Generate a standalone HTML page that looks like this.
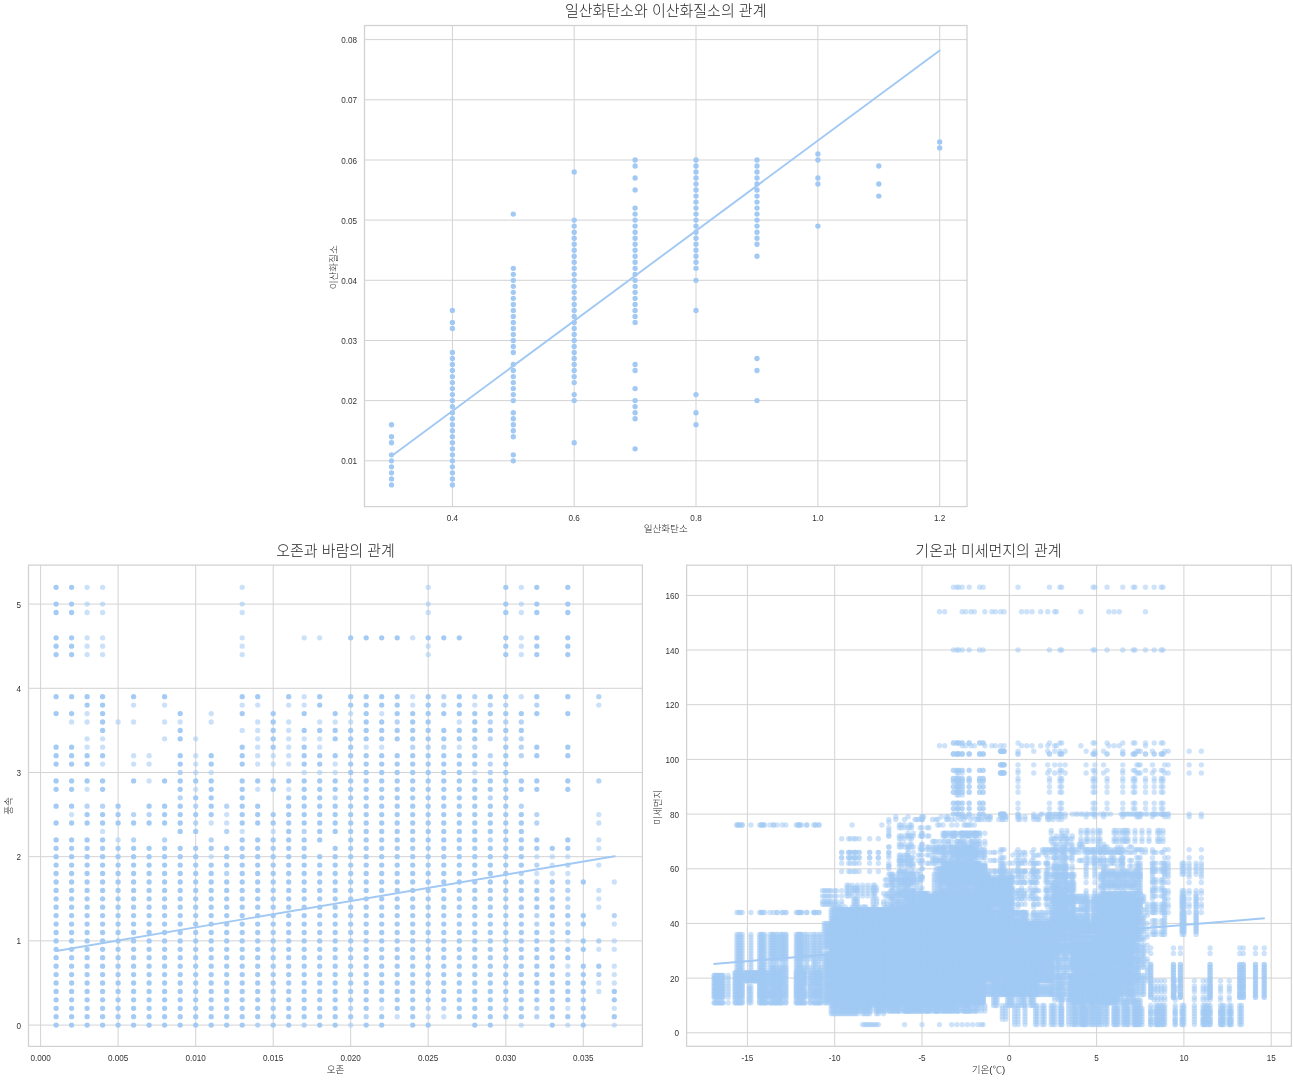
<!DOCTYPE html>
<html lang="ko"><head><meta charset="utf-8"><title>대기오염 산점도</title>
<style>
html,body{margin:0;padding:0;background:#fff}
svg{display:block;will-change:transform}
text{font-family:"Liberation Sans","Noto Sans CJK KR",sans-serif;fill:#262626}
.tk{font-size:9.6px;fill:#333}
.lb{font-size:9.6px;font-weight:300}
.tt{font-size:15px;font-weight:300}
</style></head><body>
<svg width="1293" height="1080" viewBox="0 0 1293 1080">
<path d="M452.4 25.5V506.6M574.2 25.5V506.6M696 25.5V506.6M817.9 25.5V506.6M939.7 25.5V506.6M364.5 460.8H967M364.5 400.6H967M364.5 340.5H967M364.5 280.3H967M364.5 220.1H967M364.5 160H967M364.5 99.8H967M364.5 39.6H967" fill="none" stroke="#d3d3d3" stroke-width="1"/>
<path d="M391.5 484.9zM391.5 478.9zM391.5 472.8zM391.5 466.8zM391.5 460.8zM391.5 454.8zM391.5 442.7zM391.5 436.7zM391.5 424.7zM452.4 484.9zM452.4 478.9zM452.4 472.8zM452.4 466.8zM452.4 460.8zM452.4 454.8zM452.4 448.8zM452.4 442.7zM452.4 436.7zM452.4 430.7zM452.4 424.7zM452.4 418.7zM452.4 412.7zM452.4 406.6zM452.4 400.6zM452.4 394.6zM452.4 388.6zM452.4 382.6zM452.4 376.6zM452.4 370.5zM452.4 364.5zM452.4 358.5zM452.4 352.5zM452.4 328.4zM452.4 322.4zM452.4 310.4zM513.3 460.8zM513.3 454.8zM513.3 436.7zM513.3 430.7zM513.3 424.7zM513.3 418.7zM513.3 412.7zM513.3 400.6zM513.3 394.6zM513.3 388.6zM513.3 382.6zM513.3 376.6zM513.3 370.5zM513.3 364.5zM513.3 352.5zM513.3 346.5zM513.3 340.5zM513.3 334.4zM513.3 328.4zM513.3 322.4zM513.3 316.4zM513.3 310.4zM513.3 304.4zM513.3 298.3zM513.3 292.3zM513.3 286.3zM513.3 280.3zM513.3 274.3zM513.3 268.3zM513.3 214.1zM574.2 442.7zM574.2 400.6zM574.2 394.6zM574.2 382.6zM574.2 376.6zM574.2 370.5zM574.2 364.5zM574.2 358.5zM574.2 352.5zM574.2 346.5zM574.2 340.5zM574.2 334.4zM574.2 328.4zM574.2 322.4zM574.2 316.4zM574.2 310.4zM574.2 304.4zM574.2 298.3zM574.2 292.3zM574.2 286.3zM574.2 280.3zM574.2 274.3zM574.2 268.3zM574.2 262.2zM574.2 256.2zM574.2 250.2zM574.2 244.2zM574.2 238.2zM574.2 232.2zM574.2 226.1zM574.2 220.1zM574.2 172zM635.1 448.8zM635.1 418.7zM635.1 412.7zM635.1 406.6zM635.1 400.6zM635.1 388.6zM635.1 370.5zM635.1 364.5zM635.1 322.4zM635.1 316.4zM635.1 310.4zM635.1 304.4zM635.1 298.3zM635.1 292.3zM635.1 286.3zM635.1 280.3zM635.1 274.3zM635.1 268.3zM635.1 262.2zM635.1 256.2zM635.1 250.2zM635.1 244.2zM635.1 238.2zM635.1 232.2zM635.1 226.1zM635.1 220.1zM635.1 214.1zM635.1 208.1zM635.1 190zM635.1 178zM635.1 166zM635.1 160zM696 424.7zM696 412.7zM696 394.6zM696 310.4zM696 280.3zM696 268.3zM696 262.2zM696 256.2zM696 250.2zM696 244.2zM696 238.2zM696 232.2zM696 226.1zM696 220.1zM696 214.1zM696 208.1zM696 202.1zM696 196.1zM696 190zM696 184zM696 178zM696 172zM696 166zM696 160zM757 400.6zM757 370.5zM757 358.5zM757 256.2zM757 244.2zM757 238.2zM757 232.2zM757 226.1zM757 220.1zM757 214.1zM757 208.1zM757 202.1zM757 196.1zM757 190zM757 184zM757 178zM757 172zM757 166zM757 160zM817.9 226.1zM817.9 184zM817.9 178zM817.9 160zM817.9 153.9zM878.8 196.1zM878.8 184zM878.8 166zM939.7 147.9zM939.7 141.9z" fill="none" stroke="#a1c9f4" stroke-width="5.35" stroke-linecap="round"/>
<path d="M391.6 455.9L939.7 50.5" fill="none" stroke="#a1c9f4" stroke-width="1.9" stroke-linecap="round"/>
<rect x="364.5" y="25.5" width="602.5" height="481.1" fill="none" stroke="#d1d1d1" stroke-width="1.25"/>
<text class="tk" transform="translate(452.4 520.9) scale(.85 1)" text-anchor="middle">0.4</text>
<text class="tk" transform="translate(574.2 520.9) scale(.85 1)" text-anchor="middle">0.6</text>
<text class="tk" transform="translate(696 520.9) scale(.85 1)" text-anchor="middle">0.8</text>
<text class="tk" transform="translate(817.9 520.9) scale(.85 1)" text-anchor="middle">1.0</text>
<text class="tk" transform="translate(939.7 520.9) scale(.85 1)" text-anchor="middle">1.2</text>
<text class="tk" transform="translate(357 464.3) scale(.85 1)" text-anchor="end">0.01</text>
<text class="tk" transform="translate(357 404.1) scale(.85 1)" text-anchor="end">0.02</text>
<text class="tk" transform="translate(357 344) scale(.85 1)" text-anchor="end">0.03</text>
<text class="tk" transform="translate(357 283.8) scale(.85 1)" text-anchor="end">0.04</text>
<text class="tk" transform="translate(357 223.6) scale(.85 1)" text-anchor="end">0.05</text>
<text class="tk" transform="translate(357 163.5) scale(.85 1)" text-anchor="end">0.06</text>
<text class="tk" transform="translate(357 103.3) scale(.85 1)" text-anchor="end">0.07</text>
<text class="tk" transform="translate(357 43.1) scale(.85 1)" text-anchor="end">0.08</text>
<text class="lb" x="665.7" y="532.3" text-anchor="middle">일산화탄소</text>
<text class="lb" transform="translate(337.2 267.3) rotate(-90)" text-anchor="middle">이산화질소</text>
<text class="tt" x="665.7" y="15.6" text-anchor="middle">일산화탄소와 이산화질소의 관계</text>
<path d="M40.6 565.1V1046.4M118.1 565.1V1046.4M195.7 565.1V1046.4M273.2 565.1V1046.4M350.7 565.1V1046.4M428.2 565.1V1046.4M505.8 565.1V1046.4M583.3 565.1V1046.4M28.5 1025.1H642.4M28.5 940.9H642.4M28.5 856.7H642.4M28.5 772.5H642.4M28.5 688.3H642.4M28.5 604.1H642.4" fill="none" stroke="#d3d3d3" stroke-width="1"/>
<path d="M87.1 587.3zM102.6 587.3zM242.2 587.3zM428.2 587.3zM521.3 587.3zM87.1 604.1zM102.6 604.1zM242.2 604.1zM428.2 604.1zM521.3 604.1zM87.1 612.5zM102.6 612.5zM242.2 612.5zM428.2 612.5zM521.3 612.5zM87.1 637.8zM102.6 637.8zM242.2 637.8zM304.2 637.8zM319.7 637.8zM412.7 637.8zM521.3 637.8zM87.1 646.2zM102.6 646.2zM242.2 646.2zM428.2 646.2zM521.3 646.2zM87.1 654.6zM102.6 654.6zM242.2 654.6zM428.2 654.6zM521.3 654.6zM304.2 696.7zM412.7 696.7zM521.3 696.7zM133.6 705.1zM164.6 705.1zM242.2 705.1zM257.7 705.1zM288.7 705.1zM304.2 705.1zM412.7 705.1zM474.8 705.1zM598.8 705.1zM87.1 713.6zM211.2 713.6zM350.7 713.6zM381.7 713.6zM71.6 722zM87.1 722zM118.1 722zM133.6 722zM164.6 722zM180.2 722zM211.2 722zM257.7 722zM288.7 722zM319.7 722zM335.2 722zM350.7 722zM459.3 722zM242.2 730.4zM257.7 730.4zM288.7 730.4zM87.1 738.8zM102.6 738.8zM164.6 738.8zM195.7 738.8zM257.7 738.8zM288.7 738.8zM304.2 738.8zM319.7 738.8zM87.1 747.2zM102.6 747.2zM257.7 747.2zM288.7 747.2zM319.7 747.2zM366.2 747.2zM381.7 747.2zM459.3 747.2zM133.6 755.7zM149.1 755.7zM195.7 755.7zM257.7 755.7zM273.2 755.7zM288.7 755.7zM102.6 764.1zM133.6 764.1zM149.1 764.1zM195.7 764.1zM257.7 764.1zM273.2 764.1zM288.7 764.1zM335.2 764.1zM195.7 772.5zM211.2 772.5zM304.2 772.5zM319.7 772.5zM335.2 772.5zM474.8 772.5zM149.1 780.9zM87.1 789.3zM195.7 789.3zM257.7 789.3zM288.7 789.3zM71.6 814.6zM226.7 814.6zM598.8 814.6zM211.2 823zM226.7 823zM598.8 823zM102.6 831.4zM242.2 831.4zM273.2 831.4zM118.1 839.9zM598.8 839.9zM598.8 848.3zM211.2 856.7zM536.8 856.7zM552.3 856.7zM567.8 856.7zM552.3 865.1zM598.8 865.1zM536.8 873.5zM552.3 873.5zM567.8 873.5zM614.3 882zM598.8 890.4zM598.8 898.8zM598.8 907.2zM614.3 924.1zM567.8 940.9zM614.3 940.9zM598.8 949.3zM614.3 949.3zM567.8 966.2zM614.3 966.2zM614.3 974.6zM598.8 983zM614.3 983zM598.8 991.4zM381.7 1008.3zM567.8 1008.3zM614.3 1008.3zM397.2 1016.7zM428.2 1016.7zM443.8 1016.7zM350.7 1025.1zM521.3 1025.1zM567.8 1025.1zM614.3 1025.1z" fill="none" stroke="#a1c9f4" stroke-opacity="0.56" stroke-width="5.3" stroke-linecap="round"/>
<path d="M443.8 696.7zM474.8 696.7zM598.8 696.7zM443.8 705.1zM490.3 705.1zM505.8 705.1zM536.8 705.1zM397.2 722zM490.3 722zM505.8 722zM521.3 722zM490.3 738.8zM505.8 738.8zM521.3 738.8zM412.7 747.2zM428.2 747.2zM443.8 747.2zM474.8 747.2zM521.3 747.2zM490.3 755.7zM521.3 755.7zM490.3 764.1zM180.2 772.5zM490.3 772.5zM598.8 780.9zM180.2 797.8zM335.2 797.8zM490.3 797.8zM87.1 806.2zM102.6 806.2zM195.7 806.2zM226.7 806.2zM521.3 806.2zM133.6 814.6zM149.1 814.6zM536.8 814.6zM195.7 823zM536.8 823zM226.7 831.4zM304.2 831.4zM133.6 839.9zM164.6 839.9zM211.2 839.9zM490.3 839.9zM536.8 865.1zM567.8 865.1zM226.7 873.5zM521.3 873.5zM536.8 882zM567.8 882zM552.3 890.4zM567.8 890.4zM567.8 898.8zM567.8 907.2zM536.8 915.6zM614.3 915.6zM536.8 924.1zM567.8 924.1zM552.3 932.5zM598.8 940.9zM567.8 974.6zM598.8 974.6zM350.7 1008.3zM428.2 1008.3zM443.8 1008.3zM505.8 1008.3zM536.8 1008.3zM366.2 1016.7zM536.8 1016.7zM257.7 1025.1zM304.2 1025.1z" fill="none" stroke="#a1c9f4" stroke-opacity="0.78" stroke-width="5.3" stroke-linecap="round"/>
<path d="M56.1 587.3zM71.6 587.3zM505.8 587.3zM536.8 587.3zM567.8 587.3zM56.1 604.1zM71.6 604.1zM505.8 604.1zM536.8 604.1zM567.8 604.1zM56.1 612.5zM71.6 612.5zM505.8 612.5zM536.8 612.5zM567.8 612.5zM56.1 637.8zM71.6 637.8zM350.7 637.8zM366.2 637.8zM381.7 637.8zM397.2 637.8zM428.2 637.8zM443.8 637.8zM459.3 637.8zM505.8 637.8zM536.8 637.8zM567.8 637.8zM56.1 646.2zM71.6 646.2zM505.8 646.2zM536.8 646.2zM567.8 646.2zM56.1 654.6zM71.6 654.6zM505.8 654.6zM536.8 654.6zM567.8 654.6zM56.1 696.7zM71.6 696.7zM87.1 696.7zM102.6 696.7zM133.6 696.7zM164.6 696.7zM242.2 696.7zM257.7 696.7zM288.7 696.7zM319.7 696.7zM350.7 696.7zM366.2 696.7zM381.7 696.7zM397.2 696.7zM428.2 696.7zM459.3 696.7zM490.3 696.7zM505.8 696.7zM536.8 696.7zM567.8 696.7zM87.1 705.1zM102.6 705.1zM319.7 705.1zM350.7 705.1zM366.2 705.1zM381.7 705.1zM397.2 705.1zM428.2 705.1zM459.3 705.1zM56.1 713.6zM71.6 713.6zM102.6 713.6zM180.2 713.6zM242.2 713.6zM273.2 713.6zM304.2 713.6zM335.2 713.6zM366.2 713.6zM397.2 713.6zM412.7 713.6zM428.2 713.6zM443.8 713.6zM459.3 713.6zM474.8 713.6zM490.3 713.6zM505.8 713.6zM521.3 713.6zM536.8 713.6zM567.8 713.6zM102.6 722zM273.2 722zM366.2 722zM381.7 722zM412.7 722zM428.2 722zM474.8 722zM102.6 730.4zM180.2 730.4zM273.2 730.4zM304.2 730.4zM319.7 730.4zM335.2 730.4zM350.7 730.4zM366.2 730.4zM381.7 730.4zM397.2 730.4zM412.7 730.4zM428.2 730.4zM443.8 730.4zM459.3 730.4zM474.8 730.4zM490.3 730.4zM505.8 730.4zM521.3 730.4zM180.2 738.8zM273.2 738.8zM335.2 738.8zM350.7 738.8zM366.2 738.8zM381.7 738.8zM397.2 738.8zM412.7 738.8zM428.2 738.8zM443.8 738.8zM459.3 738.8zM474.8 738.8zM56.1 747.2zM71.6 747.2zM242.2 747.2zM273.2 747.2zM304.2 747.2zM350.7 747.2zM505.8 747.2zM536.8 747.2zM567.8 747.2zM56.1 755.7zM71.6 755.7zM87.1 755.7zM102.6 755.7zM180.2 755.7zM211.2 755.7zM242.2 755.7zM304.2 755.7zM319.7 755.7zM335.2 755.7zM350.7 755.7zM366.2 755.7zM381.7 755.7zM397.2 755.7zM412.7 755.7zM428.2 755.7zM443.8 755.7zM459.3 755.7zM474.8 755.7zM505.8 755.7zM536.8 755.7zM567.8 755.7zM56.1 764.1zM71.6 764.1zM87.1 764.1zM180.2 764.1zM211.2 764.1zM242.2 764.1zM304.2 764.1zM319.7 764.1zM350.7 764.1zM366.2 764.1zM381.7 764.1zM397.2 764.1zM412.7 764.1zM428.2 764.1zM443.8 764.1zM459.3 764.1zM474.8 764.1zM505.8 764.1zM350.7 772.5zM366.2 772.5zM381.7 772.5zM397.2 772.5zM412.7 772.5zM428.2 772.5zM443.8 772.5zM459.3 772.5zM505.8 772.5zM56.1 780.9zM71.6 780.9zM87.1 780.9zM102.6 780.9zM133.6 780.9zM164.6 780.9zM180.2 780.9zM195.7 780.9zM211.2 780.9zM242.2 780.9zM257.7 780.9zM273.2 780.9zM288.7 780.9zM304.2 780.9zM319.7 780.9zM335.2 780.9zM350.7 780.9zM366.2 780.9zM381.7 780.9zM397.2 780.9zM412.7 780.9zM428.2 780.9zM443.8 780.9zM459.3 780.9zM474.8 780.9zM490.3 780.9zM505.8 780.9zM521.3 780.9zM536.8 780.9zM567.8 780.9zM56.1 789.3zM71.6 789.3zM102.6 789.3zM180.2 789.3zM211.2 789.3zM242.2 789.3zM273.2 789.3zM304.2 789.3zM319.7 789.3zM335.2 789.3zM350.7 789.3zM366.2 789.3zM381.7 789.3zM397.2 789.3zM412.7 789.3zM428.2 789.3zM443.8 789.3zM459.3 789.3zM474.8 789.3zM490.3 789.3zM505.8 789.3zM521.3 789.3zM536.8 789.3zM567.8 789.3zM195.7 797.8zM211.2 797.8zM242.2 797.8zM288.7 797.8zM304.2 797.8zM319.7 797.8zM350.7 797.8zM366.2 797.8zM381.7 797.8zM397.2 797.8zM412.7 797.8zM428.2 797.8zM443.8 797.8zM459.3 797.8zM474.8 797.8zM505.8 797.8zM56.1 806.2zM71.6 806.2zM118.1 806.2zM149.1 806.2zM164.6 806.2zM180.2 806.2zM211.2 806.2zM242.2 806.2zM257.7 806.2zM288.7 806.2zM304.2 806.2zM319.7 806.2zM335.2 806.2zM350.7 806.2zM366.2 806.2zM381.7 806.2zM397.2 806.2zM412.7 806.2zM428.2 806.2zM443.8 806.2zM459.3 806.2zM474.8 806.2zM490.3 806.2zM505.8 806.2zM87.1 814.6zM102.6 814.6zM118.1 814.6zM164.6 814.6zM180.2 814.6zM195.7 814.6zM211.2 814.6zM242.2 814.6zM257.7 814.6zM273.2 814.6zM288.7 814.6zM304.2 814.6zM319.7 814.6zM335.2 814.6zM350.7 814.6zM366.2 814.6zM381.7 814.6zM397.2 814.6zM412.7 814.6zM428.2 814.6zM443.8 814.6zM459.3 814.6zM474.8 814.6zM490.3 814.6zM505.8 814.6zM521.3 814.6zM56.1 823zM71.6 823zM87.1 823zM102.6 823zM118.1 823zM133.6 823zM149.1 823zM164.6 823zM180.2 823zM242.2 823zM257.7 823zM273.2 823zM288.7 823zM304.2 823zM319.7 823zM335.2 823zM350.7 823zM366.2 823zM381.7 823zM397.2 823zM412.7 823zM428.2 823zM443.8 823zM459.3 823zM474.8 823zM490.3 823zM505.8 823zM521.3 823zM180.2 831.4zM195.7 831.4zM288.7 831.4zM319.7 831.4zM335.2 831.4zM350.7 831.4zM366.2 831.4zM381.7 831.4zM397.2 831.4zM412.7 831.4zM428.2 831.4zM443.8 831.4zM459.3 831.4zM474.8 831.4zM490.3 831.4zM505.8 831.4zM521.3 831.4zM56.1 839.9zM71.6 839.9zM87.1 839.9zM102.6 839.9zM242.2 839.9zM257.7 839.9zM273.2 839.9zM288.7 839.9zM304.2 839.9zM319.7 839.9zM350.7 839.9zM366.2 839.9zM381.7 839.9zM397.2 839.9zM412.7 839.9zM428.2 839.9zM443.8 839.9zM459.3 839.9zM474.8 839.9zM505.8 839.9zM521.3 839.9zM536.8 839.9zM567.8 839.9zM56.1 848.3zM71.6 848.3zM87.1 848.3zM102.6 848.3zM118.1 848.3zM133.6 848.3zM149.1 848.3zM164.6 848.3zM180.2 848.3zM195.7 848.3zM211.2 848.3zM226.7 848.3zM242.2 848.3zM257.7 848.3zM273.2 848.3zM288.7 848.3zM304.2 848.3zM335.2 848.3zM350.7 848.3zM366.2 848.3zM381.7 848.3zM397.2 848.3zM412.7 848.3zM428.2 848.3zM443.8 848.3zM459.3 848.3zM474.8 848.3zM490.3 848.3zM505.8 848.3zM521.3 848.3zM536.8 848.3zM552.3 848.3zM567.8 848.3zM56.1 856.7zM71.6 856.7zM87.1 856.7zM102.6 856.7zM118.1 856.7zM133.6 856.7zM149.1 856.7zM164.6 856.7zM180.2 856.7zM195.7 856.7zM226.7 856.7zM242.2 856.7zM257.7 856.7zM273.2 856.7zM288.7 856.7zM304.2 856.7zM319.7 856.7zM335.2 856.7zM350.7 856.7zM366.2 856.7zM381.7 856.7zM397.2 856.7zM412.7 856.7zM428.2 856.7zM443.8 856.7zM459.3 856.7zM474.8 856.7zM490.3 856.7zM505.8 856.7zM521.3 856.7zM56.1 865.1zM71.6 865.1zM87.1 865.1zM102.6 865.1zM118.1 865.1zM133.6 865.1zM149.1 865.1zM164.6 865.1zM180.2 865.1zM195.7 865.1zM211.2 865.1zM226.7 865.1zM242.2 865.1zM257.7 865.1zM273.2 865.1zM288.7 865.1zM304.2 865.1zM319.7 865.1zM335.2 865.1zM350.7 865.1zM366.2 865.1zM381.7 865.1zM397.2 865.1zM412.7 865.1zM428.2 865.1zM443.8 865.1zM459.3 865.1zM474.8 865.1zM490.3 865.1zM505.8 865.1zM521.3 865.1zM56.1 873.5zM71.6 873.5zM87.1 873.5zM102.6 873.5zM118.1 873.5zM133.6 873.5zM149.1 873.5zM164.6 873.5zM180.2 873.5zM195.7 873.5zM211.2 873.5zM242.2 873.5zM257.7 873.5zM273.2 873.5zM288.7 873.5zM304.2 873.5zM319.7 873.5zM335.2 873.5zM350.7 873.5zM366.2 873.5zM381.7 873.5zM397.2 873.5zM412.7 873.5zM428.2 873.5zM443.8 873.5zM459.3 873.5zM474.8 873.5zM490.3 873.5zM505.8 873.5zM56.1 882zM71.6 882zM87.1 882zM102.6 882zM118.1 882zM133.6 882zM149.1 882zM164.6 882zM180.2 882zM195.7 882zM211.2 882zM226.7 882zM242.2 882zM257.7 882zM273.2 882zM288.7 882zM304.2 882zM319.7 882zM335.2 882zM350.7 882zM366.2 882zM381.7 882zM397.2 882zM412.7 882zM428.2 882zM443.8 882zM459.3 882zM474.8 882zM490.3 882zM505.8 882zM521.3 882zM552.3 882zM583.3 882zM56.1 890.4zM71.6 890.4zM87.1 890.4zM102.6 890.4zM118.1 890.4zM133.6 890.4zM149.1 890.4zM164.6 890.4zM180.2 890.4zM195.7 890.4zM211.2 890.4zM226.7 890.4zM242.2 890.4zM257.7 890.4zM273.2 890.4zM288.7 890.4zM304.2 890.4zM319.7 890.4zM335.2 890.4zM350.7 890.4zM366.2 890.4zM381.7 890.4zM397.2 890.4zM412.7 890.4zM428.2 890.4zM443.8 890.4zM459.3 890.4zM474.8 890.4zM490.3 890.4zM505.8 890.4zM521.3 890.4zM536.8 890.4zM56.1 898.8zM71.6 898.8zM87.1 898.8zM102.6 898.8zM118.1 898.8zM133.6 898.8zM149.1 898.8zM164.6 898.8zM180.2 898.8zM195.7 898.8zM211.2 898.8zM226.7 898.8zM242.2 898.8zM257.7 898.8zM273.2 898.8zM288.7 898.8zM304.2 898.8zM319.7 898.8zM335.2 898.8zM350.7 898.8zM366.2 898.8zM381.7 898.8zM397.2 898.8zM412.7 898.8zM428.2 898.8zM443.8 898.8zM459.3 898.8zM474.8 898.8zM490.3 898.8zM505.8 898.8zM521.3 898.8zM536.8 898.8zM552.3 898.8zM56.1 907.2zM71.6 907.2zM87.1 907.2zM102.6 907.2zM118.1 907.2zM133.6 907.2zM149.1 907.2zM164.6 907.2zM180.2 907.2zM195.7 907.2zM211.2 907.2zM226.7 907.2zM242.2 907.2zM257.7 907.2zM273.2 907.2zM288.7 907.2zM304.2 907.2zM319.7 907.2zM335.2 907.2zM350.7 907.2zM366.2 907.2zM381.7 907.2zM397.2 907.2zM412.7 907.2zM428.2 907.2zM443.8 907.2zM459.3 907.2zM474.8 907.2zM490.3 907.2zM505.8 907.2zM521.3 907.2zM536.8 907.2zM552.3 907.2zM56.1 915.6zM71.6 915.6zM87.1 915.6zM102.6 915.6zM118.1 915.6zM133.6 915.6zM149.1 915.6zM164.6 915.6zM180.2 915.6zM195.7 915.6zM211.2 915.6zM226.7 915.6zM242.2 915.6zM257.7 915.6zM273.2 915.6zM288.7 915.6zM304.2 915.6zM319.7 915.6zM335.2 915.6zM350.7 915.6zM366.2 915.6zM381.7 915.6zM397.2 915.6zM412.7 915.6zM428.2 915.6zM443.8 915.6zM459.3 915.6zM474.8 915.6zM490.3 915.6zM505.8 915.6zM521.3 915.6zM552.3 915.6zM567.8 915.6zM583.3 915.6zM56.1 924.1zM71.6 924.1zM87.1 924.1zM102.6 924.1zM118.1 924.1zM133.6 924.1zM149.1 924.1zM164.6 924.1zM180.2 924.1zM195.7 924.1zM211.2 924.1zM226.7 924.1zM242.2 924.1zM257.7 924.1zM273.2 924.1zM288.7 924.1zM304.2 924.1zM319.7 924.1zM335.2 924.1zM350.7 924.1zM366.2 924.1zM381.7 924.1zM397.2 924.1zM412.7 924.1zM428.2 924.1zM443.8 924.1zM459.3 924.1zM474.8 924.1zM490.3 924.1zM505.8 924.1zM521.3 924.1zM552.3 924.1zM583.3 924.1zM56.1 932.5zM71.6 932.5zM87.1 932.5zM102.6 932.5zM118.1 932.5zM133.6 932.5zM149.1 932.5zM164.6 932.5zM180.2 932.5zM195.7 932.5zM211.2 932.5zM226.7 932.5zM242.2 932.5zM257.7 932.5zM273.2 932.5zM288.7 932.5zM304.2 932.5zM319.7 932.5zM335.2 932.5zM350.7 932.5zM366.2 932.5zM381.7 932.5zM397.2 932.5zM412.7 932.5zM428.2 932.5zM443.8 932.5zM459.3 932.5zM474.8 932.5zM490.3 932.5zM505.8 932.5zM521.3 932.5zM536.8 932.5zM567.8 932.5zM56.1 940.9zM71.6 940.9zM87.1 940.9zM102.6 940.9zM118.1 940.9zM133.6 940.9zM149.1 940.9zM164.6 940.9zM180.2 940.9zM195.7 940.9zM211.2 940.9zM226.7 940.9zM242.2 940.9zM257.7 940.9zM273.2 940.9zM288.7 940.9zM304.2 940.9zM319.7 940.9zM335.2 940.9zM350.7 940.9zM366.2 940.9zM381.7 940.9zM397.2 940.9zM412.7 940.9zM428.2 940.9zM443.8 940.9zM459.3 940.9zM474.8 940.9zM490.3 940.9zM505.8 940.9zM521.3 940.9zM536.8 940.9zM552.3 940.9zM583.3 940.9zM56.1 949.3zM71.6 949.3zM87.1 949.3zM102.6 949.3zM118.1 949.3zM133.6 949.3zM149.1 949.3zM164.6 949.3zM180.2 949.3zM195.7 949.3zM211.2 949.3zM226.7 949.3zM242.2 949.3zM257.7 949.3zM273.2 949.3zM288.7 949.3zM304.2 949.3zM319.7 949.3zM335.2 949.3zM350.7 949.3zM366.2 949.3zM381.7 949.3zM397.2 949.3zM412.7 949.3zM428.2 949.3zM443.8 949.3zM459.3 949.3zM474.8 949.3zM490.3 949.3zM505.8 949.3zM521.3 949.3zM536.8 949.3zM552.3 949.3zM567.8 949.3zM583.3 949.3zM56.1 957.7zM71.6 957.7zM87.1 957.7zM102.6 957.7zM118.1 957.7zM133.6 957.7zM149.1 957.7zM164.6 957.7zM180.2 957.7zM195.7 957.7zM211.2 957.7zM226.7 957.7zM242.2 957.7zM257.7 957.7zM273.2 957.7zM288.7 957.7zM304.2 957.7zM319.7 957.7zM335.2 957.7zM350.7 957.7zM366.2 957.7zM381.7 957.7zM397.2 957.7zM412.7 957.7zM428.2 957.7zM443.8 957.7zM459.3 957.7zM474.8 957.7zM490.3 957.7zM505.8 957.7zM521.3 957.7zM536.8 957.7zM552.3 957.7zM567.8 957.7zM56.1 966.2zM71.6 966.2zM87.1 966.2zM102.6 966.2zM118.1 966.2zM133.6 966.2zM149.1 966.2zM164.6 966.2zM180.2 966.2zM195.7 966.2zM211.2 966.2zM226.7 966.2zM242.2 966.2zM257.7 966.2zM273.2 966.2zM288.7 966.2zM304.2 966.2zM319.7 966.2zM335.2 966.2zM350.7 966.2zM366.2 966.2zM381.7 966.2zM397.2 966.2zM412.7 966.2zM428.2 966.2zM443.8 966.2zM459.3 966.2zM474.8 966.2zM490.3 966.2zM505.8 966.2zM521.3 966.2zM536.8 966.2zM552.3 966.2zM583.3 966.2zM598.8 966.2zM56.1 974.6zM71.6 974.6zM87.1 974.6zM102.6 974.6zM118.1 974.6zM133.6 974.6zM149.1 974.6zM164.6 974.6zM180.2 974.6zM195.7 974.6zM211.2 974.6zM226.7 974.6zM242.2 974.6zM257.7 974.6zM273.2 974.6zM288.7 974.6zM304.2 974.6zM319.7 974.6zM335.2 974.6zM350.7 974.6zM366.2 974.6zM381.7 974.6zM397.2 974.6zM412.7 974.6zM428.2 974.6zM443.8 974.6zM459.3 974.6zM474.8 974.6zM490.3 974.6zM505.8 974.6zM521.3 974.6zM536.8 974.6zM552.3 974.6zM583.3 974.6zM56.1 983zM71.6 983zM87.1 983zM102.6 983zM118.1 983zM133.6 983zM149.1 983zM164.6 983zM180.2 983zM195.7 983zM211.2 983zM226.7 983zM242.2 983zM257.7 983zM273.2 983zM288.7 983zM304.2 983zM319.7 983zM335.2 983zM350.7 983zM366.2 983zM381.7 983zM397.2 983zM412.7 983zM428.2 983zM443.8 983zM459.3 983zM474.8 983zM490.3 983zM505.8 983zM521.3 983zM536.8 983zM552.3 983zM567.8 983zM583.3 983zM56.1 991.4zM71.6 991.4zM87.1 991.4zM102.6 991.4zM118.1 991.4zM133.6 991.4zM149.1 991.4zM164.6 991.4zM180.2 991.4zM195.7 991.4zM211.2 991.4zM226.7 991.4zM242.2 991.4zM257.7 991.4zM273.2 991.4zM288.7 991.4zM304.2 991.4zM319.7 991.4zM335.2 991.4zM350.7 991.4zM366.2 991.4zM381.7 991.4zM397.2 991.4zM412.7 991.4zM428.2 991.4zM443.8 991.4zM459.3 991.4zM474.8 991.4zM490.3 991.4zM505.8 991.4zM521.3 991.4zM536.8 991.4zM552.3 991.4zM567.8 991.4zM583.3 991.4zM614.3 991.4zM56.1 999.8zM71.6 999.8zM87.1 999.8zM102.6 999.8zM118.1 999.8zM133.6 999.8zM149.1 999.8zM164.6 999.8zM180.2 999.8zM195.7 999.8zM211.2 999.8zM226.7 999.8zM242.2 999.8zM257.7 999.8zM273.2 999.8zM288.7 999.8zM304.2 999.8zM319.7 999.8zM335.2 999.8zM350.7 999.8zM366.2 999.8zM381.7 999.8zM397.2 999.8zM412.7 999.8zM428.2 999.8zM443.8 999.8zM459.3 999.8zM474.8 999.8zM490.3 999.8zM505.8 999.8zM521.3 999.8zM536.8 999.8zM552.3 999.8zM567.8 999.8zM583.3 999.8zM614.3 999.8zM56.1 1008.3zM71.6 1008.3zM87.1 1008.3zM102.6 1008.3zM118.1 1008.3zM133.6 1008.3zM149.1 1008.3zM164.6 1008.3zM180.2 1008.3zM195.7 1008.3zM211.2 1008.3zM226.7 1008.3zM242.2 1008.3zM257.7 1008.3zM273.2 1008.3zM288.7 1008.3zM304.2 1008.3zM319.7 1008.3zM335.2 1008.3zM366.2 1008.3zM397.2 1008.3zM412.7 1008.3zM459.3 1008.3zM474.8 1008.3zM490.3 1008.3zM521.3 1008.3zM552.3 1008.3zM583.3 1008.3zM56.1 1016.7zM71.6 1016.7zM87.1 1016.7zM102.6 1016.7zM118.1 1016.7zM133.6 1016.7zM149.1 1016.7zM164.6 1016.7zM180.2 1016.7zM195.7 1016.7zM211.2 1016.7zM226.7 1016.7zM242.2 1016.7zM257.7 1016.7zM273.2 1016.7zM288.7 1016.7zM304.2 1016.7zM319.7 1016.7zM335.2 1016.7zM350.7 1016.7zM381.7 1016.7zM412.7 1016.7zM459.3 1016.7zM474.8 1016.7zM490.3 1016.7zM505.8 1016.7zM521.3 1016.7zM552.3 1016.7zM567.8 1016.7zM583.3 1016.7zM614.3 1016.7zM56.1 1025.1zM71.6 1025.1zM87.1 1025.1zM102.6 1025.1zM118.1 1025.1zM133.6 1025.1zM149.1 1025.1zM164.6 1025.1zM180.2 1025.1zM195.7 1025.1zM211.2 1025.1zM226.7 1025.1zM242.2 1025.1zM273.2 1025.1zM288.7 1025.1zM319.7 1025.1zM335.2 1025.1zM366.2 1025.1zM381.7 1025.1zM412.7 1025.1zM428.2 1025.1zM474.8 1025.1zM490.3 1025.1zM552.3 1025.1zM583.3 1025.1z" fill="none" stroke="#a1c9f4" stroke-opacity="0.97" stroke-width="5.3" stroke-linecap="round"/>
<path d="M56.3 951L614.8 856.2" fill="none" stroke="#a1c9f4" stroke-width="1.9" stroke-linecap="round"/>
<rect x="28.5" y="565.1" width="613.9" height="481.3" fill="none" stroke="#d1d1d1" stroke-width="1.25"/>
<text class="tk" transform="translate(40.6 1060.7) scale(.85 1)" text-anchor="middle">0.000</text>
<text class="tk" transform="translate(118.1 1060.7) scale(.85 1)" text-anchor="middle">0.005</text>
<text class="tk" transform="translate(195.7 1060.7) scale(.85 1)" text-anchor="middle">0.010</text>
<text class="tk" transform="translate(273.2 1060.7) scale(.85 1)" text-anchor="middle">0.015</text>
<text class="tk" transform="translate(350.7 1060.7) scale(.85 1)" text-anchor="middle">0.020</text>
<text class="tk" transform="translate(428.2 1060.7) scale(.85 1)" text-anchor="middle">0.025</text>
<text class="tk" transform="translate(505.8 1060.7) scale(.85 1)" text-anchor="middle">0.030</text>
<text class="tk" transform="translate(583.3 1060.7) scale(.85 1)" text-anchor="middle">0.035</text>
<text class="tk" transform="translate(21 1028.6) scale(.85 1)" text-anchor="end">0</text>
<text class="tk" transform="translate(21 944.4) scale(.85 1)" text-anchor="end">1</text>
<text class="tk" transform="translate(21 860.2) scale(.85 1)" text-anchor="end">2</text>
<text class="tk" transform="translate(21 776) scale(.85 1)" text-anchor="end">3</text>
<text class="tk" transform="translate(21 691.8) scale(.85 1)" text-anchor="end">4</text>
<text class="tk" transform="translate(21 607.6) scale(.85 1)" text-anchor="end">5</text>
<text class="lb" x="335.5" y="1072.5" text-anchor="middle">오존</text>
<text class="lb" transform="translate(11.5 806) rotate(-90)" text-anchor="middle">풍속</text>
<text class="tt" x="335.5" y="555.5" text-anchor="middle">오존과 바람의 관계</text>
<path d="M747.4 565.2V1046.3M834.7 565.2V1046.3M922 565.2V1046.3M1009.3 565.2V1046.3M1096.6 565.2V1046.3M1183.9 565.2V1046.3M1271.2 565.2V1046.3M686.6 1032.8H1291.4M686.6 978.1H1291.4M686.6 923.4H1291.4M686.6 868.8H1291.4M686.6 814.1H1291.4M686.6 759.4H1291.4M686.6 704.7H1291.4M686.6 650H1291.4M686.6 595.4H1291.4" fill="none" stroke="#d3d3d3" stroke-width="1"/>
<g transform="matrix(1.746 0 0 -2.734 1009.3 1032.8)" fill="none" stroke="#a1c9f4" stroke-opacity=".52" stroke-width="5.4" stroke-linecap="round">
<path vector-effect="non-scaling-stroke" d="M-168 14zm0 2zm0 2zm0 2zm3-9zm0 2zm0 2zm0 2zm0 2zm0 2zm9-7zm0 2zm0 2zm0 2zm0 2zm0 2zm0 2zm0 2zm0 2zm0 2zm0 2zm0 2zm0 8zm0 32zm3-65zm0 2zm0 2zm0 2zm0 2zm0 2zm0 2zm0 2zm0 2zm0 2zm0 2zm0 2zm0 2zm3-15zm0 2zm3-3zm0 2zm3-1zm0 2zm3-11zm0 2zm0 2zm0 2zm0 2zm0 2zm0 2zm0 2zm0 2zm0 2zm0 2zm0 2zm0 2zm6-24zm0 2zm0 2zm0 2zm0 2zm0 2zm0 2zm0 2zm0 2zm0 2zm0 2zm0 2zm0 2zm3-23zm0 2zm0 2zm0 2zm0 2zm0 2zm12-10zm0 2zm0 2zm0 2zm0 2zm0 2zm0 2zm0 2zm0 2zm0 2zm0 2zm0 2zm0 2zm0 8zm0 32zm3-65zm0 2zm0 2zm0 2zm0 2zm0 2zm0 2zm0 4zm0 2zm0 2zm0 2zm0 2zm3-23zm0 2zm0 2zm0 2zm0 2zm0 2zm0 2zm0 4zm0 2zm0 2zm0 2zm0 2zm3-25zm0 2zm0 2zm0 2zm0 2zm0 2zm0 2zm0 2zm0 2zm0 2zm0 2zm0 2zm0 2zm3-23zm0 2zm0 2zm0 2zm0 2zm0 2zm0 2zm0 4zm0 2zm0 2zm0 2zm0 2zm3-25zm0 2zm0 2zm0 2zm0 2zm0 2zm0 2zm0 2zm0 2zm0 2zm0 2zm0 2zm0 2zm0 2zm0 2zm0 8zm3-39zm0 2zm0 2zm0 2zm0 2zm0 2zm0 2zm0 2zm0 2zm0 2zm0 2zm0 2zm0 2zm0 2zm0 2zm0 2zm0 2zm0 2zm0 2zm0 4zm0 2zm0 2zm3-45zm0 2zm0 2zm0 2zm0 2zm0 2zm0 2zm0 2zm0 2zm0 2zm0 2zm0 2zm0 2zm0 2zm0 2zm0 2zm0 2zm0 2zm0 2zm0 2zm0 2zm3-39zm0 2zm0 2zm0 2zm0 2zm0 2zm0 2zm0 2zm0 2zm0 2zm0 2zm0 2zm0 2zm0 2zm0 2zm0 2zm0 2zm0 2zm0 2zm0 4zm0 2zm0 2zm0 10zm0 2zm0 2zm3-59zm0 2zm0 2zm0 2zm0 2zm0 2zm0 2zm0 2zm0 2zm0 2zm0 2zm0 2zm0 2zm0 2zm0 2zm0 2zm0 2zm0 2zm0 2zm0 2zm0 6zm0 2zm3-45zm0 2zm0 2zm0 2zm0 2zm0 2zm0 2zm0 2zm0 2zm0 2zm0 2zm0 2zm0 2zm0 2zm0 2zm0 2zm0 2zm0 2zm0 2zm0 2zm0 4zm0 2zm0 2zm0 22zm3-69zm0 2zm0 2zm0 2zm0 2zm0 2zm0 2zm0 2zm0 2zm0 2zm0 2zm0 2zm0 2zm0 2zm0 2zm0 2zm0 2zm0 2zm0 2zm0 2zm0 2zm0 2zm0 2zm0 2zm3-45zm0 2zm0 2zm0 2zm0 2zm0 2zm0 2zm0 2zm0 2zm0 2zm0 2zm0 2zm0 2zm0 2zm0 2zm0 2zm0 2zm0 2zm0 2zm0 2zm0 4zm0 2zm0 2zm3-51zm0 4zm0 2zm0 2zm0 2zm0 2zm0 2zm0 2zm0 2zm0 2zm0 2zm0 2zm0 2zm0 2zm0 2zm0 2zm0 2zm0 2zm0 2zm0 2zm0 2zm0 6zm0 2zm3-41zm0 2zm0 2zm0 2zm0 2zm0 2zm0 2zm0 2zm0 2zm0 2zm0 2zm0 2zm0 2zm0 2zm0 2zm0 2zm0 2zm0 2zm0 2zm0 2zm0 2zm0 2zm3-51zm0 4zm0 2zm0 2zm0 2zm0 2zm0 2zm0 2zm0 2zm0 2zm0 2zm0 2zm0 2zm0 2zm0 2zm0 2zm0 2zm0 2zm0 2zm0 2zm0 2zm0 14zm0 12zm3-63zm0 2zm0 2zm0 2zm0 2zm0 2zm0 2zm0 2zm0 2zm0 2zm0 2zm0 2zm0 2zm0 2zm0 2zm0 2zm0 2zm0 2zm0 2zm0 4zm3-39zm0 2zm0 2zm0 2zm0 2zm0 2zm0 2zm0 2zm0 2zm0 2zm0 2zm0 2zm0 2zm0 2zm0 2zm0 2zm0 2zm0 2zm0 2zm0 6zm0 10zm0 4zm0 8zm0 2zm0 2zm3-69zm0 2zm0 2zm0 2zm0 2zm0 2zm0 2zm0 2zm0 2zm0 2zm0 2zm0 2zm0 2zm0 2zm0 2zm0 2zm0 2zm0 2zm0 2zm0 2zm0 4zm0 4zm0 2zm3-47zm0 2zm0 2zm0 2zm0 2zm0 2zm0 2zm0 2zm0 2zm0 2zm0 2zm0 2zm0 2zm0 2zm0 2zm0 2zm0 2zm0 2zm0 2zm0 2zm0 2zm0 2zm0 2zm0 2zm0 2zm0 2zm0 2zm0 2zm0 2zm0 4zm0 2zm0 4zm3-67zm0 2zm0 2zm0 2zm0 2zm0 2zm0 2zm0 2zm0 2zm0 2zm0 2zm0 2zm0 2zm0 2zm0 2zm0 2zm0 2zm0 2zm0 2zm0 2zm0 2zm0 2zm0 2zm0 2zm0 2zm0 2zm0 4zm0 2zm0 4zm0 4zm0 4zm0 2zm3-69zm0 2zm0 2zm0 2zm0 2zm0 2zm0 2zm0 2zm0 2zm0 2zm0 2zm0 2zm0 2zm0 2zm0 2zm0 2zm0 2zm0 2zm0 2zm0 2zm0 2zm0 6zm0 2zm0 4zm0 2zm0 6zm0 2zm0 4zm3-67zm0 2zm0 2zm0 2zm0 2zm0 2zm0 2zm0 2zm0 2zm0 2zm0 2zm0 2zm0 2zm0 2zm0 2zm0 2zm0 2zm0 2zm0 2zm0 2zm0 2zm0 2zm0 6zm0 22zm3-69zm0 2zm0 2zm0 2zm0 2zm0 2zm0 2zm0 2zm0 2zm0 2zm0 2zm0 2zm0 2zm0 2zm0 2zm0 2zm0 2zm0 2zm0 2zm0 2zm0 2zm0 2zm0 2zm0 2zm0 2zm0 8zm0 2zm0 8zm3-67zm0 2zm0 2zm0 2zm0 2zm0 2zm0 2zm0 2zm0 2zm0 2zm0 2zm0 2zm0 2zm0 2zm0 2zm0 2zm0 2zm0 2zm0 2zm0 2zm0 2zm0 2zm3-41zm0 2zm0 2zm0 2zm0 2zm0 2zm0 2zm0 2zm0 2zm0 2zm0 2zm0 2zm0 2zm0 2zm0 2zm0 2zm0 2zm0 2zm0 2zm0 2zm0 2zm3-41zm0 2zm0 2zm0 2zm0 2zm0 2zm0 2zm0 2zm0 2zm0 2zm0 2zm0 2zm0 2zm0 2zm0 2zm0 2zm0 2zm0 2zm0 2zm0 2zm0 2zm0 2zm0 6zm0 2zm0 2zm0 2zm0 2zm0 2zm0 2zm0 2zm0 8zm3-69zm0 2zm0 2zm0 2zm0 2zm0 2zm0 2zm0 2zm0 2zm0 2zm0 2zm0 2zm0 2zm0 2zm0 2zm0 2zm0 2zm0 2zm0 2zm0 2zm0 2zm0 2zm0 2zm0 2zm0 2zm0 2zm0 20zm3-71zm0 2zm0 2zm0 2zm0 2zm0 2zm0 2zm0 2zm0 2zm0 2zm0 2zm0 2zm0 2zm0 2zm0 2zm0 2zm0 2zm0 2zm0 2zm0 2zm0 2zm0 2zm0 2zm0 2zm0 2zm0 2zm0 2zm0 2zm0 10zm0 6zm3-75zm0 6zm0 2zm0 2zm0 2zm0 2zm0 2zm0 2zm0 2zm0 2zm0 2zm0 2zm0 2zm0 2zm0 2zm0 2zm0 2zm0 2zm0 2zm0 2zm0 2zm0 2zm0 2zm0 2zm0 2zm0 2zm0 2zm0 2zm0 2zm0 2zm0 2zm0 6zm3-65zm0 2zm0 2zm0 2zm0 2zm0 2zm0 2zm0 2zm0 2zm0 2zm0 2zm0 2zm0 2zm0 2zm0 2zm0 2zm0 2zm0 2zm0 2zm0 2zm0 2zm0 2zm0 2zm0 2zm0 2zm0 2zm0 2zm0 2zm0 2zm0 2zm0 2zm0 2zm0 6zm0 4zm0 2zm0 2zm0 4zm0 2zm0 2zm0 4zm0 6zm0 4zm0 34zm3-137zm0 6zm0 2zm0 2zm0 2zm0 2zm0 2zm0 2zm0 2zm0 2zm0 2zm0 2zm0 2zm0 2zm0 2zm0 2zm0 2zm0 2zm0 2zm0 2zm0 2zm0 2zm0 2zm0 2zm0 2zm0 2zm0 2zm0 2zm0 4zm0 2zm0 2zm0 4zm0 6zm0 8zm0 2zm0 2zm0 2zm0 2zm0 10zm0 58zm3-155zm0 2zm0 2zm0 2zm0 2zm0 2zm0 2zm0 2zm0 2zm0 2zm0 2zm0 2zm0 2zm0 2zm0 2zm0 2zm0 2zm0 2zm0 2zm0 2zm0 2zm0 2zm0 2zm0 2zm0 2zm0 2zm0 2zm0 2zm0 2zm0 2zm0 2zm0 4zm0 4zm3-73zm0 8zm0 2zm0 2zm0 2zm0 2zm0 2zm0 2zm0 2zm0 2zm0 2zm0 2zm0 2zm0 2zm0 2zm0 2zm0 2zm0 2zm0 2zm0 2zm0 2zm0 2zm0 2zm0 2zm0 2zm0 2zm0 2zm0 4zm0 2zm0 2zm0 4zm0 6zm3-71zm0 2zm0 2zm0 2zm0 2zm0 2zm0 2zm0 2zm0 2zm0 2zm0 2zm0 2zm0 2zm0 2zm0 2zm0 2zm0 2zm0 2zm0 2zm0 2zm0 2zm0 2zm0 2zm0 2zm0 2zm0 2zm0 2zm0 2zm0 2zm0 2zm0 4zm0 8zm3-75zm0 8zm0 2zm0 2zm0 2zm0 2zm0 2zm0 2zm0 2zm0 2zm0 2zm0 2zm0 2zm0 2zm0 2zm0 2zm0 2zm0 2zm0 2zm0 2zm0 2zm0 2zm0 2zm0 2zm0 2zm0 2zm0 2zm0 4zm0 2zm0 26zm0 70zm3-149zm0 2zm0 4zm0 4zm0 2zm0 2zm0 2zm0 2zm0 2zm0 2zm0 2zm0 2zm0 2zm0 2zm0 2zm0 2zm0 2zm0 2zm0 2zm0 2zm0 2zm0 20zm3-67zm0 2zm0 2zm0 2zm0 2zm0 2zm0 2zm0 2zm0 2zm0 2zm0 2zm0 2zm0 2zm0 2zm0 2zm0 2zm0 6zm0 4zm0 4zm0 4zm0 4zm3-49zm0 2zm0 2zm0 2zm0 2zm0 2zm0 2zm0 2zm0 2zm0 2zm0 2zm0 2zm0 2zm0 2zm0 2zm0 2zm0 2zm0 2zm0 2zm0 2zm0 2zm0 2zm0 22zm3-63zm0 2zm0 2zm0 2zm0 2zm0 2zm0 2zm0 2zm0 2zm0 2zm0 2zm0 2zm0 2zm0 2zm0 2zm0 2zm0 2zm0 2zm0 2zm0 2zm0 2zm0 2zm0 2zm0 2zm0 6zm0 12zm0 16zm0 8zm0 2zm3-95zm0 2zm0 2zm0 2zm0 2zm0 2zm0 2zm0 2zm0 2zm0 2zm0 2zm0 2zm0 2zm0 2zm0 2zm0 2zm0 2zm0 2zm0 2zm0 2zm0 2zm0 2zm0 2zm0 2zm0 2zm0 4zm3-59zm0 2zm0 2zm0 2zm0 6zm0 2zm0 2zm0 2zm0 2zm0 2zm0 2zm0 2zm0 2zm0 2zm0 2zm0 2zm0 2zm0 2zm0 2zm3-29zm0 2zm0 2zm0 2zm0 2zm0 2zm0 2zm0 2zm0 2zm0 2zm0 2zm0 2zm0 2zm0 2zm0 10zm0 16zm0 12zm3-75zm0 2zm0 2zm0 2zm0 2zm0 2zm0 2zm0 2zm0 2zm0 2zm0 2zm0 2zm0 2zm0 2zm0 2zm0 2zm0 2zm0 2zm0 2zm0 2zm0 2zm0 4zm0 2zm0 2zm0 4zm0 2zm0 2zm0 4zm0 2zm0 14zm3-69zm0 2zm0 2zm0 2zm0 2zm0 2zm0 2zm0 2zm0 2zm0 2zm0 2zm0 2zm0 2zm0 2zm0 2zm0 2zm0 10zm0 2zm0 4zm0 2zm0 4zm3-59zm0 2zm0 2zm0 2zm0 6zm0 2zm0 2zm0 2zm0 2zm0 2zm0 2zm0 2zm0 2zm0 2zm0 2zm0 2zm0 2zm0 2zm0 2zm0 6zm0 4zm0 2zm0 4zm3-45zm0 2zm0 4zm0 2zm0 2zm0 2zm0 2zm0 2zm0 2zm0 2zm0 2zm0 2zm0 2zm0 2zm0 2zm0 36zm0 74zm3-139zm0 2zm0 2zm0 2zm0 2zm0 2zm0 2zm0 2zm0 2zm0 2zm0 2zm0 2zm0 2zm0 2zm0 2zm0 4zm0 2zm0 4zm0 2zm0 2zm0 2zm0 6zm0 2zm3-63zm0 2zm0 2zm0 2zm0 4zm0 2zm0 2zm0 2zm0 2zm0 2zm0 2zm0 2zm0 2zm0 2zm0 2zm0 2zm0 2zm0 2zm0 2zm0 2zm0 2zm0 2zm0 2zm0 2zm0 2zm0 4zm0 8zm0 4zm0 4zm0 6zm3-65zm0 4zm0 2zm0 2zm0 2zm0 2zm0 2zm0 2zm0 2zm0 2zm0 2zm0 2zm0 2zm0 2zm0 2zm0 2zm0 2zm0 2zm0 2zm0 2zm0 2zm0 4zm0 2zm0 2zm0 2zm0 2zm0 2zm0 34zm3-101zm0 2zm0 2zm0 2zm0 2zm0 2zm0 2zm0 2zm0 2zm0 10zm0 2zm0 2zm0 2zm0 2zm0 2zm0 2zm0 2zm0 2zm0 2zm0 2zm0 2zm0 4zm0 2zm0 2zm0 6zm0 2zm0 2zm0 2zm0 2zm0 4zm0 2zm0 2zm0 2zm0 4zm0 2zm0 2zm0 4zm0 6zm0 4zm0 34zm3-125zm0 4zm0 2zm0 2zm0 2zm0 2zm0 2zm0 2zm0 2zm0 2zm0 4zm0 2zm0 2zm0 2zm0 2zm0 2zm0 2zm0 2zm0 2zm0 2zm0 4zm0 6zm0 2zm0 2zm0 2zm3-69zm0 2zm0 2zm0 2zm0 2zm0 2zm0 2zm0 2zm0 2zm0 4zm0 2zm0 2zm0 2zm0 2zm0 2zm0 2zm0 2zm0 2zm0 2zm0 2zm0 2zm0 2zm0 2zm0 2zm0 2zm0 2zm0 2zm0 2zm0 4zm0 2zm0 2zm0 4zm0 8zm3-69zm0 2zm0 2zm0 2zm0 2zm0 2zm0 2zm0 2zm0 2zm0 2zm0 2zm0 2zm0 2zm0 2zm0 2zm0 2zm0 2zm0 2zm0 4zm3-45zm0 2zm0 2zm0 2zm0 2zm0 2zm0 2zm0 2zm0 2zm0 2zm0 2zm0 2zm0 2zm0 2zm0 2zm0 2zm0 2zm0 2zm0 2zm0 2zm0 6zm0 2zm0 18zm0 12zm3-67zm0 2zm0 2zm0 2zm0 2zm0 2zm0 2zm0 2zm0 2zm0 2zm0 2zm0 2zm0 2zm0 2zm0 2zm0 2zm0 2zm0 2zm0 2zm0 14zm0 4zm0 4zm0 2zm3-69zm0 2zm0 2zm0 2zm0 2zm0 2zm0 2zm0 2zm0 2zm0 2zm0 2zm0 2zm0 2zm0 2zm0 2zm0 2zm0 4zm0 2zm0 2zm0 2zm0 2zm0 2zm0 2zm0 12zm0 2zm0 2zm0 4zm0 4zm0 6zm0 2zm0 2zm0 4zm0 2zm0 2zm0 4zm0 6zm0 4zm0 34zm3-137zm0 2zm0 2zm0 2zm0 2zm0 2zm0 2zm0 2zm0 2zm0 2zm0 2zm0 2zm0 2zm0 2zm0 2zm0 2zm0 2zm0 2zm0 2zm0 2zm0 2zm0 2zm0 2zm0 2zm0 14zm0 4zm0 2zm0 2zm0 2zm3-61zm0 2zm0 2zm0 2zm0 2zm0 2zm0 2zm0 2zm0 2zm0 2zm0 2zm0 2zm0 2zm0 2zm0 2zm0 2zm0 2zm0 2zm0 2zm0 2zm0 2zm0 2zm0 2zm0 2zm0 2zm0 2zm0 2zm0 2zm0 2zm0 12zm0 18zm3-87zm0 2zm0 2zm0 2zm0 2zm0 2zm0 2zm0 2zm0 2zm0 2zm0 2zm0 2zm0 2zm0 2zm0 2zm0 2zm0 2zm0 2zm0 2zm0 2zm0 2zm0 2zm0 2zm0 2zm0 2zm0 8zm0 38zm3-101zm0 2zm0 2zm0 2zm0 2zm0 2zm0 2zm0 2zm0 2zm0 2zm0 4zm0 6zm0 2zm0 2zm0 2zm0 2zm0 2zm0 2zm0 2zm0 2zm0 2zm0 4zm0 2zm0 2zm0 4zm0 2zm0 2zm0 4zm0 4zm0 80zm3-139zm0 2zm0 2zm0 2zm0 2zm0 2zm0 2zm0 2zm0 2zm0 2zm0 2zm0 2zm0 2zm0 2zm0 2zm0 2zm0 2zm0 2zm0 2zm0 2zm0 2zm0 2zm0 2zm0 8zm0 4zm0 2zm0 32zm3-101zm0 2zm0 2zm0 2zm0 2zm0 2zm0 2zm0 2zm0 2zm0 2zm0 2zm0 2zm0 2zm0 2zm0 2zm0 2zm0 2zm0 2zm0 2zm0 2zm0 2zm0 2zm0 2zm0 2zm0 4zm0 2zm0 2zm0 12zm0 4zm0 6zm3-65zm0 2zm0 2zm0 2zm0 2zm0 2zm0 2zm0 2zm0 2zm0 2zm0 2zm0 2zm0 2zm0 2zm0 2zm0 2zm0 2zm0 2zm0 2zm0 2zm0 2zm0 2zm0 2zm0 2zm0 2zm3-59zm0 2zm0 2zm0 2zm0 2zm0 8zm0 2zm0 2zm0 2zm0 4zm0 2zm0 2zm0 2zm0 2zm0 2zm0 2zm0 2zm0 2zm0 2zm0 2zm0 4zm0 2zm0 2zm0 8zm0 4zm0 4zm0 6zm0 2zm0 2zm0 4zm0 2zm0 2zm0 4zm0 6zm0 4zm0 34zm3-137zm0 2zm0 2zm0 2zm0 2zm0 26zm0 4zm0 6zm0 2zm0 2zm0 2zm0 2zm0 2zm0 2zm0 2zm0 6zm0 12zm0 16zm0 8zm3-37zm0 14zm0 2zm0 2zm0 4zm0 2zm0 2zm0 4zm0 6zm0 4zm0 34zm0 14zm3-151zm0 2zm0 2zm0 2zm0 4zm0 2zm0 2zm0 2zm0 2zm0 2zm0 2zm0 4zm0 2zm3-27zm0 2zm0 2zm0 2zm0 26zm0 8zm0 2zm0 4zm0 2zm0 4zm0 4zm0 2zm0 4zm0 14zm3-77zm0 2zm0 2zm0 2zm0 4zm0 2zm0 2zm0 2zm0 18zm0 2zm0 2zm0 4zm0 2zm0 6zm0 2zm0 4zm0 34zm0 70zm12-160zm0 2zm0 2zm0 2zm0 28zm0 2zm0 2zm0 2zm0 2zm0 2zm0 2zm0 2zm0 8zm0 2zm12-58zm0 2zm0 2zm0 2zm0 4zm0 2zm0 2zm0 2zm3-15zm0 2zm0 2zm0 2zm9-7zm0 2zm0 2zm0 2zm3-5zm0 2zm0 2zm0 2zm0 2zm0 4zm6-12zm0 2zm0 2zm0 2zm0 4zm0 2zm0 2zm0 2zm0 2zm0 2zm9-11zm0 2zm0 2zm0 2zm0 2zm0 2zm0 2zm0 4zm0 2z"/>
<path vector-effect="non-scaling-stroke" d="M-167 14zm0 2zm0 2zm0 2zm3-9zm0 2zm0 2zm0 2zm0 2zm0 2zm3-7zm0 2zm0 2zm0 2zm6-8zm0 2zm0 2zm0 2zm0 2zm0 2zm0 2zm0 2zm0 2zm0 2zm0 2zm0 2zm0 2zm0 8zm0 32zm6-64zm0 2zm0 2zm0 4zm0 2zm3-3zm0 2zm3-9zm0 2zm0 2zm0 2zm0 2zm0 2zm0 2zm0 2zm0 2zm0 2zm0 2zm0 2zm0 2zm0 8zm0 32zm3-65zm0 2zm0 2zm0 2zm0 2zm0 2zm0 2zm0 2zm0 2zm0 2zm0 2zm0 2zm0 2zm3-21zm0 2zm0 2zm0 2zm0 2zm0 2zm0 2zm0 2zm0 2zm0 2zm0 2zm0 2zm0 8zm0 32zm3-65zm0 2zm0 2zm0 2zm0 2zm0 2zm3-9zm0 2zm0 2zm0 2zm0 2zm0 2zm0 2zm0 4zm0 2zm0 2zm0 2zm0 2zm3-25zm0 2zm0 2zm0 2zm0 2zm0 2zm0 2zm0 2zm0 2zm0 2zm0 2zm0 2zm0 2zm6-24zm0 2zm0 2zm0 2zm0 2zm0 2zm0 2zm0 2zm0 2zm0 2zm0 2zm0 2zm0 2zm3-23zm0 2zm0 2zm0 2zm0 2zm0 2zm0 2zm0 2zm0 2zm0 2zm0 2zm0 2zm0 2zm0 8zm0 32zm3-53zm0 2zm0 2zm0 2zm0 2zm0 2zm0 2zm6-24zm0 2zm0 2zm0 2zm0 2zm0 2zm3 27zm0 2zm0 2zm3-41zm0 2zm0 2zm0 2zm0 2zm0 2zm0 2zm0 2zm0 2zm0 2zm0 2zm0 2zm0 2zm0 2zm0 2zm0 8zm3-39zm0 2zm0 2zm0 2zm0 2zm0 2zm0 2zm0 2zm0 2zm0 2zm0 2zm0 2zm0 2zm0 2zm0 2zm0 2zm0 2zm0 2zm0 2zm0 2zm3-39zm0 2zm0 2zm0 2zm0 2zm0 2zm0 2zm0 2zm0 2zm0 2zm0 2zm0 2zm0 2zm0 2zm0 2zm0 2zm0 2zm0 2zm0 2zm0 2zm3-37zm0 2zm0 2zm0 2zm0 2zm0 2zm0 2zm0 2zm0 2zm0 2zm0 2zm0 2zm0 2zm0 2zm0 2zm0 2zm0 2zm0 2zm0 2zm3-37zm0 2zm0 2zm0 2zm0 2zm0 2zm0 2zm0 2zm0 2zm0 2zm0 2zm0 2zm0 2zm0 2zm0 2zm0 2zm0 2zm0 2zm0 2zm0 2zm0 6zm0 2zm0 6zm0 12zm3-63zm0 2zm0 2zm0 2zm0 2zm0 2zm0 2zm0 2zm0 2zm0 2zm0 2zm0 2zm0 2zm0 2zm0 2zm0 2zm0 2zm0 2zm0 2zm0 2zm0 2zm0 4zm0 10zm0 2zm0 2zm3-57zm0 2zm0 2zm0 2zm0 2zm0 2zm0 2zm0 2zm0 2zm0 2zm0 2zm0 2zm0 2zm0 2zm0 2zm0 2zm0 2zm0 2zm0 2zm0 14zm0 12zm3-63zm0 2zm0 2zm0 2zm0 2zm0 2zm0 2zm0 2zm0 2zm0 2zm0 2zm0 2zm0 2zm0 2zm0 2zm0 2zm0 2zm0 2zm0 2zm0 2zm3-43zm0 4zm0 2zm0 2zm0 2zm0 2zm0 2zm0 2zm0 2zm0 2zm0 2zm0 2zm0 2zm0 2zm0 2zm0 2zm0 2zm0 2zm0 2zm0 2zm0 2zm0 14zm0 12zm3-61zm0 2zm0 2zm0 2zm0 2zm0 2zm0 2zm0 2zm0 2zm0 2zm0 2zm0 2zm0 2zm0 2zm0 2zm0 2zm0 2zm0 2zm0 2zm0 4zm0 2zm0 2zm3-45zm0 2zm0 2zm0 2zm0 2zm0 2zm0 2zm0 2zm0 2zm0 2zm0 2zm0 2zm0 2zm0 2zm0 2zm0 2zm0 2zm0 2zm0 2zm3-37zm0 2zm0 2zm0 2zm0 2zm0 2zm0 2zm0 2zm0 2zm0 2zm0 2zm0 2zm0 2zm0 2zm0 2zm0 2zm0 2zm0 2zm0 2zm0 2zm0 4zm0 4zm0 2zm3-47zm0 2zm0 2zm0 2zm0 2zm0 2zm0 2zm0 2zm0 2zm0 2zm0 2zm0 2zm0 2zm0 2zm0 2zm0 2zm0 2zm0 2zm0 2zm0 2zm0 2zm0 6zm0 2zm3-49zm0 2zm0 2zm0 2zm0 2zm0 2zm0 2zm0 2zm0 2zm0 2zm0 2zm0 2zm0 2zm0 2zm0 2zm0 2zm0 2zm0 2zm0 2zm0 4zm0 2zm0 6zm0 22zm3-67zm0 2zm0 2zm0 2zm0 2zm0 2zm0 2zm0 2zm0 2zm0 2zm0 2zm0 2zm0 2zm0 2zm0 2zm0 2zm0 2zm0 2zm0 2zm0 4zm0 4zm0 4zm0 2zm0 2zm0 2zm0 4zm0 2zm0 4zm3-67zm0 2zm0 2zm0 2zm0 2zm0 2zm0 2zm0 2zm0 2zm0 2zm0 2zm0 2zm0 2zm0 2zm0 2zm0 2zm0 2zm0 2zm0 2zm0 2zm0 4zm0 2zm0 2zm0 2zm0 2zm3-49zm0 2zm0 2zm0 2zm0 2zm0 2zm0 2zm0 2zm0 2zm0 2zm0 2zm0 2zm0 2zm0 2zm0 2zm0 2zm0 2zm0 2zm0 2zm0 2zm0 2zm0 2zm0 4zm0 4zm0 2zm0 2zm0 6zm0 2zm0 4zm3-67zm0 2zm0 2zm0 2zm0 2zm0 2zm0 2zm0 2zm0 2zm0 2zm0 2zm0 2zm0 2zm0 2zm0 2zm0 2zm0 2zm0 2zm0 2zm0 2zm0 2zm0 2zm0 2zm0 2zm0 2zm0 2zm0 20zm3-75zm0 6zm0 2zm0 2zm0 2zm0 2zm0 2zm0 2zm0 2zm0 2zm0 2zm0 2zm0 2zm0 2zm0 2zm0 2zm0 2zm0 2zm0 2zm0 2zm0 2zm0 2zm0 2zm0 2zm0 4zm0 6zm0 2zm0 2zm0 2zm0 4zm0 2zm0 4zm3-71zm0 2zm0 2zm0 2zm0 2zm0 2zm0 2zm0 2zm0 2zm0 2zm0 2zm0 2zm0 2zm0 2zm0 2zm0 2zm0 2zm0 2zm0 2zm0 2zm0 2zm0 2zm0 12zm0 6zm0 4zm3-63zm0 2zm0 2zm0 2zm0 2zm0 2zm0 2zm0 2zm0 2zm0 2zm0 2zm0 2zm0 2zm0 2zm0 2zm0 2zm0 2zm0 2zm0 2zm0 2zm0 2zm0 14zm0 4zm3-59zm0 2zm0 2zm0 2zm0 2zm0 2zm0 2zm0 2zm0 2zm0 2zm0 2zm0 2zm0 2zm0 2zm0 2zm0 2zm0 2zm0 2zm0 2zm0 2zm0 2zm0 2zm0 2zm0 2zm0 2zm0 2zm0 2zm0 6zm0 2zm0 8zm0 2zm3-69zm0 2zm0 2zm0 2zm0 2zm0 2zm0 2zm0 2zm0 2zm0 2zm0 2zm0 2zm0 2zm0 2zm0 2zm0 2zm0 2zm0 2zm0 2zm0 2zm0 2zm0 2zm0 2zm0 2zm0 2zm0 2zm0 2zm0 2zm0 2zm0 2zm0 6zm3-65zm0 4zm0 2zm0 2zm0 2zm0 2zm0 2zm0 2zm0 2zm0 2zm0 2zm0 2zm0 2zm0 2zm0 2zm0 2zm0 2zm0 2zm0 2zm0 2zm0 2zm0 2zm0 2zm0 2zm0 2zm0 2zm0 2zm0 2zm0 2zm0 2zm0 2zm0 8zm3-69zm0 2zm0 2zm0 2zm0 2zm0 2zm0 2zm0 2zm0 2zm0 2zm0 2zm0 2zm0 2zm0 2zm0 2zm0 2zm0 2zm0 2zm0 2zm0 2zm0 2zm0 2zm0 2zm0 2zm0 2zm0 2zm0 2zm0 4zm0 2zm0 6zm0 20zm0 70zm3-155zm0 2zm0 2zm0 2zm0 2zm0 2zm0 2zm0 2zm0 2zm0 2zm0 2zm0 2zm0 2zm0 2zm0 2zm0 2zm0 2zm0 2zm0 2zm0 2zm0 2zm0 2zm0 2zm0 2zm0 2zm0 2zm0 2zm0 2zm0 2zm0 2zm0 2zm0 2zm0 10zm0 2zm0 2zm0 4zm0 2zm0 2zm0 4zm0 6zm0 4zm0 34zm3-131zm0 2zm0 2zm0 2zm0 2zm0 2zm0 2zm0 2zm0 2zm0 2zm0 2zm0 2zm0 2zm0 2zm0 2zm0 2zm0 2zm0 2zm0 2zm0 2zm0 2zm0 2zm0 2zm0 2zm0 2zm0 2zm0 2zm0 2zm0 2zm0 2zm0 2zm0 4zm0 6zm3-71zm0 2zm0 2zm0 2zm0 2zm0 2zm0 2zm0 2zm0 2zm0 2zm0 2zm0 2zm0 2zm0 2zm0 2zm0 2zm0 2zm0 2zm0 2zm0 2zm0 2zm0 2zm0 2zm0 2zm0 2zm0 2zm0 2zm0 2zm0 2zm0 2zm0 2zm0 4zm0 4zm0 4zm0 2zm0 2zm0 4zm0 2zm0 2zm0 4zm0 6zm0 4zm0 34zm3-131zm0 2zm0 2zm0 2zm0 2zm0 2zm0 2zm0 2zm0 2zm0 2zm0 2zm0 2zm0 2zm0 2zm0 2zm0 2zm0 2zm0 2zm0 2zm0 2zm0 2zm0 2zm0 2zm0 2zm0 2zm0 2zm0 2zm0 2zm0 2zm0 2zm0 2zm0 4zm0 32zm3-93zm0 2zm0 2zm0 2zm0 2zm0 2zm0 2zm0 2zm0 2zm0 2zm0 2zm0 2zm0 2zm0 2zm0 2zm0 2zm0 2zm0 2zm0 2zm0 2zm0 2zm0 2zm0 2zm0 2zm0 2zm0 2zm0 4zm0 2zm0 2zm0 2zm0 6zm0 2zm0 2zm0 2zm0 4zm0 2zm0 2zm0 4zm0 6zm0 4zm0 34zm3-131zm0 6zm0 2zm0 2zm0 2zm0 2zm0 2zm0 2zm0 2zm0 2zm0 2zm0 2zm0 2zm0 2zm0 2zm0 2zm0 2zm0 2zm0 2zm0 2zm0 2zm0 2zm0 2zm0 2zm0 2zm0 4zm0 2zm0 2zm0 4zm0 6zm0 26zm3-91zm0 2zm0 4zm0 2zm0 2zm0 2zm0 2zm0 2zm0 2zm0 2zm0 2zm0 2zm0 2zm0 2zm0 2zm0 2zm0 2zm0 2zm0 2zm0 2zm0 2zm0 10zm0 12zm3-67zm0 2zm0 2zm0 2zm0 2zm0 2zm0 2zm0 2zm0 2zm0 2zm0 2zm0 2zm0 2zm0 2zm0 2zm0 2zm0 2zm0 2zm0 2zm0 2zm0 2zm0 2zm0 2zm0 2zm0 2zm0 4zm0 42zm3-91zm0 2zm0 2zm0 2zm0 2zm0 2zm0 2zm0 2zm0 2zm0 2zm0 2zm0 2zm0 2zm0 2zm0 2zm0 2zm0 2zm0 2zm0 2zm0 2zm0 2zm0 2zm0 2zm0 2zm0 2zm0 2zm0 2zm0 14zm0 18zm0 56zm3-149zm0 2zm0 2zm0 6zm0 2zm0 2zm0 2zm0 2zm0 2zm0 2zm0 2zm0 2zm0 2zm0 2zm0 2zm0 2zm0 2zm0 2zm0 2zm0 2zm0 2zm0 2zm0 2zm0 2zm0 2zm0 2zm0 20zm3-69zm0 2zm0 2zm0 2zm0 2zm0 2zm0 2zm0 2zm0 2zm0 2zm0 2zm0 2zm0 2zm0 2zm0 2zm0 2zm0 2zm0 2zm0 2zm0 2zm0 2zm0 2zm0 2zm0 2zm3-41zm0 2zm0 2zm0 2zm0 2zm0 2zm0 2zm0 2zm0 2zm0 2zm0 2zm0 2zm0 2zm0 2zm0 2zm0 8zm0 4zm0 4zm0 4zm3-53zm0 2zm0 2zm0 2zm0 2zm0 2zm0 2zm0 2zm0 2zm0 2zm0 2zm0 2zm0 2zm0 2zm0 2zm0 2zm0 2zm0 2zm0 6zm0 2zm0 4zm0 2zm0 4zm0 92zm3-139zm0 2zm0 2zm0 2zm0 2zm0 2zm0 2zm0 2zm0 2zm0 2zm0 2zm0 2zm0 2zm0 2zm0 2zm0 62zm3-95zm0 2zm0 2zm0 2zm0 2zm0 2zm0 2zm0 2zm0 2zm0 2zm0 2zm0 2zm0 2zm0 2zm0 2zm0 2zm0 10zm0 16zm0 88zm3-151zm0 2zm0 2zm0 2zm0 6zm0 2zm0 2zm0 2zm0 2zm0 2zm0 2zm0 2zm0 2zm0 2zm0 2zm0 2zm0 2zm0 2zm0 2zm0 4zm0 2zm0 6zm0 2zm0 2zm0 6zm0 14zm3-75zm0 2zm0 2zm0 2zm0 4zm0 2zm0 4zm0 2zm0 2zm0 2zm0 2zm0 2zm0 2zm0 2zm0 2zm0 2zm0 2zm0 2zm0 2zm0 22zm0 14zm3-65zm0 2zm0 2zm0 2zm0 2zm0 2zm0 2zm0 2zm0 2zm0 2zm0 2zm0 2zm0 2zm0 2zm0 6zm0 2zm0 2zm0 2zm0 2zm0 2zm0 2zm0 2zm0 6zm0 12zm0 16zm0 8zm0 2zm3-101zm0 2zm0 2zm0 2zm0 4zm0 2zm0 4zm0 2zm0 2zm0 2zm0 2zm0 2zm0 2zm0 2zm0 2zm0 2zm0 2zm0 2zm0 2zm0 2zm0 2zm0 2zm0 2zm0 2zm0 4zm0 2zm0 4zm0 2zm0 12zm3-65zm0 2zm0 2zm0 2zm0 2zm0 2zm0 2zm0 2zm0 2zm0 2zm0 2zm0 2zm0 2zm0 2zm0 2zm0 2zm0 2zm0 2zm0 2zm0 2zm0 2zm0 2zm0 2zm0 4zm0 18zm3-67zm0 2zm0 2zm0 2zm0 2zm0 2zm0 2zm0 2zm0 2zm0 2zm0 2zm0 2zm0 2zm0 2zm0 2zm0 2zm0 2zm0 2zm0 2zm0 2zm0 2zm0 2zm0 2zm0 2zm0 2zm0 6zm0 2zm0 4zm3-69zm0 2zm0 2zm0 2zm0 2zm0 2zm0 4zm0 4zm0 10zm0 6zm0 4zm0 2zm0 4zm0 2zm3-45zm0 2zm0 2zm0 2zm0 2zm0 2zm0 2zm0 2zm0 2zm0 2zm0 2zm0 2zm0 2zm0 2zm0 2zm0 2zm0 4zm0 2zm0 2zm0 2zm0 2zm0 2zm0 2zm0 2zm0 2zm0 4zm0 8zm3-63zm0 2zm0 2zm0 2zm0 2zm0 2zm0 2zm0 2zm0 2zm0 2zm0 2zm0 2zm0 2zm0 2zm0 2zm0 2zm0 2zm0 2zm0 2zm0 2zm0 2zm0 2zm0 4zm0 14zm0 4zm0 2zm3-65zm0 2zm0 2zm0 2zm0 2zm0 2zm0 2zm0 2zm0 2zm0 2zm0 2zm0 2zm0 2zm0 2zm0 2zm0 2zm0 4zm0 2zm0 2zm0 4zm0 2zm0 2zm0 16zm3-63zm0 2zm0 2zm0 2zm0 2zm0 2zm0 4zm0 2zm0 2zm0 2zm0 2zm0 2zm0 2zm0 2zm0 2zm0 2zm0 2zm0 2zm0 28zm3-63zm0 2zm0 2zm0 2zm0 2zm0 2zm0 2zm0 2zm0 2zm0 2zm0 2zm0 2zm0 2zm0 2zm0 2zm0 2zm0 4zm0 2zm0 2zm0 2zm0 2zm0 2zm0 2zm0 2zm0 6zm0 2zm0 2zm0 2zm0 2zm0 14zm0 2zm0 2zm0 4zm0 2zm0 2zm0 4zm0 2zm0 4zm0 4zm0 34zm3-137zm0 2zm0 2zm0 2zm0 2zm0 2zm0 2zm0 2zm0 2zm0 2zm0 2zm0 2zm0 2zm0 2zm0 2zm0 2zm0 2zm0 2zm0 2zm0 2zm0 2zm0 2zm0 2zm0 2zm0 2zm0 2zm0 4zm0 4zm0 2zm0 4zm0 4zm0 2zm3-69zm0 2zm0 2zm0 2zm0 2zm0 2zm0 2zm0 2zm0 2zm0 2zm0 2zm0 2zm0 2zm0 2zm0 2zm0 2zm0 2zm0 2zm0 2zm0 2zm0 2zm0 2zm0 2zm0 2zm0 4zm0 2zm0 2zm0 8zm0 2zm3-57zm0 2zm0 2zm0 2zm0 2zm0 2zm0 2zm0 2zm0 2zm0 2zm0 2zm0 2zm0 2zm0 2zm0 2zm0 2zm0 2zm0 2zm0 2zm0 2zm0 2zm0 2zm0 2zm0 2zm0 2zm0 4zm0 4zm3-63zm0 2zm0 2zm0 4zm0 2zm0 2zm0 2zm0 2zm0 2zm0 4zm0 2zm0 2zm0 2zm0 2zm0 2zm0 2zm0 2zm0 2zm0 2zm0 2zm0 2zm0 2zm0 4zm0 2zm0 2zm0 8zm0 4zm0 4zm3-63zm0 2zm0 2zm0 2zm0 2zm0 2zm0 2zm0 2zm0 2zm0 2zm0 2zm0 2zm0 2zm0 2zm0 2zm0 2zm0 2zm0 2zm0 2zm0 2zm0 2zm0 2zm0 2zm0 2zm0 2zm0 2zm0 2zm0 4zm3-63zm0 2zm0 2zm0 2zm0 2zm0 2zm0 2zm0 2zm0 2zm0 2zm0 2zm0 2zm0 2zm0 2zm0 2zm0 2zm0 2zm0 2zm0 2zm0 2zm0 2zm0 2zm0 2zm0 2zm0 4zm0 2zm0 2zm0 8zm0 4zm0 4zm0 6zm3-69zm0 2zm0 2zm0 2zm0 2zm0 2zm0 2zm0 2zm0 2zm0 2zm0 2zm0 2zm0 2zm0 2zm0 2zm0 2zm0 2zm0 2zm0 2zm0 2zm0 2zm0 2zm0 4zm0 4zm0 2zm3-59zm0 2zm0 2zm0 2zm0 2zm0 2zm0 2zm0 2zm0 2zm0 2zm0 2zm0 2zm0 2zm0 2zm0 2zm0 2zm0 2zm0 2zm0 2zm0 2zm0 2zm0 2zm0 2zm0 2zm0 2zm0 6zm0 2zm0 2zm0 2zm0 16zm0 18zm3-95zm0 2zm0 2zm0 2zm0 6zm0 2zm0 2zm0 2zm0 4zm0 2zm0 2zm0 2zm0 4zm0 2zm0 2zm0 2zm0 2zm0 2zm0 4zm0 18zm0 4zm0 2zm3-53zm0 2zm0 2zm0 2zm0 4zm0 2zm0 4zm0 2zm0 2zm0 4zm0 2zm0 34zm3-43zm0 2zm0 2zm0 4zm0 2zm0 2zm0 2zm0 2zm0 2zm0 2zm0 2zm0 2zm0 6zm0 12zm0 16zm0 8zm3-99zm0 2zm0 2zm0 2zm0 2zm0 4zm0 54zm0 4zm0 6zm3-77zm0 2zm0 2zm0 2zm0 28zm0 2zm0 2zm0 4zm0 2zm0 6zm0 2zm0 4zm0 12zm0 2zm0 20zm0 70zm3-119zm0 2zm0 6zm0 6zm0 2zm0 2zm0 2zm0 16zm0 18zm3-85zm0 2zm0 2zm0 2zm0 2zm0 2zm0 2zm0 4zm0 2zm6-28zm0 2zm0 2zm0 2zm0 28zm0 2zm0 2zm0 2zm0 2zm0 2zm0 2zm0 2zm0 8zm0 2zm3-17zm0 2zm0 6zm0 6zm0 2zm0 2zm0 2zm0 16zm0 18zm3-95zm0 2zm0 2zm0 2zm0 4zm0 2zm0 2zm0 2zm6-16zm0 2zm0 2zm0 2zm3-5zm0 2zm0 2zm0 2zm0 2zm0 2zm0 2zm0 2zm0 2zm0 2zm0 2zm6-20zm0 2zm0 2zm0 2zm0 2zm0 4zm6-12zm0 2zm0 2zm0 2zm6-6zm0 2zm0 2zm0 2z"/>
<path vector-effect="non-scaling-stroke" d="M-169 11zm0 2zm0 2zm0 2zm0 2zm0 2zm3-7zm0 2zm0 2zm0 2zm9-9zm0 2zm0 2zm0 2zm0 2zm0 2zm3-7zm0 2zm0 2zm0 2zm0 2zm0 2zm0 2zm0 2zm0 2zm0 2zm0 2zm0 2zm0 8zm0 32zm3-57zm0 2zm3-9zm0 2zm0 2zm0 4zm0 2zm0 2zm0 2zm0 2zm0 2zm0 2zm0 2zm0 2zm0 8zm0 32zm3-57zm0 2zm3-9zm0 2zm0 2zm0 2zm0 2zm0 2zm0 2zm0 2zm0 2zm0 2zm0 2zm0 2zm0 2zm0 8zm0 32zm3-65zm0 2zm0 2zm0 2zm0 2zm0 2zm3-7zm0 2zm0 2zm0 2zm0 2zm0 2zm0 4zm0 2zm0 2zm0 2zm0 2zm3-25zm0 2zm0 2zm0 2zm0 2zm0 2zm0 2zm0 2zm0 2zm0 2zm0 2zm0 2zm0 2zm3-21zm0 2zm0 2zm0 2zm0 2zm0 2zm0 2zm0 2zm0 2zm0 2zm0 2zm0 2zm0 8zm0 32zm9-65zm0 2zm0 2zm0 2zm0 2zm0 2zm0 2zm0 2zm0 2zm0 2zm0 2zm0 2zm0 2zm3-21zm0 2zm0 2zm0 2zm0 2zm6-8zm0 2zm0 2zm0 2zm0 2zm0 2zm0 2zm0 2zm0 2zm0 2zm0 2zm0 2zm0 8zm0 32zm3-65zm0 2zm0 2zm0 2zm0 2zm0 2zm0 2zm0 2zm0 2zm0 2zm0 2zm0 2zm0 2zm3-23zm0 2zm0 2zm0 2zm0 2zm0 2zm0 2zm0 2zm0 2zm0 4zm0 2zm0 2zm0 2zm0 2zm0 8zm0 2zm0 2zm3-41zm0 2zm0 2zm0 2zm0 2zm0 2zm0 2zm0 2zm0 2zm0 2zm0 2zm0 2zm0 2zm0 2zm0 2zm0 8zm3-39zm0 2zm0 2zm0 2zm0 2zm0 2zm0 2zm0 2zm0 2zm0 2zm0 2zm0 2zm0 2zm0 2zm0 2zm0 2zm0 2zm0 2zm0 2zm0 2zm0 2zm0 2zm0 2zm3-45zm0 2zm0 2zm0 2zm0 2zm0 2zm0 2zm0 2zm0 2zm0 2zm0 2zm0 2zm0 2zm0 2zm0 2zm0 2zm0 2zm0 2zm0 2zm0 2zm3-37zm0 2zm0 2zm0 2zm0 2zm0 2zm0 2zm0 2zm0 2zm0 2zm0 2zm0 2zm0 2zm0 2zm0 2zm0 2zm0 2zm0 2zm0 2zm0 2zm3-39zm0 2zm0 2zm0 2zm0 2zm0 2zm0 2zm0 2zm0 2zm0 2zm0 2zm0 2zm0 2zm0 2zm0 2zm0 2zm0 2zm0 2zm0 2zm0 2zm0 14zm0 12zm3-63zm0 2zm0 2zm0 2zm0 2zm0 2zm0 2zm0 2zm0 2zm0 2zm0 2zm0 2zm0 2zm0 2zm0 2zm0 2zm0 2zm0 2zm0 2zm0 2zm0 2zm0 4zm0 10zm0 2zm0 2zm3-57zm0 2zm0 2zm0 2zm0 2zm0 2zm0 2zm0 2zm0 2zm0 2zm0 2zm0 2zm0 2zm0 2zm0 2zm0 2zm0 2zm0 2zm0 2zm3-37zm0 2zm0 2zm0 2zm0 2zm0 2zm0 2zm0 2zm0 2zm0 2zm0 2zm0 2zm0 2zm0 2zm0 2zm0 2zm0 2zm0 2zm0 2zm0 2zm3-43zm0 6zm0 2zm0 2zm0 2zm0 2zm0 2zm0 2zm0 2zm0 2zm0 2zm0 2zm0 2zm0 2zm0 2zm0 2zm0 2zm0 2zm0 2zm0 2zm3-37zm0 2zm0 2zm0 2zm0 2zm0 2zm0 2zm0 2zm0 2zm0 2zm0 2zm0 2zm0 2zm0 2zm0 2zm0 2zm0 2zm0 2zm0 2zm0 4zm0 4zm3-41zm0 2zm0 2zm0 2zm0 2zm0 2zm0 2zm0 2zm0 2zm0 2zm0 2zm0 2zm0 2zm0 2zm0 2zm0 2zm0 2zm0 2zm3-35zm0 2zm0 2zm0 2zm0 2zm0 2zm0 2zm0 2zm0 2zm0 2zm0 2zm0 2zm0 2zm0 2zm0 2zm0 2zm0 2zm0 2zm0 2zm0 2zm0 2zm0 4zm0 2zm3-47zm0 2zm0 2zm0 2zm0 2zm0 2zm0 2zm0 2zm0 2zm0 2zm0 2zm0 2zm0 2zm0 2zm0 2zm0 2zm0 2zm0 2zm0 2zm0 2zm0 2zm0 2zm0 2zm0 2zm0 2zm3-49zm0 2zm0 2zm0 2zm0 2zm0 2zm0 2zm0 2zm0 2zm0 2zm0 2zm0 2zm0 2zm0 2zm0 2zm0 2zm0 2zm0 2zm0 2zm0 2zm0 2zm0 2zm0 2zm0 2zm0 2zm0 2zm3-49zm0 2zm0 2zm0 2zm0 2zm0 2zm0 2zm0 2zm0 2zm0 2zm0 2zm0 2zm0 2zm0 2zm0 2zm0 2zm0 2zm0 2zm0 2zm0 2zm0 8zm3-47zm0 2zm0 2zm0 2zm0 2zm0 2zm0 2zm0 2zm0 2zm0 2zm0 2zm0 2zm0 2zm0 2zm0 2zm0 2zm0 2zm0 2zm0 2zm0 2zm0 2zm0 2zm0 2zm0 2zm0 2zm0 2zm0 4zm0 2zm0 2zm0 2zm0 4zm3-63zm0 2zm0 2zm0 2zm0 2zm0 2zm0 2zm0 2zm0 2zm0 2zm0 2zm0 2zm0 2zm0 2zm0 2zm0 2zm0 2zm0 2zm0 2zm0 2zm0 2zm0 2zm0 4zm0 2zm0 2zm0 2zm0 12zm3-65zm0 2zm0 2zm0 2zm0 2zm0 2zm0 2zm0 2zm0 2zm0 2zm0 2zm0 2zm0 2zm0 2zm0 2zm0 2zm0 2zm0 2zm0 2zm0 34zm3-67zm0 2zm0 2zm0 2zm0 2zm0 2zm0 2zm0 2zm0 2zm0 2zm0 2zm0 2zm0 2zm0 2zm0 2zm0 2zm0 2zm0 2zm0 2zm0 2zm0 2zm0 28zm3-71zm0 2zm0 2zm0 2zm0 2zm0 2zm0 2zm0 2zm0 2zm0 2zm0 2zm0 2zm0 2zm0 2zm0 2zm0 2zm0 2zm0 2zm0 2zm0 2zm0 2zm0 2zm0 12zm0 6zm0 4zm3-63zm0 2zm0 2zm0 2zm0 2zm0 2zm0 2zm0 2zm0 2zm0 2zm0 2zm0 2zm0 2zm0 2zm0 2zm0 2zm0 2zm0 2zm0 2zm0 2zm0 2zm0 2zm0 2zm0 2zm0 2zm0 6zm0 4zm3-59zm0 2zm0 2zm0 2zm0 2zm0 2zm0 2zm0 2zm0 2zm0 2zm0 2zm0 2zm0 2zm0 2zm0 2zm0 2zm0 2zm0 2zm0 2zm0 2zm0 2zm0 2zm0 2zm0 2zm0 2zm0 2zm0 2zm0 2zm0 2zm0 2zm0 2zm0 2zm0 6zm0 78zm3-145zm0 2zm0 2zm0 2zm0 2zm0 2zm0 2zm0 2zm0 2zm0 2zm0 2zm0 2zm0 2zm0 2zm0 2zm0 2zm0 2zm0 2zm0 2zm0 2zm0 2zm0 2zm0 4zm0 2zm0 2zm0 2zm0 2zm0 2zm0 2zm0 6zm0 32zm3-97zm0 2zm0 2zm0 2zm0 2zm0 2zm0 2zm0 2zm0 2zm0 2zm0 2zm0 2zm0 2zm0 2zm0 2zm0 2zm0 2zm0 2zm0 2zm0 2zm0 2zm0 2zm0 2zm0 2zm0 2zm0 2zm0 8zm0 2zm0 4zm3-63zm0 2zm0 2zm0 2zm0 2zm0 2zm0 2zm0 2zm0 2zm0 2zm0 2zm0 2zm0 2zm0 2zm0 2zm0 2zm0 2zm0 2zm0 2zm0 2zm0 2zm0 2zm0 2zm0 2zm0 2zm0 2zm0 2zm0 4zm0 8zm3-61zm0 2zm0 2zm0 2zm0 2zm0 2zm0 2zm0 2zm0 2zm0 2zm0 2zm0 2zm0 2zm0 2zm0 2zm0 2zm0 2zm0 2zm0 2zm0 2zm0 2zm0 2zm0 2zm0 2zm0 2zm0 2zm0 2zm0 2zm0 2zm0 2zm0 2zm0 6zm3-69zm0 2zm0 2zm0 2zm0 2zm0 2zm0 2zm0 2zm0 2zm0 2zm0 2zm0 2zm0 2zm0 2zm0 2zm0 2zm0 2zm0 2zm0 2zm0 2zm0 2zm0 2zm0 2zm0 2zm0 2zm0 2zm0 2zm0 2zm0 2zm0 2zm0 2zm0 4zm0 6zm0 26zm3-97zm0 2zm0 2zm0 2zm0 2zm0 2zm0 2zm0 2zm0 2zm0 2zm0 2zm0 2zm0 2zm0 2zm0 2zm0 2zm0 2zm0 2zm0 2zm0 4zm0 4zm0 4zm0 2zm0 2zm0 2zm0 2zm0 2zm0 2zm0 2zm0 2zm0 4zm0 2zm0 76zm3-145zm0 2zm0 2zm0 2zm0 2zm0 2zm0 2zm0 2zm0 2zm0 2zm0 2zm0 2zm0 2zm0 2zm0 2zm0 2zm0 2zm0 2zm0 2zm0 2zm0 2zm0 2zm0 2zm0 2zm0 2zm0 2zm0 2zm0 4zm0 2zm0 2zm0 4zm3-65zm0 2zm0 2zm0 2zm0 2zm0 2zm0 2zm0 2zm0 2zm0 2zm0 2zm0 2zm0 2zm0 2zm0 2zm0 2zm0 2zm0 2zm0 2zm0 2zm0 2zm0 2zm0 2zm0 2zm0 2zm0 2zm0 2zm0 4zm0 2zm0 12zm3-63zm0 2zm0 2zm0 2zm0 2zm0 2zm0 2zm0 2zm0 2zm0 2zm0 2zm0 2zm0 2zm0 2zm0 2zm0 2zm0 2zm0 2zm0 2zm0 2zm0 2zm0 2zm0 22zm3-65zm0 2zm0 2zm0 2zm0 2zm0 2zm0 2zm0 2zm0 2zm0 2zm0 2zm0 2zm0 2zm0 2zm0 2zm0 2zm0 2zm0 2zm0 2zm0 2zm0 2zm0 2zm0 98zm3-143zm0 2zm0 2zm0 2zm0 2zm0 2zm0 2zm0 2zm0 2zm0 2zm0 2zm0 2zm0 2zm0 2zm0 2zm0 2zm0 6zm0 2zm0 4zm0 2zm3-49zm0 2zm0 2zm0 4zm0 2zm0 2zm0 2zm0 2zm0 2zm0 2zm0 2zm0 2zm0 2zm0 2zm0 2zm0 2zm0 2zm0 4zm0 2zm0 2zm0 2zm0 2zm0 2zm0 2zm0 2zm0 2zm0 2zm0 2zm0 14zm0 2zm0 18zm3-87zm0 2zm0 2zm0 2zm0 2zm0 2zm0 2zm0 2zm0 2zm0 2zm0 2zm0 2zm0 2zm0 2zm0 2zm0 2zm0 2zm0 2zm0 2zm0 2zm0 2zm0 2zm0 2zm0 2zm0 2zm3-49zm0 2zm0 2zm0 2zm0 2zm0 2zm0 2zm0 2zm0 2zm0 2zm0 2zm0 2zm0 2zm0 2zm0 2zm0 2zm0 2zm0 2zm0 2zm0 2zm0 2zm0 2zm0 4zm0 6zm3-59zm0 2zm0 2zm0 2zm0 2zm0 2zm0 2zm0 2zm0 2zm0 2zm0 2zm0 2zm0 2zm0 2zm0 2zm0 2zm0 2zm0 2zm0 2zm0 2zm0 2zm0 4zm0 2zm0 2zm0 4zm0 2zm0 2zm0 2zm0 4zm0 2zm0 12zm0 14zm0 2zm0 8zm0 60zm3-153zm0 2zm0 2zm0 2zm0 2zm0 2zm0 2zm0 2zm0 2zm0 2zm0 2zm0 2zm0 2zm0 2zm0 2zm0 2zm0 2zm0 2zm0 6zm0 16zm3-51zm0 2zm0 2zm0 2zm0 2zm0 2zm0 2zm0 2zm0 2zm0 2zm0 2zm0 2zm0 2zm3-29zm0 2zm0 2zm0 2zm0 2zm0 2zm0 2zm0 2zm0 2zm0 2zm0 2zm0 2zm0 2zm0 2zm0 2zm0 2zm0 2zm0 2zm0 2zm0 6zm0 6zm0 2zm0 2zm0 2zm0 14zm0 2zm0 18zm3-83zm0 2zm0 2zm0 2zm0 2zm0 2zm0 2zm0 2zm0 2zm0 2zm0 2zm0 2zm0 2zm0 2zm0 6zm0 2zm0 8zm0 2zm0 6zm0 14zm3-75zm0 2zm0 2zm0 2zm0 4zm0 2zm0 4zm0 2zm0 2zm0 2zm0 2zm0 2zm0 2zm0 2zm0 2zm0 2zm0 2zm0 26zm3-51zm0 2zm0 2zm0 2zm0 2zm0 2zm0 2zm0 2zm0 2zm0 2zm0 2zm0 2zm0 2zm0 2zm0 26zm0 12zm0 14zm0 70zm3-159zm0 2zm0 2zm0 2zm0 2zm0 2zm0 2zm0 2zm0 2zm0 10zm0 2zm0 2zm0 2zm0 2zm0 2zm0 2zm0 2zm0 2zm0 2zm0 2zm0 2zm0 2zm0 4zm0 2zm0 2zm0 2zm0 2zm0 14zm0 18zm0 56zm3-151zm0 2zm0 2zm0 2zm0 4zm0 2zm0 2zm0 2zm0 2zm0 2zm0 2zm0 2zm0 2zm0 2zm0 2zm0 2zm0 2zm0 2zm0 2zm0 2zm0 2zm0 2zm0 2zm0 2zm0 2zm0 2zm0 2zm0 2zm0 2zm0 6zm0 2zm0 2zm0 8zm0 14zm0 2zm0 8zm0 60zm3-141zm0 2zm0 4zm0 4zm0 2zm0 2zm0 2zm0 2zm0 2zm0 2zm0 2zm0 2zm0 2zm0 2zm0 2zm0 2zm0 2zm0 2zm0 2zm0 2zm0 2zm0 2zm0 4zm0 8zm0 18zm3-85zm0 2zm0 2zm0 2zm0 2zm0 2zm0 2zm0 2zm0 2zm0 2zm0 2zm0 2zm0 2zm0 2zm0 2zm0 2zm0 2zm0 2zm0 2zm0 4zm0 2zm0 2zm0 10zm0 2zm0 2zm3-67zm0 2zm0 2zm0 2zm0 2zm0 2zm0 2zm0 2zm0 2zm0 2zm0 2zm0 2zm0 2zm0 2zm0 2zm0 2zm0 2zm0 2zm0 2zm0 2zm0 6zm0 2zm0 16zm0 14zm3-77zm0 2zm0 2zm0 2zm0 2zm0 2zm0 2zm0 2zm0 2zm0 2zm0 2zm0 2zm0 2zm0 2zm0 2zm0 2zm0 2zm0 2zm0 2zm0 2zm0 2zm0 2zm0 2zm0 2zm0 14zm0 6zm0 2zm0 2zm0 32zm3-101zm0 2zm0 2zm0 2zm0 2zm0 2zm0 2zm0 2zm0 2zm0 4zm0 2zm0 2zm0 2zm0 2zm0 2zm0 4zm0 2zm0 2zm0 2zm0 2zm0 2zm0 2zm0 2zm0 6zm0 2zm0 2zm0 2zm0 2zm0 4zm0 4zm0 6zm0 18zm3-95zm0 2zm0 2zm0 2zm0 2zm0 2zm0 2zm0 2zm0 2zm0 2zm0 2zm0 2zm0 2zm0 2zm0 2zm0 2zm0 2zm0 2zm0 2zm0 28zm3-63zm0 2zm0 2zm0 2zm0 2zm0 2zm0 2zm0 2zm0 2zm0 2zm0 2zm0 2zm0 2zm0 2zm0 2zm0 2zm0 2zm0 2zm0 2zm0 2zm0 2zm0 2zm0 2zm0 2zm3-47zm0 2zm0 2zm0 2zm0 2zm0 2zm0 2zm0 2zm0 2zm0 2zm0 2zm0 2zm0 2zm0 2zm0 2zm0 2zm0 2zm0 2zm0 2zm0 2zm0 2zm0 2zm0 2zm0 2zm0 2zm0 2zm0 4zm0 10zm3-63zm0 2zm0 2zm0 2zm0 2zm0 2zm0 2zm0 2zm0 2zm0 2zm0 2zm0 2zm0 2zm0 2zm0 2zm0 2zm0 2zm0 2zm0 2zm0 2zm0 2zm0 2zm0 2zm0 2zm0 4zm0 4zm0 8zm0 2zm0 12zm0 2zm0 2zm0 4zm0 2zm0 2zm0 4zm0 6zm0 4zm0 34zm3-129zm0 2zm0 2zm0 2zm0 2zm0 2zm0 2zm0 2zm0 2zm0 2zm0 2zm0 2zm0 2zm0 2zm0 2zm0 2zm0 2zm0 2zm0 2zm0 2zm0 2zm0 4zm0 4zm0 4zm3-59zm0 2zm0 2zm0 2zm0 2zm0 2zm0 2zm0 2zm0 2zm0 2zm0 2zm0 2zm0 2zm0 2zm0 2zm0 2zm0 2zm0 2zm0 2zm0 2zm0 2zm0 2zm0 2zm0 2zm0 4zm0 2zm0 2zm0 8zm0 2zm3-65zm0 2zm0 2zm0 2zm0 2zm0 4zm0 2zm0 2zm0 2zm0 2zm0 2zm0 2zm0 2zm0 2zm0 2zm0 2zm0 2zm0 2zm0 2zm0 2zm0 2zm0 2zm0 2zm0 2zm0 4zm0 2zm0 2zm0 2zm0 2zm0 4zm0 4zm0 2zm0 6zm0 14zm0 2zm0 8zm0 60zm3-159zm0 2zm0 2zm0 2zm0 2zm0 2zm0 2zm0 2zm0 2zm0 2zm0 2zm0 2zm0 2zm0 2zm0 2zm0 2zm0 2zm0 2zm0 2zm0 2zm0 2zm0 2zm0 2zm0 2zm0 4zm0 4zm0 12zm0 4zm0 6zm3-77zm0 2zm0 2zm0 2zm0 2zm0 2zm0 2zm0 2zm0 2zm0 2zm0 4zm0 2zm0 2zm0 2zm0 2zm0 2zm0 2zm0 2zm0 2zm0 2zm0 2zm0 2zm0 2zm0 2zm0 2zm0 2zm0 2zm0 2zm0 34zm0 70zm3-159zm0 2zm0 2zm0 2zm0 2zm0 2zm0 2zm0 2zm0 2zm0 2zm0 2zm0 2zm0 2zm0 2zm0 2zm0 2zm0 2zm0 2zm0 2zm0 2zm0 2zm0 2zm0 2zm0 2zm0 2zm0 2zm0 2zm0 2zm0 2zm0 2zm0 2zm0 16zm0 18zm3-83zm0 2zm0 2zm0 2zm0 4zm0 2zm0 2zm0 2zm0 4zm0 2zm0 2zm0 2zm0 2zm0 2zm0 4zm3 21zm0 4zm3-61zm0 2zm0 2zm0 2zm0 18zm0 2zm0 2zm0 4zm0 2zm0 6zm0 2zm0 4zm0 34zm0 70zm3-159zm0 2zm0 2zm0 2zm0 60zm0 4zm3-71zm0 2zm0 2zm0 2zm0 4zm0 2zm0 2zm0 2zm0 18zm0 2zm0 2zm0 2zm0 2zm0 2zm0 2zm0 2zm0 4zm0 2zm0 2zm0 2zm0 6zm0 12zm0 16zm0 8zm6-100zm0 2zm0 2zm0 2zm0 4zm0 2zm0 2zm0 2zm3-5zm0 2zm0 2zm0 2zm0 2zm0 2zm9 13zm0 2zm0 2zm0 2zm0 2zm0 2zm0 2zm0 2zm0 8zm0 2zm3-17zm0 2zm0 6zm0 6zm0 2zm0 2zm0 2zm0 16zm0 18zm3-95zm0 2zm0 2zm0 2zm0 4zm0 2zm0 2zm0 2zm9-15zm0 2zm0 2zm0 2zm12 4zm0 2zm0 2zm0 2zm0 2zm0 2zm12-10zm0 2zm0 2zm0 2zm0 2zm0 2z"/>
<path vector-effect="non-scaling-stroke" d="M-168 11zm0 2zm0 2zm0 2zm0 2zm0 2zm3-7zm0 2zm0 2zm0 2zm9-9zm0 2zm0 2zm0 2zm0 2zm0 2zm0 2zm0 2zm0 2zm0 2zm0 2zm0 2zm0 2zm3-23zm0 2zm0 2zm0 2zm0 2zm0 2zm0 2zm0 2zm0 2zm0 2zm0 2zm0 2zm0 2zm0 8zm0 32zm3-57zm0 2zm3-1zm0 2zm3-3zm0 2zm3-9zm0 2zm0 2zm0 2zm0 2zm0 2zm0 2zm0 2zm0 2zm0 2zm0 2zm0 2zm0 2zm0 8zm0 32zm6-64zm0 2zm0 2zm0 2zm0 2zm0 2zm0 2zm0 2zm0 2zm0 2zm0 2zm0 2zm0 2zm0 8zm0 32zm3-65zm0 2zm0 2zm0 2zm0 2zm0 2zm12-10zm0 2zm0 2zm0 2zm0 2zm0 2zm0 2zm0 2zm0 2zm0 2zm0 2zm0 2zm0 2zm3-21zm0 2zm0 2zm0 2zm0 2zm0 2zm0 4zm0 2zm0 2zm0 2zm0 2zm3-25zm0 2zm0 2zm0 2zm0 2zm0 2zm0 2zm0 4zm0 2zm0 2zm0 2zm0 2zm3-21zm0 2zm0 2zm0 2zm0 2zm0 2zm0 2zm0 2zm0 2zm0 2zm0 2zm0 2zm0 8zm0 32zm3-65zm0 2zm0 2zm0 2zm0 2zm0 2zm0 2zm0 4zm0 2zm0 2zm0 2zm0 2zm3-23zm0 2zm0 2zm0 2zm0 2zm0 2zm0 2zm0 2zm0 2zm0 4zm0 2zm0 2zm0 2zm0 2zm0 8zm0 2zm0 2zm3-45zm0 2zm0 2zm0 2zm0 2zm0 2zm0 2zm0 2zm0 2zm0 2zm0 2zm0 2zm0 2zm0 2zm0 2zm0 2zm0 2zm0 2zm0 2zm0 2zm0 2zm3-39zm0 2zm0 2zm0 2zm0 2zm0 2zm0 2zm0 2zm0 2zm0 2zm0 2zm0 2zm0 2zm0 2zm0 2zm0 2zm0 2zm0 2zm0 2zm0 4zm0 2zm0 2zm3-45zm0 2zm0 2zm0 2zm0 2zm0 2zm0 2zm0 2zm0 2zm0 2zm0 2zm0 2zm0 2zm0 2zm0 2zm0 2zm0 2zm0 2zm0 2zm0 2zm0 2zm0 12zm0 12zm3-63zm0 2zm0 2zm0 2zm0 2zm0 2zm0 2zm0 2zm0 2zm0 2zm0 2zm0 2zm0 2zm0 2zm0 2zm0 2zm0 2zm0 2zm0 2zm0 6zm0 2zm0 2zm3-47zm0 2zm0 2zm0 2zm0 2zm0 2zm0 2zm0 2zm0 2zm0 2zm0 2zm0 2zm0 2zm0 2zm0 2zm0 2zm0 2zm0 2zm0 2zm0 2zm0 6zm0 2zm3-45zm0 2zm0 2zm0 2zm0 2zm0 2zm0 2zm0 2zm0 2zm0 2zm0 2zm0 2zm0 2zm0 2zm0 2zm0 2zm0 2zm0 2zm0 2zm0 2zm0 2zm0 2zm0 2zm0 2zm3-51zm0 4zm0 2zm0 2zm0 2zm0 2zm0 2zm0 2zm0 2zm0 2zm0 2zm0 2zm0 2zm0 2zm0 2zm0 2zm0 2zm0 2zm0 2zm0 2zm0 2zm0 6zm0 2zm3-45zm0 2zm0 2zm0 2zm0 2zm0 2zm0 2zm0 2zm0 2zm0 2zm0 2zm0 2zm0 2zm0 2zm0 2zm0 2zm0 2zm0 2zm0 2zm0 6zm0 2zm0 2zm3-51zm0 8zm0 2zm0 2zm0 2zm0 2zm0 2zm0 2zm0 2zm0 2zm0 2zm0 2zm0 2zm0 2zm0 2zm0 2zm0 2zm0 2zm0 2zm0 2zm0 2zm0 2zm0 2zm3-45zm0 2zm0 2zm0 2zm0 2zm0 2zm0 2zm0 2zm0 2zm0 2zm0 2zm0 2zm0 2zm0 2zm0 2zm0 2zm0 2zm0 2zm0 2zm0 18zm0 2zm0 2zm3-59zm0 2zm0 2zm0 2zm0 2zm0 2zm0 2zm0 2zm0 2zm0 2zm0 2zm0 2zm0 2zm0 2zm0 2zm0 2zm0 2zm0 2zm0 2zm0 2zm0 2zm0 4zm3-43zm0 2zm0 2zm0 2zm0 2zm0 2zm0 2zm0 2zm0 2zm0 2zm0 2zm0 2zm0 2zm0 2zm0 2zm0 2zm0 2zm0 2zm0 2zm0 6zm0 4zm0 4zm0 2zm0 2zm0 2zm0 2zm0 2zm0 4zm0 2zm0 4zm3-69zm0 2zm0 2zm0 2zm0 2zm0 2zm0 2zm0 2zm0 2zm0 2zm0 2zm0 2zm0 2zm0 2zm0 2zm0 2zm0 2zm0 2zm0 2zm3-37zm0 2zm0 2zm0 2zm0 2zm0 2zm0 2zm0 2zm0 2zm0 2zm0 2zm0 2zm0 2zm0 2zm0 2zm0 2zm0 2zm0 2zm0 2zm0 2zm0 2zm0 2zm0 2zm0 2zm0 2zm0 2zm0 4zm0 2zm0 4zm0 4zm0 4zm3-73zm0 6zm0 2zm0 2zm0 2zm0 2zm0 2zm0 2zm0 2zm0 2zm0 2zm0 2zm0 2zm0 2zm0 2zm0 2zm0 2zm0 2zm0 2zm0 2zm0 2zm0 2zm0 2zm0 2zm0 2zm0 2zm0 2zm0 2zm0 2zm0 2zm0 4zm0 2zm0 4zm3-67zm0 2zm0 2zm0 2zm0 2zm0 2zm0 2zm0 2zm0 2zm0 2zm0 2zm0 2zm0 2zm0 2zm0 2zm0 2zm0 2zm0 2zm0 2zm0 2zm0 2zm0 2zm0 2zm0 2zm0 2zm0 2zm0 4zm0 2zm0 4zm0 4zm0 4zm3-67zm0 2zm0 2zm0 2zm0 2zm0 2zm0 2zm0 2zm0 2zm0 2zm0 2zm0 2zm0 2zm0 2zm0 2zm0 2zm0 2zm0 2zm0 2zm0 2zm0 2zm0 2zm0 2zm0 4zm3-49zm0 2zm0 2zm0 2zm0 2zm0 2zm0 2zm0 2zm0 2zm0 2zm0 2zm0 2zm0 2zm0 2zm0 2zm0 2zm0 2zm0 2zm0 2zm0 2zm0 2zm0 2zm0 2zm0 4zm0 2zm0 4zm0 6zm0 4zm3-63zm0 2zm0 2zm0 2zm0 2zm0 2zm0 2zm0 2zm0 2zm0 2zm0 2zm0 2zm0 2zm0 2zm0 2zm0 2zm0 2zm0 2zm0 2zm0 2zm0 2zm0 2zm3-43zm0 2zm0 2zm0 2zm0 2zm0 2zm0 2zm0 2zm0 2zm0 2zm0 2zm0 2zm0 2zm0 2zm0 2zm0 2zm0 2zm0 2zm0 2zm0 2zm0 2zm0 2zm3-41zm0 2zm0 2zm0 2zm0 2zm0 2zm0 2zm0 2zm0 2zm0 2zm0 2zm0 2zm0 2zm0 2zm0 2zm0 2zm0 2zm0 2zm0 2zm0 2zm0 2zm0 2zm0 8zm0 4zm0 4zm3-59zm0 2zm0 2zm0 2zm0 2zm0 2zm0 2zm0 2zm0 2zm0 2zm0 2zm0 2zm0 2zm0 2zm0 2zm0 2zm0 2zm0 2zm0 2zm0 2zm0 2zm0 2zm0 2zm0 2zm0 2zm0 2zm0 2zm3-51zm0 2zm0 2zm0 2zm0 2zm0 2zm0 2zm0 2zm0 2zm0 2zm0 2zm0 2zm0 2zm0 2zm0 2zm0 2zm0 2zm0 2zm0 2zm0 2zm0 2zm0 2zm0 2zm0 2zm0 2zm0 2zm0 6zm0 8zm0 6zm3-71zm0 2zm0 2zm0 2zm0 2zm0 2zm0 2zm0 2zm0 2zm0 2zm0 2zm0 2zm0 2zm0 2zm0 2zm0 2zm0 2zm0 2zm0 2zm0 2zm0 2zm0 2zm0 2zm0 2zm0 2zm0 2zm0 2zm0 2zm0 2zm0 2zm0 2zm0 2zm0 2zm0 4zm0 2zm3-75zm0 6zm0 2zm0 2zm0 2zm0 2zm0 2zm0 2zm0 2zm0 2zm0 2zm0 2zm0 2zm0 2zm0 2zm0 2zm0 2zm0 2zm0 2zm0 2zm0 2zm0 2zm0 2zm0 2zm0 2zm0 2zm0 2zm0 2zm0 2zm0 2zm0 2zm0 2zm0 4zm0 14zm0 2zm0 2zm0 2zm0 2zm0 68zm3-155zm0 2zm0 2zm0 2zm0 2zm0 2zm0 2zm0 2zm0 2zm0 2zm0 2zm0 2zm0 2zm0 2zm0 2zm0 2zm0 2zm0 2zm0 2zm0 2zm0 2zm0 2zm0 2zm0 2zm0 2zm0 2zm0 2zm0 2zm0 2zm0 2zm0 2zm0 2zm0 2zm0 8zm0 2zm0 2zm0 4zm0 2zm0 2zm0 4zm0 6zm0 4zm0 34zm0 14zm3-151zm0 6zm0 2zm0 2zm0 2zm0 2zm0 2zm0 2zm0 2zm0 2zm0 2zm0 2zm0 2zm0 2zm0 2zm0 2zm0 2zm0 2zm0 2zm0 2zm0 2zm0 2zm0 2zm0 2zm0 2zm0 2zm0 2zm0 2zm0 2zm0 2zm0 2zm0 6zm0 6zm3-67zm0 2zm0 2zm0 2zm0 2zm0 2zm0 2zm0 2zm0 2zm0 2zm0 2zm0 2zm0 2zm0 2zm0 2zm0 2zm0 2zm0 2zm0 2zm0 2zm0 2zm0 2zm0 2zm0 2zm0 2zm0 2zm0 2zm0 2zm0 4zm3-67zm0 6zm0 2zm0 2zm0 2zm0 2zm0 2zm0 2zm0 2zm0 2zm0 2zm0 2zm0 2zm0 2zm0 2zm0 2zm0 2zm0 2zm0 2zm0 2zm0 2zm0 2zm0 2zm0 2zm0 2zm0 2zm0 2zm0 2zm0 4zm0 2zm0 2zm0 4zm0 6zm3-67zm0 2zm0 2zm0 2zm0 2zm0 2zm0 2zm0 2zm0 2zm0 2zm0 2zm0 2zm0 2zm0 2zm0 2zm0 2zm0 2zm0 2zm0 2zm0 2zm0 2zm0 2zm0 2zm0 2zm0 2zm0 4zm0 2zm0 14zm0 2zm0 2zm0 4zm0 2zm0 2zm0 4zm0 6zm0 4zm0 34zm3-125zm0 2zm0 2zm0 2zm0 2zm0 2zm0 2zm0 2zm0 2zm0 2zm0 2zm0 2zm0 2zm0 2zm0 2zm0 2zm0 2zm0 2zm0 2zm0 2zm0 2zm0 2zm0 2zm0 20zm3-69zm0 2zm0 2zm0 2zm0 2zm0 2zm0 2zm0 2zm0 2zm0 2zm0 2zm0 2zm0 2zm0 2zm0 2zm0 2zm0 4zm0 4zm0 2zm0 2zm0 2zm0 2zm0 10zm3-51zm0 2zm0 2zm0 2zm0 2zm0 2zm0 2zm0 2zm0 2zm0 2zm0 2zm0 2zm0 2zm0 2zm0 2zm0 2zm0 2zm0 2zm0 2zm0 2zm0 2zm0 2zm0 2zm3-45zm0 2zm0 2zm0 2zm0 2zm0 2zm0 2zm0 2zm0 2zm0 2zm0 2zm0 2zm0 2zm0 2zm0 2zm0 2zm0 2zm0 2zm0 2zm0 2zm0 2zm0 2zm0 2zm0 2zm0 2zm0 2zm0 16zm0 18zm0 56zm3-143zm0 2zm0 2zm0 2zm0 2zm0 2zm0 2zm0 2zm0 2zm0 2zm0 2zm0 2zm0 2zm0 2zm0 2zm0 2zm0 2zm0 2zm0 2zm0 2zm0 2zm0 2zm0 2zm0 2zm3-53zm0 2zm0 2zm0 2zm0 4zm0 2zm0 2zm0 2zm0 2zm0 2zm0 2zm0 2zm0 2zm0 2zm0 2zm0 2zm0 2zm0 2zm0 4zm3-29zm0 2zm0 2zm0 2zm0 2zm0 2zm0 2zm0 2zm0 2zm0 2zm0 2zm0 2zm0 2zm0 2zm0 10zm0 4zm0 4zm0 4zm0 16zm3-75zm0 2zm0 2zm0 2zm0 2zm0 2zm0 2zm0 2zm0 2zm0 2zm0 2zm0 2zm0 2zm0 2zm0 2zm0 2zm0 2zm0 2zm0 2zm0 2zm0 2zm0 6zm0 2zm0 10zm0 4zm0 12zm3-67zm0 2zm0 2zm0 2zm0 2zm0 2zm0 2zm0 2zm0 2zm0 2zm0 2zm0 2zm0 2zm0 2zm0 2zm0 2zm0 8zm0 4zm0 2zm3-51zm0 2zm0 2zm0 2zm0 4zm0 2zm0 2zm0 2zm0 2zm0 2zm0 2zm0 2zm0 2zm0 2zm0 2zm0 2zm0 2zm0 2zm0 10zm0 2zm0 4zm0 2zm0 4zm3-47zm0 2zm0 2zm0 2zm0 2zm0 2zm0 2zm0 2zm0 2zm0 2zm0 2zm0 2zm0 2zm0 2zm0 2zm0 62zm3-91zm0 2zm0 4zm0 2zm0 2zm0 2zm0 2zm0 2zm0 2zm0 2zm0 2zm0 2zm0 2zm0 2zm0 2zm0 6zm0 2zm0 4zm0 2zm0 4zm0 4zm3-63zm0 2zm0 2zm0 2zm0 6zm0 2zm0 2zm0 2zm0 2zm0 2zm0 2zm0 2zm0 2zm0 2zm0 2zm0 2zm0 2zm0 2zm0 2zm0 2zm0 2zm0 2zm0 4zm0 2zm0 2zm0 10zm0 4zm0 2zm3-59zm0 2zm0 2zm0 2zm0 2zm0 2zm0 2zm0 2zm0 2zm0 2zm0 2zm0 2zm0 2zm0 2zm0 2zm0 2zm0 2zm0 2zm0 2zm0 2zm0 2zm0 2zm0 2zm0 2zm0 4zm0 2zm0 2zm0 4zm0 8zm0 74zm3-151zm0 2zm0 2zm0 2zm0 2zm0 2zm0 4zm0 4zm0 10zm0 6zm0 2zm0 2zm0 2zm0 4zm0 2zm0 2zm0 6zm0 4zm0 2zm0 2zm0 2zm0 4zm0 2zm0 6zm0 14zm0 70zm3-149zm0 2zm0 2zm0 2zm0 2zm0 2zm0 2zm0 2zm0 2zm0 2zm0 2zm0 2zm0 2zm0 2zm0 2zm0 2zm0 2zm0 2zm0 2zm0 2zm0 2zm0 4zm0 2zm0 4zm0 6zm0 4zm3-71zm0 2zm0 2zm0 2zm0 2zm0 2zm0 2zm0 2zm0 2zm0 2zm0 2zm0 2zm0 2zm0 2zm0 2zm0 2zm0 2zm0 2zm0 2zm0 2zm0 2zm0 2zm0 2zm0 2zm0 2zm0 2zm0 2zm0 2zm0 4zm0 2zm0 2zm0 2zm0 2zm0 2zm3-59zm0 2zm0 2zm0 2zm0 2zm0 2zm0 2zm0 2zm0 2zm0 2zm0 2zm0 2zm0 2zm0 2zm0 2zm0 2zm0 6zm0 2zm0 30zm3-77zm0 2zm0 2zm0 2zm0 2zm0 2zm0 2zm0 2zm0 2zm0 2zm0 2zm0 2zm0 2zm0 2zm0 2zm0 2zm0 2zm0 2zm0 2zm0 2zm0 2zm0 2zm0 4zm0 14zm0 6zm3-57zm0 2zm0 2zm0 2zm0 2zm0 2zm0 2zm0 2zm0 2zm0 2zm0 2zm0 2zm0 2zm0 2zm0 2zm0 2zm0 2zm0 2zm0 2zm0 2zm0 12zm0 2zm0 2zm0 4zm0 4zm0 6zm3-77zm0 2zm0 2zm0 2zm0 2zm0 2zm0 2zm0 2zm0 2zm0 2zm0 2zm0 2zm0 2zm0 2zm0 2zm0 2zm0 2zm0 2zm0 2zm0 2zm0 2zm0 2zm0 2zm0 2zm0 14zm0 4zm0 4zm0 2zm0 20zm0 70zm3-159zm0 2zm0 2zm0 4zm0 2zm0 2zm0 2zm0 2zm0 2zm0 2zm0 2zm0 2zm0 2zm0 2zm0 2zm0 2zm0 2zm0 2zm0 2zm0 2zm0 2zm0 2zm0 2zm0 16zm0 2zm0 2zm0 4zm3-63zm0 2zm0 2zm0 2zm0 2zm0 2zm0 2zm0 2zm0 2zm0 2zm0 2zm0 2zm0 2zm0 2zm0 2zm0 2zm0 2zm0 2zm0 2zm0 2zm0 2zm0 2zm0 2zm0 2zm0 2zm0 2zm0 2zm0 4zm0 2zm0 10zm0 16zm0 8zm3-91zm0 2zm0 2zm0 2zm0 2zm0 2zm0 2zm0 2zm0 2zm0 2zm0 2zm0 2zm0 2zm0 2zm0 2zm0 2zm0 2zm0 2zm0 2zm0 2zm0 4zm0 2zm0 2zm0 8zm0 88zm3-151zm0 2zm0 2zm0 2zm0 2zm0 2zm0 2zm0 4zm0 2zm0 2zm0 2zm0 2zm0 2zm0 2zm0 2zm0 4zm0 2zm0 2zm0 4zm0 2zm0 2zm0 2zm0 2zm0 2zm0 2zm0 2zm0 4zm0 4zm0 4zm0 2zm0 32zm3-91zm0 2zm0 2zm0 2zm0 2zm0 2zm0 2zm0 2zm0 2zm0 2zm0 2zm0 2zm0 2zm0 2zm0 2zm0 2zm0 2zm0 2zm0 2zm0 4zm0 2zm0 2zm0 8zm0 4zm0 4zm0 80zm3-151zm0 2zm0 2zm0 2zm0 2zm0 4zm0 2zm0 2zm0 2zm0 2zm0 2zm0 2zm0 2zm0 2zm0 2zm0 2zm0 2zm0 2zm0 2zm0 2zm0 2zm0 2zm0 2zm0 2zm0 2zm0 2zm0 2zm0 2zm0 12zm0 2zm3-59zm0 2zm0 2zm0 2zm0 2zm0 2zm0 2zm0 2zm0 2zm0 2zm0 2zm0 2zm0 2zm0 2zm0 2zm0 2zm0 2zm0 2zm0 2zm0 4zm0 2zm0 2zm0 8zm0 2zm0 12zm3-77zm0 2zm0 2zm0 2zm0 2zm0 8zm0 2zm0 2zm0 4zm0 4zm0 2zm0 2zm0 2zm0 2zm0 2zm0 2zm0 2zm0 2zm0 2zm0 2zm0 2zm0 2zm0 2zm0 2zm0 8zm0 4zm0 2zm0 20zm0 70zm3-159zm0 2zm0 2zm0 2zm0 2zm0 22zm0 2zm0 2zm0 4zm0 2zm0 2zm0 2zm0 4zm0 2zm0 2zm0 2zm0 2zm0 2zm0 2zm0 16zm0 18zm3-31zm0 26zm0 12zm0 58zm3-159zm0 2zm0 2zm0 2zm0 4zm0 2zm0 2zm0 2zm0 2zm0 2zm3-21zm0 2zm0 2zm0 2zm0 28zm0 2zm0 2zm0 4zm0 2zm0 6zm0 2zm0 4zm3-55zm0 2zm0 2zm0 2zm0 2zm0 4zm0 20zm0 8zm0 2zm0 4zm0 2zm0 4zm0 4zm0 2zm0 4zm0 14zm0 2zm0 2zm0 4zm0 2zm0 2zm0 4zm0 6zm0 4zm0 34zm12-136zm0 2zm0 2zm0 2zm0 26zm0 2zm0 2zm0 2zm0 2zm0 2zm0 2zm0 2zm0 2zm0 6zm0 2zm0 2zm12-58zm0 2zm0 2zm0 2zm0 2zm0 4zm3-13zm0 2zm0 2zm0 2zm9-5zm0 2zm0 2zm0 2zm3-7zm0 2zm0 2zm0 2zm0 4zm0 2zm0 2zm0 2zm6-16zm0 2zm0 2zm0 2zm0 4zm0 2zm0 2zm0 2zm0 2zm0 2zm0 2zm0 4zm0 2zm9-17zm0 2zm0 2zm0 2zm0 2zm0 2z"/>
<path vector-effect="non-scaling-stroke" d="M-167 11zm0 2zm0 2zm0 2zm0 2zm0 2zm3-7zm0 2zm0 2zm0 2zm3-9zm0 2zm0 2zm0 2zm0 2zm0 2zm6-10zm0 2zm0 2zm0 2zm0 2zm0 2zm0 2zm0 2zm0 2zm0 2zm0 2zm0 2zm0 2zm6-24zm0 2zm0 2zm0 2zm0 2zm0 2zm3-1zm0 2zm3-11zm0 2zm0 2zm0 2zm0 2zm0 2zm0 2zm0 2zm0 2zm0 2zm0 2zm0 2zm0 2zm3-21zm0 2zm0 2zm0 2zm0 2zm0 2zm0 2zm0 2zm0 2zm0 2zm0 2zm0 2zm0 8zm0 32zm3-65zm0 2zm0 2zm0 2zm0 2zm0 2zm0 2zm0 2zm0 2zm0 2zm0 2zm0 2zm0 2zm3-21zm0 2zm0 2zm0 2zm0 2zm3-11zm0 2zm0 2zm0 2zm0 2zm0 2zm0 2zm0 4zm0 2zm0 2zm0 2zm0 2zm3-23zm0 2zm0 2zm0 2zm0 2zm0 2zm0 2zm0 2zm0 2zm0 2zm0 2zm0 2zm0 2zm0 8zm0 32zm6-64zm0 2zm0 2zm0 2zm0 2zm0 2zm0 2zm0 2zm0 2zm0 2zm0 2zm0 2zm0 2zm0 8zm0 32zm3-65zm0 2zm0 2zm0 2zm0 2zm0 2zm0 2zm0 2zm0 2zm0 2zm0 2zm0 2zm0 2zm3-11zm0 2zm0 2zm0 2zm0 2zm0 2zm0 2zm0 8zm0 32zm6-62zm0 2zm0 2zm0 2zm0 2zm3 25zm3-35zm0 2zm0 2zm0 2zm0 2zm0 2zm0 2zm0 2zm0 2zm0 4zm0 2zm0 2zm0 2zm0 2zm0 8zm0 2zm0 2zm3-45zm0 2zm0 4zm0 2zm0 2zm0 2zm0 2zm0 2zm0 2zm0 2zm0 2zm0 2zm0 2zm0 2zm0 2zm0 2zm0 2zm0 2zm0 2zm3-37zm0 2zm0 2zm0 2zm0 2zm0 2zm0 2zm0 2zm0 2zm0 2zm0 2zm0 2zm0 2zm0 2zm0 2zm0 2zm0 2zm0 2zm0 2zm0 2zm3-39zm0 2zm0 2zm0 2zm0 2zm0 2zm0 2zm0 2zm0 2zm0 2zm0 2zm0 2zm0 2zm0 2zm0 2zm0 2zm0 2zm0 2zm0 2zm0 2zm3-37zm0 2zm0 2zm0 2zm0 2zm0 2zm0 2zm0 2zm0 2zm0 2zm0 2zm0 2zm0 2zm0 2zm0 2zm0 2zm0 2zm0 2zm0 2zm0 6zm0 2zm0 2zm0 8zm0 2zm0 2zm3-59zm0 2zm0 2zm0 2zm0 2zm0 2zm0 2zm0 2zm0 2zm0 2zm0 2zm0 2zm0 2zm0 2zm0 2zm0 2zm0 2zm0 2zm0 2zm0 2zm0 2zm0 2zm0 4zm0 6zm0 12zm3-63zm0 2zm0 2zm0 2zm0 2zm0 2zm0 2zm0 2zm0 2zm0 2zm0 2zm0 2zm0 2zm0 2zm0 2zm0 2zm0 2zm0 2zm0 2zm0 2zm0 16zm0 2zm0 2zm3-63zm0 4zm0 2zm0 2zm0 2zm0 2zm0 2zm0 2zm0 2zm0 2zm0 2zm0 2zm0 2zm0 2zm0 2zm0 2zm0 2zm0 2zm0 2zm0 2zm0 2zm3-37zm0 2zm0 2zm0 2zm0 2zm0 2zm0 2zm0 2zm0 2zm0 2zm0 2zm0 2zm0 2zm0 2zm0 2zm0 2zm0 2zm0 2zm0 2zm0 18zm0 2zm0 2zm3-63zm0 8zm0 2zm0 2zm0 2zm0 2zm0 2zm0 2zm0 2zm0 2zm0 2zm0 2zm0 2zm0 2zm0 2zm0 2zm0 2zm0 2zm0 2zm0 6zm0 2zm3-45zm0 2zm0 2zm0 2zm0 2zm0 2zm0 2zm0 2zm0 2zm0 2zm0 2zm0 2zm0 2zm0 2zm0 2zm0 2zm0 2zm0 2zm0 2zm3-35zm0 2zm0 2zm0 2zm0 2zm0 2zm0 2zm0 2zm0 2zm0 2zm0 2zm0 2zm0 2zm0 2zm0 2zm0 2zm0 2zm0 2zm0 2zm3-37zm0 2zm0 2zm0 2zm0 2zm0 2zm0 2zm0 2zm0 2zm0 2zm0 2zm0 2zm0 2zm0 2zm0 2zm0 2zm0 2zm0 2zm0 2zm0 2zm0 4zm0 2zm0 4zm0 2zm3-49zm0 2zm0 2zm0 2zm0 2zm0 2zm0 2zm0 2zm0 2zm0 2zm0 2zm0 2zm0 2zm0 2zm0 2zm0 2zm0 2zm0 2zm0 2zm0 2zm0 2zm0 2zm0 2zm0 4zm0 22zm3-67zm0 2zm0 2zm0 2zm0 2zm0 2zm0 2zm0 2zm0 2zm0 2zm0 2zm0 2zm0 2zm0 2zm0 2zm0 2zm0 2zm0 2zm0 2zm0 2zm0 2zm0 2zm0 2zm0 2zm0 4zm0 2zm0 4zm0 4zm0 4zm3-67zm0 2zm0 2zm0 2zm0 2zm0 2zm0 2zm0 2zm0 2zm0 2zm0 2zm0 2zm0 2zm0 2zm0 2zm0 2zm0 2zm0 2zm0 2zm0 2zm0 2zm0 2zm0 2zm0 2zm0 2zm0 2zm0 4zm0 2zm3-57zm0 2zm0 2zm0 2zm0 2zm0 2zm0 2zm0 2zm0 2zm0 2zm0 2zm0 2zm0 2zm0 2zm0 2zm0 2zm0 2zm0 2zm0 2zm0 2zm0 2zm0 2zm0 2zm0 2zm0 2zm0 2zm0 4zm0 2zm0 4zm0 4zm0 4zm3-67zm0 2zm0 2zm0 2zm0 2zm0 2zm0 2zm0 2zm0 2zm0 2zm0 2zm0 2zm0 2zm0 2zm0 2zm0 2zm0 2zm0 2zm0 2zm0 2zm0 2zm0 2zm0 4zm3-47zm0 2zm0 2zm0 2zm0 2zm0 2zm0 2zm0 2zm0 2zm0 2zm0 2zm0 2zm0 2zm0 2zm0 2zm0 2zm0 2zm0 2zm0 2zm0 2zm0 2zm0 2zm0 6zm0 4zm0 2zm0 6zm0 4zm0 6zm3-69zm0 2zm0 2zm0 2zm0 2zm0 2zm0 2zm0 2zm0 2zm0 2zm0 2zm0 2zm0 2zm0 2zm0 2zm0 2zm0 2zm0 2zm0 2zm0 2zm0 2zm0 2zm0 14zm0 2zm0 8zm3-67zm0 2zm0 2zm0 2zm0 2zm0 2zm0 2zm0 2zm0 2zm0 2zm0 2zm0 2zm0 2zm0 2zm0 2zm0 2zm0 2zm0 2zm0 2zm0 4zm0 2zm0 12zm0 2zm0 2zm0 2zm0 2zm0 8zm3-69zm0 2zm0 2zm0 2zm0 2zm0 2zm0 2zm0 2zm0 2zm0 2zm0 2zm0 2zm0 2zm0 2zm0 2zm0 2zm0 2zm0 2zm0 2zm0 2zm0 2zm0 2zm0 2zm0 2zm0 2zm0 6zm0 4zm3-59zm0 2zm0 2zm0 2zm0 2zm0 2zm0 2zm0 2zm0 2zm0 2zm0 2zm0 2zm0 2zm0 2zm0 2zm0 2zm0 2zm0 2zm0 2zm0 2zm0 2zm0 2zm0 2zm0 2zm0 2zm0 2zm0 2zm0 2zm0 2zm0 2zm0 2zm0 2zm0 2zm0 4zm3-65zm0 2zm0 2zm0 2zm0 2zm0 2zm0 2zm0 2zm0 2zm0 2zm0 2zm0 2zm0 2zm0 2zm0 2zm0 2zm0 2zm0 2zm0 2zm0 2zm0 2zm0 2zm0 2zm0 2zm0 2zm0 2zm0 2zm0 4zm0 2zm0 4zm0 6zm3-71zm0 2zm0 2zm0 2zm0 2zm0 2zm0 2zm0 2zm0 2zm0 2zm0 2zm0 2zm0 2zm0 2zm0 2zm0 2zm0 2zm0 2zm0 2zm0 2zm0 2zm0 2zm0 2zm0 2zm0 2zm0 2zm0 2zm0 2zm0 2zm0 2zm0 2zm0 4zm0 8zm0 2zm0 2zm0 4zm0 2zm0 2zm0 4zm0 6zm0 4zm0 34zm3-131zm0 2zm0 2zm0 2zm0 2zm0 2zm0 2zm0 2zm0 2zm0 2zm0 2zm0 2zm0 2zm0 2zm0 2zm0 2zm0 2zm0 2zm0 2zm0 2zm0 2zm0 2zm0 2zm0 2zm0 2zm0 4zm0 2zm0 2zm0 2zm0 12zm0 8zm0 2zm0 2zm0 2zm0 2zm0 68zm3-155zm0 2zm0 2zm0 2zm0 2zm0 2zm0 2zm0 2zm0 2zm0 2zm0 2zm0 2zm0 2zm0 2zm0 2zm0 2zm0 2zm0 2zm0 2zm0 2zm0 2zm0 2zm0 2zm0 2zm0 2zm0 2zm0 2zm0 2zm0 2zm0 2zm0 2zm0 2zm0 2zm0 4zm0 2zm3-69zm0 2zm0 2zm0 2zm0 2zm0 2zm0 2zm0 2zm0 2zm0 2zm0 2zm0 2zm0 2zm0 2zm0 2zm0 2zm0 2zm0 2zm0 2zm0 2zm0 2zm0 2zm0 2zm0 2zm0 2zm0 2zm0 2zm0 2zm0 2zm0 2zm0 6zm0 20zm0 70zm3-155zm0 2zm0 2zm0 2zm0 2zm0 2zm0 2zm0 2zm0 2zm0 2zm0 2zm0 2zm0 2zm0 2zm0 2zm0 2zm0 2zm0 2zm0 2zm0 2zm0 2zm0 2zm0 2zm0 2zm0 2zm0 2zm0 2zm0 2zm0 2zm0 2zm0 2zm0 2zm0 2zm0 4zm0 78zm3-143zm0 2zm0 2zm0 2zm0 2zm0 2zm0 2zm0 2zm0 2zm0 2zm0 2zm0 2zm0 2zm0 2zm0 2zm0 2zm0 2zm0 2zm0 2zm0 2zm0 2zm0 2zm0 2zm0 2zm0 2zm0 2zm0 8zm0 4zm0 6zm0 14zm0 70zm3-155zm0 2zm0 4zm0 2zm0 4zm0 2zm0 2zm0 2zm0 2zm0 2zm0 2zm0 2zm0 2zm0 2zm0 2zm0 2zm0 2zm0 2zm0 2zm0 2zm0 2zm0 2zm0 2zm0 2zm0 2zm0 2zm0 2zm0 2zm0 4zm0 8zm0 76zm3-139zm0 2zm0 2zm0 2zm0 2zm0 2zm0 2zm0 2zm0 2zm0 2zm0 2zm0 2zm0 2zm0 2zm0 2zm0 2zm0 2zm0 2zm0 2zm0 2zm0 2zm0 2zm0 2zm0 4zm0 16zm3-69zm0 2zm0 2zm0 2zm0 2zm0 2zm0 2zm0 2zm0 2zm0 4zm0 2zm0 2zm0 2zm0 2zm0 2zm0 2zm0 2zm0 2zm0 2zm0 2zm0 2zm0 2zm0 2zm0 10zm0 88zm3-139zm0 2zm0 2zm0 2zm0 2zm0 2zm0 2zm0 2zm0 2zm0 2zm0 2zm0 2zm0 2zm0 2zm0 2zm0 2zm0 2zm0 2zm0 2zm0 2zm0 2zm0 2zm0 2zm0 2zm0 2zm0 4zm0 12zm0 16zm0 8zm0 2zm3-99zm0 2zm0 2zm0 4zm0 2zm0 2zm0 2zm0 2zm0 2zm0 2zm0 2zm0 2zm0 2zm0 2zm0 2zm0 2zm0 2zm0 2zm0 2zm0 2zm0 2zm0 2zm0 2zm0 2zm0 2zm0 22zm3-67zm0 2zm0 2zm0 2zm0 2zm0 2zm0 2zm0 2zm0 2zm0 2zm0 2zm0 2zm0 2zm0 2zm0 2zm0 2zm0 2zm0 2zm0 2zm0 2zm0 2zm0 2zm0 2zm0 2zm0 2zm3-45zm0 4zm0 2zm0 2zm0 2zm0 2zm0 2zm0 2zm0 2zm0 2zm0 2zm0 2zm0 2zm0 4zm0 6zm0 16zm3-55zm0 2zm0 2zm0 2zm0 2zm0 2zm0 2zm0 2zm0 2zm0 2zm0 2zm0 2zm0 2zm0 2zm0 2zm0 2zm0 2zm0 4zm0 2zm0 4zm0 2zm0 2zm0 2zm0 6zm0 40zm3-91zm0 2zm0 2zm0 2zm0 2zm0 2zm0 2zm0 2zm0 2zm0 2zm0 2zm0 2zm0 2zm0 2zm0 2zm0 2zm0 110zm3-143zm0 2zm0 2zm0 2zm0 2zm0 2zm0 2zm0 2zm0 2zm0 2zm0 2zm0 2zm0 2zm0 2zm0 2zm0 4zm0 8zm0 4zm0 4zm0 4zm0 42zm3-101zm0 2zm0 2zm0 2zm0 4zm0 2zm0 2zm0 2zm0 2zm0 2zm0 2zm0 2zm0 2zm0 2zm0 2zm0 2zm0 2zm0 2zm0 2zm0 2zm0 8zm0 10zm0 16zm3-75zm0 2zm0 2zm0 2zm0 6zm0 2zm0 2zm0 2zm0 2zm0 2zm0 2zm0 2zm0 2zm0 2zm0 2zm0 2zm0 2zm0 4zm0 24zm3-53zm0 2zm0 4zm0 2zm0 2zm0 2zm0 2zm0 2zm0 2zm0 2zm0 2zm0 2zm0 2zm0 4zm0 2zm0 4zm0 2zm0 4zm0 2zm0 2zm0 2zm0 2zm0 14zm0 2zm0 18zm0 56zm3-151zm0 2zm0 2zm0 2zm0 6zm0 2zm0 2zm0 2zm0 2zm0 2zm0 2zm0 2zm0 2zm0 2zm0 2zm0 2zm0 2zm0 2zm0 2zm0 2zm0 4zm0 2zm0 2zm0 2zm0 2zm0 4zm0 6zm0 2zm0 2zm0 8zm3-67zm0 2zm0 2zm0 2zm0 2zm0 2zm0 2zm0 2zm0 2zm0 2zm0 2zm0 2zm0 2zm0 2zm0 2zm0 2zm0 2zm0 2zm0 2zm0 2zm0 2zm0 2zm0 4zm0 2zm0 18zm3-65zm0 2zm0 2zm0 2zm0 2zm0 2zm0 2zm0 2zm0 2zm0 2zm0 2zm0 2zm0 2zm0 2zm0 2zm0 2zm0 2zm0 2zm0 2zm0 2zm0 2zm0 2zm0 2zm0 4zm0 2zm0 2zm0 2zm3-63zm0 2zm0 2zm0 2zm0 2zm0 2zm0 2zm0 2zm0 2zm0 10zm0 2zm0 4zm0 2zm0 4zm0 2zm0 4zm0 2zm0 2zm3-49zm0 2zm0 2zm0 2zm0 2zm0 2zm0 2zm0 2zm0 2zm0 2zm0 2zm0 2zm0 2zm0 2zm0 2zm0 2zm0 2zm0 2zm0 2zm0 2zm0 2zm0 2zm0 2zm0 2zm0 4zm0 2zm0 2zm0 10zm3-63zm0 2zm0 2zm0 2zm0 2zm0 2zm0 2zm0 2zm0 2zm0 2zm0 2zm0 2zm0 2zm0 2zm0 2zm0 2zm0 4zm0 2zm0 2zm0 6zm0 2zm0 16zm0 2zm3-65zm0 2zm0 2zm0 2zm0 2zm0 2zm0 2zm0 2zm0 2zm0 2zm0 2zm0 2zm0 2zm0 2zm0 2zm0 2zm0 2zm0 2zm0 2zm0 2zm0 2zm0 2zm0 2zm0 2zm0 18zm3-63zm0 2zm0 2zm0 2zm0 2zm0 2zm0 2zm0 2zm0 2zm0 2zm0 4zm0 2zm0 2zm0 2zm0 4zm0 2zm0 28zm3-63zm0 2zm0 2zm0 2zm0 2zm0 2zm0 2zm0 2zm0 2zm0 2zm0 4zm0 2zm0 2zm0 2zm0 2zm0 2zm0 2zm0 2zm0 2zm0 2zm0 2zm0 2zm0 2zm0 2zm0 4zm0 2zm0 2zm0 2zm0 2zm0 4zm0 12zm0 14zm0 2zm0 8zm0 60zm3-159zm0 2zm0 2zm0 2zm0 2zm0 2zm0 2zm0 2zm0 2zm0 2zm0 2zm0 2zm0 2zm0 2zm0 2zm0 2zm0 2zm0 2zm0 2zm0 2zm0 2zm0 2zm0 2zm0 2zm0 4zm0 2zm0 2zm0 4zm0 2zm0 2zm0 2zm0 2zm0 4zm0 6zm3-77zm0 2zm0 2zm0 2zm0 2zm0 2zm0 2zm0 2zm0 2zm0 2zm0 2zm0 2zm0 2zm0 2zm0 2zm0 2zm0 2zm0 2zm0 2zm0 2zm0 2zm0 2zm0 2zm0 2zm0 2zm0 2zm0 2zm0 2zm0 2zm0 2zm0 2zm0 4zm3-55zm0 2zm0 2zm0 2zm0 2zm0 2zm0 2zm0 2zm0 2zm0 2zm0 2zm0 2zm0 2zm0 2zm0 2zm0 2zm0 2zm0 2zm0 2zm0 2zm0 4zm0 2zm0 2zm0 4zm0 2zm0 2zm0 14zm3-77zm0 2zm0 2zm0 2zm0 2zm0 2zm0 4zm0 2zm0 2zm0 2zm0 2zm0 2zm0 2zm0 2zm0 2zm0 2zm0 2zm0 2zm0 2zm0 4zm0 2zm0 2zm0 2zm0 2zm0 2zm0 2zm0 2zm0 8zm0 4zm0 2zm3-61zm0 2zm0 2zm0 2zm0 2zm0 2zm0 2zm0 2zm0 2zm0 2zm0 2zm0 2zm0 2zm0 2zm0 2zm0 2zm0 2zm0 2zm0 2zm0 2zm0 4zm0 2zm0 2zm0 4zm0 2zm0 2zm0 2zm0 12zm3-77zm0 2zm0 2zm0 2zm0 2zm0 4zm0 2zm0 2zm0 2zm0 2zm0 2zm0 2zm0 2zm0 2zm0 2zm0 2zm0 2zm0 2zm0 2zm0 2zm0 2zm0 2zm0 2zm0 2zm0 2zm0 2zm0 2zm0 2zm0 8zm0 4zm0 2zm3-61zm0 2zm0 2zm0 2zm0 2zm0 2zm0 2zm0 2zm0 2zm0 2zm0 2zm0 2zm0 2zm0 2zm0 2zm0 2zm0 2zm0 2zm0 2zm0 2zm0 4zm0 2zm0 2zm0 8zm0 2zm0 12zm3-77zm0 2zm0 2zm0 2zm0 2zm0 4zm0 2zm0 2zm0 2zm0 2zm0 2zm0 2zm0 2zm0 2zm0 4zm0 2zm0 2zm0 2zm0 2zm0 2zm0 2zm0 2zm0 2zm0 4zm0 2zm0 2zm0 2zm0 6zm0 12zm0 16zm0 8zm3-99zm0 2zm0 2zm0 6zm0 2zm0 2zm0 2zm0 4zm0 2zm0 2zm0 2zm0 2zm0 2zm0 4zm0 2zm0 2zm0 6zm0 2zm0 16zm0 4zm0 4zm0 6zm3-61zm0 2zm0 2zm0 4zm0 8zm0 8zm0 2zm0 2zm3-11zm0 8zm0 2zm0 4zm0 2zm0 4zm0 2zm0 2zm0 2zm0 2zm0 2zm0 14zm0 18zm3-95zm0 2zm0 2zm0 2zm0 4zm0 2zm0 2zm0 2zm0 52zm0 2zm3-69zm0 2zm0 2zm0 2zm0 26zm0 8zm0 2zm0 4zm0 2zm0 4zm0 4zm0 2zm0 4zm0 4zm0 4zm0 6zm0 2zm0 2zm0 4zm0 2zm0 2zm0 4zm0 6zm0 4zm0 34zm3-93zm0 2zm0 2zm0 4zm0 2zm0 2zm0 2zm0 6zm0 12zm0 16zm0 8zm3-89zm0 2zm0 2zm0 2zm0 2zm0 2zm6-20zm0 2zm0 2zm0 2zm0 26zm0 2zm0 2zm0 2zm0 2zm0 2zm0 2zm0 2zm0 2zm0 6zm0 2zm0 2zm3-15zm0 2zm0 2zm0 4zm0 2zm0 2zm0 2zm0 6zm0 12zm0 16zm0 8zm3-99zm0 2zm0 2zm0 2zm0 2zm0 4zm6-12zm0 2zm0 2zm0 2zm3-7zm0 2zm0 2zm0 2zm0 4zm0 2zm0 2zm0 2zm0 2zm0 2zm0 2zm0 4zm0 2zm6-28zm0 2zm0 2zm0 2zm0 4zm0 2zm0 2zm0 2zm6-16zm0 2zm0 2zm0 2zm6-6zm0 2zm0 2zm0 2z"/>
<path vector-effect="non-scaling-stroke" d="M-169 14zm0 2zm0 2zm0 2zm3-9zm0 2zm0 2zm0 2zm0 2zm0 2zm9-9zm0 2zm0 2zm0 2zm0 2zm0 2zm3-11zm0 2zm0 2zm0 2zm0 2zm0 2zm0 2zm0 2zm0 2zm0 2zm0 2zm0 2zm0 2zm3-15zm0 2zm3-11zm0 2zm0 2zm0 2zm0 2zm0 2zm0 2zm0 2zm0 2zm0 2zm0 2zm0 2zm0 2zm3-15zm0 2zm3-11zm0 2zm0 2zm0 2zm0 2zm0 2zm0 2zm0 2zm0 2zm0 2zm0 2zm0 2zm0 2zm3-23zm0 2zm0 2zm0 2zm0 2zm0 2zm3-11zm0 2zm0 2zm0 2zm0 2zm0 2zm0 2zm0 4zm0 2zm0 2zm0 2zm0 2zm3-23zm0 2zm0 2zm0 2zm0 2zm0 2zm0 2zm0 2zm0 2zm0 2zm0 2zm0 2zm0 2zm0 8zm0 32zm3-65zm0 2zm0 2zm0 2zm0 2zm0 2zm0 2zm0 2zm0 2zm0 2zm0 2zm0 2zm0 2zm9-21zm0 2zm0 2zm0 2zm0 2zm0 2zm0 2zm0 2zm0 2zm0 2zm0 2zm0 2zm0 8zm0 32zm3-65zm0 2zm0 2zm0 2zm0 2zm0 2zm6-10zm0 2zm0 2zm0 2zm0 2zm0 2zm0 2zm0 2zm0 2zm0 2zm0 2zm0 2zm0 2zm3-21zm0 2zm0 2zm0 2zm0 2zm0 2zm0 2zm0 2zm0 2zm0 2zm0 2zm0 2zm0 8zm0 32zm3-65zm0 2zm0 2zm0 2zm0 2zm0 2zm0 2zm0 2zm0 2zm0 2zm0 2zm0 2zm0 2zm0 2zm0 2zm0 8zm3-35zm0 2zm0 2zm0 2zm0 2zm0 2zm0 2zm0 2zm0 2zm0 4zm0 2zm0 2zm0 2zm0 2zm0 8zm0 2zm0 2zm3-45zm0 2zm0 2zm0 2zm0 2zm0 2zm0 2zm0 2zm0 2zm0 2zm0 2zm0 2zm0 2zm0 2zm0 2zm0 2zm0 2zm0 2zm0 2zm0 2zm0 2zm3-39zm0 2zm0 2zm0 2zm0 2zm0 2zm0 2zm0 2zm0 2zm0 2zm0 2zm0 2zm0 2zm0 2zm0 2zm0 2zm0 2zm0 2zm0 2zm0 2zm3-39zm0 2zm0 2zm0 2zm0 2zm0 2zm0 2zm0 2zm0 2zm0 2zm0 2zm0 2zm0 2zm0 2zm0 2zm0 2zm0 2zm0 2zm0 2zm0 2zm3-37zm0 2zm0 2zm0 2zm0 2zm0 2zm0 2zm0 2zm0 2zm0 2zm0 2zm0 2zm0 2zm0 2zm0 2zm0 2zm0 2zm0 2zm0 2zm0 18zm0 2zm0 2zm3-59zm0 2zm0 2zm0 2zm0 2zm0 2zm0 2zm0 2zm0 2zm0 2zm0 2zm0 2zm0 2zm0 2zm0 2zm0 2zm0 2zm0 2zm0 2zm0 2zm0 2zm0 2zm0 4zm0 6zm0 12zm3-63zm0 2zm0 2zm0 2zm0 2zm0 2zm0 2zm0 2zm0 2zm0 2zm0 2zm0 2zm0 2zm0 2zm0 2zm0 2zm0 2zm0 2zm0 2zm3-41zm0 4zm0 2zm0 2zm0 2zm0 2zm0 2zm0 2zm0 2zm0 2zm0 2zm0 2zm0 2zm0 2zm0 2zm0 2zm0 2zm0 2zm0 2zm0 2zm0 2zm3-37zm0 2zm0 2zm0 2zm0 2zm0 2zm0 2zm0 2zm0 2zm0 2zm0 2zm0 2zm0 2zm0 2zm0 2zm0 2zm0 2zm0 2zm0 2zm3-41zm0 4zm0 2zm0 2zm0 2zm0 2zm0 2zm0 2zm0 2zm0 2zm0 2zm0 2zm0 2zm0 2zm0 2zm0 2zm0 2zm0 2zm0 2zm0 2zm0 2zm0 2zm0 2zm0 4zm3-43zm0 2zm0 2zm0 2zm0 2zm0 2zm0 2zm0 2zm0 2zm0 2zm0 2zm0 2zm0 2zm0 2zm0 2zm0 2zm0 2zm0 2zm0 32zm3-65zm0 2zm0 2zm0 2zm0 2zm0 2zm0 2zm0 2zm0 2zm0 2zm0 2zm0 2zm0 2zm0 2zm0 2zm0 2zm0 2zm0 2zm0 2zm0 4zm3-43zm0 2zm0 2zm0 2zm0 2zm0 2zm0 2zm0 2zm0 2zm0 2zm0 2zm0 2zm0 2zm0 2zm0 2zm0 2zm0 2zm0 2zm0 2zm0 2zm0 2zm0 2zm0 2zm0 2zm0 2zm0 2zm3-49zm0 2zm0 2zm0 2zm0 2zm0 2zm0 2zm0 2zm0 2zm0 2zm0 2zm0 2zm0 2zm0 2zm0 2zm0 2zm0 2zm0 2zm0 2zm0 2zm0 4zm0 4zm3-47zm0 2zm0 2zm0 2zm0 2zm0 2zm0 2zm0 2zm0 2zm0 2zm0 2zm0 2zm0 2zm0 2zm0 2zm0 2zm0 2zm0 2zm0 2zm0 2zm0 2zm0 2zm0 2zm0 2zm0 2zm0 2zm3-49zm0 2zm0 2zm0 2zm0 2zm0 2zm0 2zm0 2zm0 2zm0 2zm0 2zm0 2zm0 2zm0 2zm0 2zm0 2zm0 2zm0 2zm0 2zm0 2zm0 2zm0 2zm0 2zm0 2zm0 2zm0 2zm0 2zm0 2zm0 2zm0 2zm0 6zm0 2zm0 4zm3-71zm0 2zm0 2zm0 2zm0 2zm0 2zm0 2zm0 2zm0 2zm0 2zm0 2zm0 2zm0 2zm0 2zm0 2zm0 2zm0 2zm0 2zm0 2zm0 2zm0 2zm0 2zm0 2zm0 4zm0 2zm0 4zm0 2zm0 2zm0 2zm0 4zm3-63zm0 2zm0 2zm0 2zm0 2zm0 2zm0 2zm0 2zm0 2zm0 2zm0 2zm0 2zm0 2zm0 2zm0 2zm0 2zm0 2zm0 2zm0 2zm0 14zm0 4zm0 2zm3-57zm0 2zm0 2zm0 2zm0 2zm0 2zm0 2zm0 2zm0 2zm0 2zm0 2zm0 2zm0 2zm0 2zm0 2zm0 2zm0 2zm0 2zm0 2zm0 2zm0 2zm0 2zm3-41zm0 2zm0 2zm0 2zm0 2zm0 2zm0 2zm0 2zm0 2zm0 2zm0 2zm0 2zm0 2zm0 2zm0 2zm0 2zm0 2zm0 2zm0 2zm0 2zm0 2zm0 2zm0 14zm0 2zm0 8zm3-67zm0 2zm0 2zm0 2zm0 2zm0 2zm0 2zm0 2zm0 2zm0 2zm0 2zm0 2zm0 2zm0 2zm0 2zm0 2zm0 2zm0 2zm0 2zm0 2zm0 2zm0 2zm0 2zm0 2zm0 2zm0 2zm0 4zm0 2zm0 2zm0 2zm0 2zm3-67zm0 6zm0 2zm0 2zm0 2zm0 2zm0 2zm0 2zm0 2zm0 2zm0 2zm0 2zm0 2zm0 2zm0 2zm0 2zm0 2zm0 2zm0 2zm0 2zm0 2zm0 2zm0 2zm0 2zm0 2zm0 2zm0 2zm0 4zm0 4zm0 38zm3-97zm0 2zm0 2zm0 2zm0 2zm0 2zm0 2zm0 2zm0 2zm0 2zm0 2zm0 2zm0 2zm0 2zm0 2zm0 2zm0 2zm0 2zm0 2zm0 2zm0 2zm0 2zm0 2zm0 4zm0 2zm0 2zm0 2zm0 2zm0 2zm0 2zm0 2zm0 2zm0 82zm3-145zm0 2zm0 2zm0 2zm0 2zm0 2zm0 2zm0 2zm0 2zm0 2zm0 2zm0 2zm0 2zm0 2zm0 2zm0 2zm0 2zm0 2zm0 2zm0 2zm0 2zm0 2zm0 2zm0 2zm0 2zm0 16zm3-65zm0 2zm0 2zm0 2zm0 2zm0 2zm0 2zm0 2zm0 2zm0 2zm0 2zm0 2zm0 2zm0 2zm0 2zm0 2zm0 2zm0 2zm0 2zm0 2zm0 2zm0 2zm0 2zm0 2zm0 2zm0 2zm0 2zm0 2zm0 4zm0 2zm0 4zm0 6zm3-67zm0 2zm0 2zm0 2zm0 2zm0 2zm0 2zm0 2zm0 2zm0 2zm0 2zm0 2zm0 2zm0 2zm0 2zm0 2zm0 2zm0 2zm0 2zm0 2zm0 2zm0 2zm0 2zm0 2zm0 2zm0 2zm0 2zm0 2zm0 2zm0 2zm0 4zm3-65zm0 2zm0 2zm0 2zm0 2zm0 2zm0 2zm0 2zm0 2zm0 2zm0 2zm0 2zm0 2zm0 2zm0 2zm0 2zm0 2zm0 2zm0 2zm0 2zm0 2zm0 2zm0 2zm0 2zm0 2zm0 2zm0 2zm0 2zm0 2zm0 2zm0 2zm0 2zm0 2zm0 4zm0 78zm3-145zm0 2zm0 2zm0 2zm0 2zm0 2zm0 2zm0 2zm0 2zm0 2zm0 2zm0 2zm0 2zm0 2zm0 2zm0 2zm0 2zm0 2zm0 2zm0 4zm0 6zm0 2zm0 2zm0 2zm0 2zm0 2zm0 2zm0 2zm0 4zm0 32zm3-97zm0 2zm0 2zm0 2zm0 2zm0 2zm0 2zm0 2zm0 2zm0 2zm0 2zm0 2zm0 2zm0 2zm0 2zm0 2zm0 2zm0 2zm0 2zm0 2zm0 2zm0 2zm0 2zm0 2zm0 2zm0 2zm0 2zm0 2zm0 2zm0 2zm0 2zm0 2zm0 2zm0 6zm3-75zm0 6zm0 2zm0 2zm0 2zm0 2zm0 2zm0 2zm0 2zm0 2zm0 2zm0 2zm0 2zm0 2zm0 2zm0 2zm0 2zm0 2zm0 2zm0 2zm0 2zm0 2zm0 2zm0 2zm0 2zm0 2zm0 2zm0 2zm0 4zm0 2zm3-53zm0 2zm0 2zm0 2zm0 2zm0 2zm0 2zm0 2zm0 2zm0 2zm0 2zm0 2zm0 2zm0 2zm0 2zm0 2zm0 2zm0 2zm0 2zm0 2zm0 2zm0 2zm0 2zm3-43zm0 2zm0 2zm0 2zm0 2zm0 2zm0 2zm0 2zm0 2zm0 2zm0 2zm0 2zm0 2zm0 2zm0 2zm0 2zm0 2zm0 2zm0 2zm0 2zm0 2zm0 2zm0 48zm3-95zm0 2zm0 2zm0 2zm0 2zm0 2zm0 2zm0 2zm0 2zm0 2zm0 2zm0 2zm0 2zm0 2zm0 2zm0 2zm0 2zm0 2zm0 4zm0 2zm0 2zm0 2zm0 2zm3-51zm0 2zm0 2zm0 6zm0 2zm0 2zm0 2zm0 2zm0 2zm0 2zm0 2zm0 2zm0 2zm0 2zm0 2zm0 2zm0 2zm0 2zm0 2zm0 2zm0 2zm0 2zm0 2zm0 2zm0 2zm0 2zm0 2zm0 6zm0 12zm0 16zm0 8zm3-93zm0 2zm0 2zm0 2zm0 2zm0 2zm0 2zm0 2zm0 2zm0 2zm0 2zm0 2zm0 2zm0 2zm0 2zm0 2zm0 2zm0 2zm0 2zm0 2zm0 2zm0 2zm0 2zm0 2zm3-45zm0 2zm0 2zm0 2zm0 2zm0 2zm0 2zm0 2zm0 2zm0 2zm0 2zm0 2zm0 2zm0 2zm0 2zm0 2zm0 2zm0 2zm0 2zm0 2zm0 2zm0 2zm0 2zm0 2zm0 2zm0 6zm3-61zm0 2zm0 2zm0 2zm0 2zm0 2zm0 2zm0 2zm0 2zm0 2zm0 2zm0 2zm0 2zm0 2zm0 2zm0 2zm0 2zm0 2zm0 2zm0 2zm0 2zm0 2zm0 6zm0 6zm0 2zm0 2zm0 2zm0 14zm0 2zm0 2zm0 2zm0 4zm0 2zm0 2zm0 4zm0 2zm0 4zm0 4zm0 34zm3-129zm0 2zm0 2zm0 2zm0 2zm0 2zm0 2zm0 2zm0 2zm0 2zm0 2zm0 2zm0 2zm0 2zm0 2zm0 2zm0 2zm0 8zm0 4zm0 4zm0 4zm3-49zm0 2zm0 2zm0 2zm0 2zm0 2zm0 2zm0 2zm0 2zm0 2zm0 2zm0 2zm0 2zm0 2zm3-29zm0 2zm0 2zm0 2zm0 2zm0 2zm0 2zm0 2zm0 2zm0 2zm0 2zm0 2zm0 2zm0 2zm0 2zm0 2zm0 2zm0 4zm0 2zm0 2zm0 4zm0 2zm0 2zm0 2zm0 4zm0 2zm0 12zm0 16zm0 8zm3-89zm0 2zm0 4zm0 2zm0 2zm0 2zm0 2zm0 2zm0 2zm0 2zm0 2zm0 2zm0 2zm0 12zm0 10zm0 16zm3-75zm0 2zm0 2zm0 2zm0 6zm0 2zm0 2zm0 2zm0 2zm0 2zm0 2zm0 2zm0 2zm0 2zm0 2zm0 2zm0 2zm0 2zm0 26zm3-53zm0 2zm0 4zm0 2zm0 2zm0 2zm0 2zm0 2zm0 2zm0 2zm0 2zm0 2zm0 2zm0 26zm0 12zm0 2zm0 2zm0 2zm0 4zm0 2zm0 2zm0 4zm0 6zm0 4zm0 34zm3-137zm0 2zm0 2zm0 2zm0 4zm0 4zm0 4zm0 10zm0 4zm0 2zm0 4zm0 2zm0 4zm0 2zm0 2zm0 2zm0 2zm0 2zm0 2zm0 2zm0 6zm0 2zm0 2zm0 8zm0 16zm0 8zm0 2zm3-101zm0 2zm0 2zm0 2zm0 2zm0 2zm0 2zm0 2zm0 2zm0 4zm0 2zm0 4zm0 2zm0 2zm0 2zm0 2zm0 2zm0 2zm0 2zm0 2zm0 2zm0 2zm0 2zm0 2zm0 4zm0 2zm0 2zm0 2zm0 16zm0 2zm0 2zm0 4zm0 2zm0 2zm0 4zm0 2zm0 4zm0 4zm0 34zm3-113zm0 2zm0 2zm0 4zm0 2zm0 2zm0 2zm0 2zm0 2zm0 2zm0 2zm0 2zm0 2zm0 2zm0 2zm0 2zm0 2zm0 2zm0 2zm0 2zm0 2zm0 2zm0 8zm0 16zm0 8zm3-91zm0 2zm0 2zm0 2zm0 2zm0 4zm0 2zm0 4zm0 2zm0 2zm0 2zm0 2zm0 2zm0 2zm0 2zm0 2zm0 2zm0 2zm0 2zm0 2zm0 4zm0 6zm0 2zm3-63zm0 2zm0 2zm0 2zm0 2zm0 2zm0 2zm0 2zm0 2zm0 2zm0 2zm0 2zm0 2zm0 2zm0 2zm0 2zm0 2zm0 2zm0 2zm0 2zm0 2zm0 2zm0 4zm0 18zm3-63zm0 2zm0 2zm0 2zm0 2zm0 2zm0 2zm0 2zm0 2zm0 2zm0 2zm0 2zm0 2zm0 2zm0 2zm0 2zm0 2zm0 2zm0 2zm0 2zm0 4zm0 2zm0 2zm0 18zm0 2zm0 4zm0 6zm0 74zm3-151zm0 2zm0 2zm0 2zm0 2zm0 4zm0 2zm0 2zm0 2zm0 4zm0 2zm0 2zm0 2zm0 2zm0 2zm0 2zm0 2zm0 2zm0 2zm0 2zm0 2zm0 2zm0 2zm0 4zm0 2zm0 2zm0 2zm0 6zm0 4zm0 2zm0 6zm0 16zm0 8zm3-99zm0 2zm0 2zm0 2zm0 2zm0 2zm0 2zm0 2zm0 2zm0 2zm0 4zm0 6zm0 2zm0 2zm0 2zm0 28zm0 14zm3-77zm0 2zm0 2zm0 2zm0 2zm0 2zm0 2zm0 2zm0 2zm0 2zm0 2zm0 2zm0 2zm0 2zm0 2zm0 2zm0 2zm0 2zm0 2zm0 2zm0 2zm0 2zm0 2zm0 2zm3-45zm0 2zm0 2zm0 2zm0 2zm0 2zm0 2zm0 2zm0 2zm0 2zm0 2zm0 2zm0 2zm0 2zm0 2zm0 2zm0 2zm0 2zm0 2zm0 2zm0 2zm0 2zm0 2zm0 2zm0 4zm0 2zm0 2zm0 8zm3-63zm0 2zm0 2zm0 2zm0 2zm0 4zm0 2zm0 2zm0 2zm0 2zm0 2zm0 2zm0 2zm0 2zm0 2zm0 2zm0 2zm0 2zm0 2zm0 2zm0 2zm0 2zm0 2zm0 2zm0 4zm0 4zm0 2zm0 2zm0 30zm0 70zm3-151zm0 2zm0 2zm0 2zm0 2zm0 2zm0 2zm0 2zm0 2zm0 2zm0 2zm0 2zm0 2zm0 2zm0 2zm0 2zm0 2zm0 2zm0 2zm0 2zm0 4zm0 4zm0 4zm0 2zm0 2zm3-63zm0 2zm0 2zm0 2zm0 2zm0 2zm0 2zm0 2zm0 2zm0 2zm0 2zm0 2zm0 2zm0 2zm0 2zm0 2zm0 2zm0 2zm0 2zm0 2zm0 2zm0 2zm0 2zm0 2zm0 2zm0 2zm0 4zm0 4zm0 2zm0 4zm3-63zm0 2zm0 2zm0 2zm0 2zm0 2zm0 2zm0 2zm0 2zm0 2zm0 2zm0 2zm0 2zm0 2zm0 2zm0 2zm0 4zm0 2zm0 2zm0 2zm0 2zm0 2zm0 2zm0 2zm0 6zm0 2zm0 2zm0 2zm0 2zm0 4zm0 4zm0 6zm0 2zm0 2zm0 4zm0 2zm0 2zm0 4zm0 2zm0 4zm0 4zm0 34zm3-137zm0 2zm0 2zm0 2zm0 2zm0 2zm0 2zm0 2zm0 2zm0 2zm0 2zm0 2zm0 2zm0 2zm0 2zm0 2zm0 2zm0 2zm0 2zm0 2zm0 2zm0 2zm0 2zm0 2zm0 2zm0 4zm0 4zm0 12zm0 2zm3-69zm0 2zm0 2zm0 2zm0 2zm0 2zm0 2zm0 2zm0 2zm0 2zm0 2zm0 2zm0 2zm0 2zm0 2zm0 2zm0 2zm0 2zm0 2zm0 2zm0 2zm0 2zm0 2zm0 2zm0 4zm0 2zm0 2zm0 22zm0 2zm0 2zm0 4zm0 2zm0 2zm0 4zm0 6zm0 4zm0 34zm3-137zm0 2zm0 2zm0 2zm0 2zm0 4zm0 2zm0 2zm0 2zm0 2zm0 2zm0 2zm0 2zm0 2zm0 4zm0 2zm0 2zm0 2zm0 2zm0 2zm0 2zm0 2zm0 2zm0 2zm0 2zm0 2zm0 2zm0 2zm0 6zm0 12zm0 16zm0 8zm3-89zm0 2zm0 2zm0 2zm0 4zm0 2zm0 2zm0 2zm0 2zm0 2zm0 4zm0 2zm0 2zm0 6zm0 2zm3 21zm0 2zm3-61zm0 4zm0 20zm0 8zm0 2zm0 4zm0 2zm0 4zm0 4zm0 2zm0 4zm0 14zm0 2zm0 2zm0 4zm0 2zm0 2zm0 4zm0 6zm0 4zm0 34zm3-137zm0 2zm0 2zm0 2zm0 62zm0 2zm3-69zm0 2zm0 2zm0 2zm0 2zm0 4zm0 20zm0 2zm0 2zm0 2zm0 2zm0 2zm0 2zm0 2zm0 2zm0 6zm0 2zm0 2zm0 2zm0 16zm0 18zm6-94zm0 2zm0 2zm0 2zm0 2zm0 4zm3-3zm0 2zm0 2zm0 2zm0 2zm0 2zm0 2zm0 4zm0 2zm9 5zm0 2zm0 2zm0 2zm0 2zm0 2zm0 2zm0 2zm0 2zm0 6zm0 2zm0 2zm3-15zm0 2zm0 2zm0 4zm0 2zm0 2zm0 2zm0 6zm0 12zm0 16zm0 8zm3-99zm0 2zm0 2zm0 2zm0 2zm0 4zm9-13zm0 2zm0 2zm0 2zm12 4zm0 2zm0 2zm0 2zm0 2zm0 2zm0 2zm0 4zm0 2zm12-18zm0 2zm0 2zm0 2zm0 2zm0 2zm0 2zm0 4zm0 2z"/>
<path vector-effect="non-scaling-stroke" d="M-168 14zm0 2zm0 2zm0 2zm3-9zm0 2zm0 2zm0 2zm0 2zm0 2zm9-7zm0 4zm0 2zm0 2zm0 54zm3-65zm0 2zm0 2zm0 2zm0 2zm0 2zm3-1zm0 2zm3-3zm0 2zm3-1zm0 2zm3-11zm0 2zm0 2zm0 2zm0 2zm0 2zm6-10zm0 2zm0 2zm0 2zm0 2zm0 2zm0 2zm0 4zm0 2zm0 2zm0 2zm0 2zm3-21zm0 2zm0 2zm0 2zm0 2zm12-8zm0 2zm0 2zm0 2zm0 2zm0 2zm0 4zm0 2zm0 2zm0 2zm0 2zm0 8zm0 32zm3-65zm0 2zm0 2zm0 4zm0 2zm3-7zm0 2zm0 2zm0 2zm0 2zm3-11zm0 2zm0 2zm0 4zm0 2zm3-7zm0 2zm0 2zm0 2zm0 2zm6-6zm0 2zm0 2zm0 2zm0 2zm0 2zm0 2zm0 2zm0 4zm0 2zm0 2zm0 2zm3-29zm0 2zm0 2zm0 2zm0 2zm0 2zm0 2zm0 2zm0 2zm0 2zm0 2zm0 2zm0 2zm0 2zm0 2zm0 2zm0 2zm0 2zm3-37zm0 2zm0 2zm0 2zm0 2zm0 2zm0 2zm0 2zm0 2zm0 2zm0 2zm0 2zm0 2zm0 2zm0 2zm0 2zm0 2zm0 2zm0 2zm0 20zm0 2zm3-57zm0 2zm0 2zm0 2zm0 2zm0 2zm0 2zm0 2zm0 2zm0 2zm0 2zm0 2zm0 2zm0 2zm0 2zm0 2zm0 2zm0 2zm0 2zm3-37zm0 2zm0 2zm0 2zm0 2zm0 2zm0 2zm0 2zm0 2zm0 2zm0 2zm0 2zm0 2zm0 2zm0 2zm0 2zm0 2zm0 2zm0 2zm3-35zm0 2zm0 2zm0 2zm0 2zm0 2zm0 2zm0 2zm0 2zm0 2zm0 2zm0 2zm0 2zm0 2zm0 2zm0 2zm0 2zm0 2zm0 2zm0 8zm3-43zm0 2zm0 2zm0 2zm0 2zm0 2zm0 2zm0 2zm0 2zm0 2zm0 2zm0 2zm0 2zm0 2zm0 2zm0 2zm0 2zm0 2zm3-35zm0 2zm0 2zm0 2zm0 2zm0 2zm0 2zm0 2zm0 2zm0 2zm0 2zm0 2zm0 2zm0 2zm0 2zm0 2zm0 2zm0 2zm0 2zm3-33zm0 2zm0 2zm0 2zm0 2zm0 2zm0 2zm0 2zm0 2zm0 2zm0 2zm0 2zm0 2zm0 2zm0 2zm0 2zm0 2zm0 8zm3-43zm0 2zm0 2zm0 2zm0 2zm0 2zm0 2zm0 2zm0 2zm0 2zm0 2zm0 2zm0 2zm0 2zm0 2zm0 2zm0 2zm0 2zm0 2zm3-37zm0 2zm0 2zm0 2zm0 2zm0 2zm0 2zm0 2zm0 2zm0 2zm0 2zm0 2zm0 2zm0 2zm0 2zm0 2zm0 2zm0 2zm0 2zm3-35zm0 2zm0 2zm0 2zm0 2zm0 2zm0 2zm0 2zm0 2zm0 2zm0 2zm0 2zm0 2zm0 2zm0 2zm0 2zm0 2zm0 2zm0 2zm0 16zm3-53zm0 2zm0 2zm0 2zm0 2zm0 2zm0 2zm0 2zm0 2zm0 2zm0 2zm0 2zm0 2zm0 2zm0 2zm0 2zm0 2zm0 2zm0 2zm3-35zm0 2zm0 2zm0 2zm0 2zm0 2zm0 2zm0 2zm0 2zm0 2zm0 2zm0 2zm0 2zm0 2zm0 2zm0 2zm0 2zm0 2zm0 2zm0 6zm0 8zm0 4zm3-55zm0 4zm0 2zm0 2zm0 2zm0 2zm0 2zm0 2zm0 2zm0 2zm0 2zm0 2zm0 2zm0 2zm0 2zm0 2zm0 2zm0 2zm0 2zm0 4zm0 2zm0 4zm0 2zm3-49zm0 2zm0 2zm0 2zm0 2zm0 2zm0 2zm0 2zm0 2zm0 2zm0 2zm0 2zm0 2zm0 2zm0 2zm0 2zm0 2zm0 2zm0 2zm0 2zm0 2zm3-41zm0 2zm0 2zm0 2zm0 2zm0 2zm0 2zm0 2zm0 2zm0 2zm0 2zm0 2zm0 2zm0 2zm0 2zm0 2zm0 2zm0 2zm0 2zm3-35zm0 2zm0 2zm0 2zm0 2zm0 2zm0 2zm0 2zm0 2zm0 2zm0 2zm0 2zm0 2zm0 2zm0 2zm0 2zm0 2zm0 2zm0 2zm0 2zm0 2zm0 2zm0 6zm3-49zm0 2zm0 2zm0 2zm0 2zm0 2zm0 2zm0 2zm0 2zm0 2zm0 2zm0 2zm0 2zm0 2zm0 2zm0 2zm0 2zm0 2zm0 2zm0 2zm0 2zm0 2zm3-39zm0 2zm0 2zm0 2zm0 2zm0 2zm0 2zm0 2zm0 2zm0 2zm0 2zm0 2zm0 2zm0 2zm0 2zm0 2zm0 2zm0 2zm0 4zm3-41zm0 2zm0 2zm0 2zm0 2zm0 2zm0 2zm0 2zm0 2zm0 2zm0 2zm0 2zm0 2zm0 2zm0 2zm0 2zm0 2zm0 2zm0 2zm0 2zm0 2zm0 2zm3-39zm0 2zm0 2zm0 2zm0 2zm0 2zm0 2zm0 2zm0 2zm0 2zm0 2zm0 2zm0 2zm0 2zm0 2zm0 2zm0 2zm0 2zm0 2zm0 2zm3-41zm0 2zm0 2zm0 2zm0 2zm0 2zm0 2zm0 2zm0 2zm0 2zm0 2zm0 2zm0 2zm0 2zm0 2zm0 2zm0 2zm0 2zm0 2zm0 2zm0 2zm0 2zm0 8zm3-47zm0 2zm0 2zm0 2zm0 2zm0 2zm0 2zm0 2zm0 2zm0 2zm0 2zm0 2zm0 2zm0 2zm0 2zm0 2zm0 2zm0 2zm0 2zm0 2zm0 2zm0 4zm0 2zm0 2zm0 2zm0 2zm0 4zm3-59zm0 2zm0 2zm0 2zm0 2zm0 2zm0 2zm0 2zm0 2zm0 2zm0 2zm0 2zm0 2zm0 2zm0 2zm0 2zm0 2zm0 2zm0 2zm0 2zm0 2zm0 2zm0 2zm0 2zm0 2zm0 2zm0 2zm0 2zm0 2zm0 2zm0 2zm0 2zm0 10zm0 2zm0 2zm0 4zm0 2zm0 2zm0 4zm0 6zm0 4zm3-95zm0 2zm0 2zm0 2zm0 2zm0 2zm0 2zm0 2zm0 2zm0 2zm0 2zm0 2zm0 2zm0 2zm0 2zm0 2zm0 2zm0 2zm0 2zm0 2zm0 2zm0 4zm0 2zm0 2zm0 2zm0 4zm0 8zm0 20zm3-85zm0 2zm0 2zm0 2zm0 2zm0 2zm0 2zm0 2zm0 2zm0 2zm0 2zm0 2zm0 2zm0 2zm0 2zm0 2zm0 2zm0 2zm0 2zm0 2zm0 2zm0 2zm0 2zm0 4zm0 2zm0 2zm0 6zm0 2zm0 4zm3-61zm0 2zm0 2zm0 2zm0 2zm0 2zm0 2zm0 2zm0 2zm0 2zm0 2zm0 2zm0 2zm0 2zm0 2zm0 2zm0 2zm0 2zm0 2zm0 2zm0 2zm0 4zm0 2zm0 2zm0 2zm3-49zm0 2zm0 2zm0 2zm0 2zm0 2zm0 2zm0 2zm0 2zm0 2zm0 2zm0 2zm0 2zm0 2zm0 2zm0 2zm0 2zm0 2zm0 2zm0 2zm0 2zm0 2zm0 2zm0 2zm0 2zm0 2zm0 4zm3-55zm0 2zm0 2zm0 2zm0 2zm0 2zm0 2zm0 2zm0 2zm0 2zm0 2zm0 2zm0 2zm0 2zm0 2zm0 2zm0 2zm0 2zm0 2zm0 2zm0 2zm0 2zm0 2zm0 2zm0 4zm0 32zm3-69zm0 2zm0 2zm0 4zm0 2zm0 4zm0 2zm0 2zm0 2zm0 2zm0 2zm0 2zm0 2zm0 2zm0 2zm3-41zm0 2zm0 2zm0 2zm0 2zm0 2zm0 2zm0 2zm0 2zm0 2zm0 2zm0 2zm0 2zm0 2zm0 14zm3-39zm0 2zm0 2zm0 2zm0 2zm0 2zm0 2zm0 2zm0 2zm0 2zm0 2zm0 2zm0 2zm0 2zm0 2zm0 4zm0 2zm0 2zm0 4zm3-41zm0 2zm0 4zm0 2zm0 2zm0 2zm0 2zm0 2zm0 2zm0 2zm0 2zm0 2zm0 2zm0 2zm0 2zm0 2zm0 2zm0 2zm0 2zm0 2zm0 2zm0 2zm0 36zm0 8zm3-89zm0 2zm0 2zm0 2zm0 2zm0 2zm0 2zm0 2zm0 2zm0 2zm0 2zm0 2zm0 2zm0 2zm0 2zm0 2zm0 4zm0 2zm0 2zm0 4zm3-41zm0 2zm0 4zm0 2zm0 2zm0 2zm0 2zm0 2zm0 2zm0 2zm0 2zm0 2zm0 2zm3-27zm0 8zm0 2zm0 2zm0 2zm0 2zm0 2zm0 2zm0 2zm0 2zm3-23zm0 2zm0 2zm0 2zm0 2zm0 2zm0 2zm0 2zm0 2zm0 2zm0 2zm0 2zm0 2zm0 2zm0 2zm0 12zm0 4zm3-45zm0 2zm0 4zm0 4zm0 2zm0 2zm0 2zm0 2zm0 4zm0 2zm0 2zm3-25zm0 2zm0 2zm0 2zm0 2zm0 2zm0 2zm0 4zm0 2zm0 2zm0 2zm0 2zm0 16zm3-35zm0 2zm0 2zm0 2zm0 2zm0 2zm0 2zm0 2zm0 2zm0 2zm0 2zm3-21zm0 2zm0 2zm0 2zm0 2zm0 2zm0 2zm0 2zm0 2zm0 2zm0 2zm0 10zm3-35zm0 2zm0 4zm0 2zm0 2zm0 2zm0 2zm0 2zm0 2zm0 2zm0 2zm0 2zm0 2zm0 2zm0 2zm3-17zm0 2zm0 2zm0 4zm0 4zm0 2zm0 4zm0 4zm0 2zm0 2zm0 2zm0 2zm0 4zm0 6zm3-63zm0 2zm0 2zm0 4zm0 30zm0 8zm0 2zm0 14zm0 36zm3-75zm0 2zm0 2zm0 4zm0 4zm0 2zm0 4zm0 4zm0 4zm0 2zm0 2zm0 14zm3-59zm0 2zm0 2zm0 2zm0 2zm0 4zm0 2zm0 4zm0 2zm0 2zm0 2zm0 2zm0 2zm0 2zm0 2zm0 2zm0 2zm0 2zm0 2zm0 2zm0 4zm3-45zm0 4zm0 2zm0 2zm0 2zm0 2zm0 2zm0 2zm0 2zm0 4zm0 2zm0 2zm3-35zm0 2zm0 2zm0 4zm0 2zm0 2zm0 2zm0 2zm0 6zm0 6zm0 6zm3-19zm0 2zm0 2zm0 2zm0 2zm0 2zm0 2zm0 2zm0 2zm0 2zm0 2zm0 2zm0 2zm0 2zm0 2zm3-35zm0 2zm0 2zm0 2zm0 2zm0 2zm0 2zm0 2zm0 2zm0 2zm0 2zm0 2zm0 4zm0 2zm0 2zm0 4zm0 2zm0 18zm0 36zm3-91zm0 2zm0 2zm0 2zm0 2zm0 2zm0 2zm0 2zm0 2zm0 2zm0 2zm0 2zm0 2zm0 2zm0 2zm0 2zm0 2zm0 2zm0 2zm3-35zm0 2zm0 2zm0 2zm0 2zm0 2zm0 2zm0 2zm0 2zm0 2zm0 2zm0 2zm0 2zm0 2zm0 2zm0 2zm0 2zm0 2zm0 2zm0 2zm0 4zm0 4zm0 22zm3-69zm0 2zm0 2zm0 2zm0 2zm0 2zm0 2zm0 2zm0 2zm0 2zm0 2zm0 2zm0 2zm0 2zm0 2zm0 2zm0 2zm0 2zm0 2zm0 2zm0 2zm3-47zm0 2zm0 2zm0 4zm0 2zm0 2zm0 2zm0 4zm0 12zm0 2zm0 2zm0 4zm0 2zm0 2zm0 2zm0 6zm0 4zm0 8zm3-47zm0 2zm0 6zm0 4zm0 4zm0 2zm0 2zm0 2zm0 2zm0 2zm0 2zm0 2zm0 2zm3-31zm0 2zm0 2zm0 2zm0 2zm0 2zm0 2zm0 2zm0 2zm0 2zm0 2zm0 2zm0 2zm0 2zm0 2zm0 2zm0 4zm0 4zm3-39zm0 2zm0 4zm0 2zm0 2zm0 2zm0 2zm0 2zm0 2zm0 2zm0 2zm0 2zm0 2zm0 2zm0 2zm0 2zm3-47zm0 2zm0 2zm0 26zm0 2zm0 2zm0 2zm0 2zm0 2zm0 2zm0 2zm0 6zm0 4zm0 44zm3-55zm0 2zm0 2zm0 6zm3 45zm3-99zm0 2zm0 2zm0 6zm0 2zm0 2zm0 2zm0 2zm0 2zm0 2zm3-21zm0 4zm15-5zm0 2zm0 2zm0 30zm0 2zm0 2zm0 2zm0 4zm0 2zm12-46zm0 2zm0 2zm15-3zm0 4zm6 6zm0 2zm0 2zm0 2zm0 2zm0 2zm9-11zm0 2zm0 2zm0 2zm0 2zm0 2zm0 2z"/>
<path vector-effect="non-scaling-stroke" d="M-167 14zm0 2zm0 2zm0 2zm3-9zm0 2zm0 2zm0 2zm0 2zm0 2zm9-7zm0 2zm0 2zm0 2zm0 2zm0 54zm6-56zm0 2zm3-3zm0 2zm3-7zm0 2zm0 2zm0 2zm0 2zm3-11zm0 2zm0 2zm0 4zm0 2zm3-7zm0 4zm0 2zm0 2zm3-11zm0 2zm0 2zm0 4zm0 2zm3-7zm0 2zm0 2zm0 2zm0 2zm3-11zm0 2zm0 2zm0 2zm0 2zm0 2zm0 2zm0 4zm0 2zm0 2zm0 2zm0 2zm6-24zm0 2zm0 2zm0 2zm0 2zm0 2zm3-7zm0 2zm0 2zm0 2zm0 2zm0 2zm0 4zm0 2zm0 2zm0 2zm0 2zm0 8zm9-33zm0 2zm0 2zm0 4zm0 2zm6-4zm0 4zm0 4zm0 2zm0 2zm0 4zm0 4zm3-27zm0 2zm0 2zm0 4zm0 2zm0 2zm0 2zm0 2zm0 2zm0 2zm0 2zm0 2zm0 2zm0 2zm0 4zm3-31zm0 2zm0 2zm0 2zm0 2zm0 2zm0 2zm0 2zm0 2zm0 2zm0 2zm0 2zm0 2zm0 2zm0 2zm0 2zm0 2zm0 2zm3-37zm0 2zm0 2zm0 2zm0 2zm0 2zm0 2zm0 2zm0 2zm0 2zm0 2zm0 2zm0 2zm0 2zm0 2zm0 2zm0 2zm0 2zm0 2zm3-33zm0 2zm0 2zm0 2zm0 2zm0 2zm0 2zm0 2zm0 2zm0 2zm0 2zm0 2zm0 2zm0 2zm0 2zm0 2zm0 2zm0 2zm3-37zm0 2zm0 2zm0 2zm0 2zm0 2zm0 2zm0 2zm0 2zm0 2zm0 2zm0 2zm0 2zm0 2zm0 2zm0 2zm0 2zm0 2zm0 2zm0 20zm0 2zm3-55zm0 2zm0 2zm0 2zm0 2zm0 2zm0 2zm0 2zm0 2zm0 2zm0 2zm0 2zm0 2zm0 2zm0 2zm0 2zm0 2zm0 2zm3-37zm0 2zm0 2zm0 2zm0 2zm0 2zm0 2zm0 2zm0 2zm0 2zm0 2zm0 2zm0 2zm0 2zm0 2zm0 2zm0 2zm0 2zm0 2zm3-33zm0 2zm0 2zm0 2zm0 2zm0 2zm0 2zm0 2zm0 2zm0 2zm0 2zm0 2zm0 2zm0 2zm0 2zm0 2zm0 2zm0 2zm3-33zm0 2zm0 2zm0 2zm0 2zm0 2zm0 2zm0 2zm0 2zm0 2zm0 2zm0 2zm0 2zm0 2zm0 2zm0 2zm0 2zm3-35zm0 2zm0 2zm0 2zm0 2zm0 2zm0 2zm0 2zm0 2zm0 2zm0 2zm0 2zm0 2zm0 2zm0 2zm0 2zm0 2zm0 2zm0 2zm3-35zm0 2zm0 2zm0 2zm0 2zm0 2zm0 2zm0 2zm0 2zm0 2zm0 2zm0 2zm0 2zm0 2zm0 2zm0 2zm0 2zm0 2zm3-33zm0 2zm0 2zm0 2zm0 2zm0 2zm0 2zm0 2zm0 2zm0 2zm0 2zm0 2zm0 2zm0 2zm0 2zm0 2zm0 2zm0 2zm3-33zm0 2zm0 2zm0 2zm0 2zm0 2zm0 2zm0 2zm0 2zm0 2zm0 2zm0 2zm0 2zm0 2zm0 2zm0 2zm0 2zm3-33zm0 2zm0 2zm0 2zm0 2zm0 2zm0 2zm0 2zm0 2zm0 2zm0 2zm0 2zm0 2zm0 2zm0 2zm0 2zm0 2zm0 2zm0 6zm0 8zm0 4zm3-55zm0 2zm0 2zm0 2zm0 2zm0 2zm0 2zm0 2zm0 2zm0 2zm0 2zm0 2zm0 2zm0 2zm0 2zm0 2zm0 2zm0 2zm0 2zm0 2zm0 4zm0 6zm3-45zm0 2zm0 2zm0 2zm0 2zm0 2zm0 2zm0 2zm0 2zm0 2zm0 2zm0 2zm0 2zm0 2zm0 2zm0 2zm0 2zm0 2zm0 2zm0 4zm0 4zm3-47zm0 2zm0 2zm0 2zm0 2zm0 2zm0 2zm0 2zm0 2zm0 2zm0 2zm0 2zm0 2zm0 2zm0 2zm0 2zm0 2zm0 2zm0 2zm0 2zm0 2zm0 2zm3-39zm0 2zm0 2zm0 2zm0 2zm0 2zm0 2zm0 2zm0 2zm0 2zm0 2zm0 2zm0 2zm0 2zm0 2zm0 2zm0 2zm0 2zm0 2zm0 2zm0 2zm0 6zm0 6zm0 4zm0 2zm0 4zm0 6zm3-71zm0 2zm0 2zm0 2zm0 2zm0 2zm0 2zm0 2zm0 2zm0 2zm0 2zm0 2zm0 2zm0 2zm0 2zm0 2zm0 2zm0 2zm0 2zm0 2zm0 2zm0 2zm3-39zm0 2zm0 2zm0 2zm0 2zm0 2zm0 2zm0 2zm0 2zm0 2zm0 2zm0 2zm0 2zm0 2zm0 2zm0 2zm0 2zm0 2zm3-37zm0 2zm0 2zm0 2zm0 2zm0 2zm0 2zm0 2zm0 2zm0 2zm0 2zm0 2zm0 2zm0 2zm0 2zm0 2zm0 2zm0 2zm0 2zm0 2zm0 2zm0 2zm3-39zm0 2zm0 2zm0 2zm0 2zm0 2zm0 2zm0 2zm0 2zm0 2zm0 2zm0 2zm0 2zm0 2zm0 2zm0 2zm0 2zm0 2zm0 2zm0 2zm0 2zm0 4zm0 2zm0 2zm0 4zm0 4zm3-55zm0 2zm0 2zm0 2zm0 2zm0 2zm0 2zm0 2zm0 2zm0 2zm0 2zm0 2zm0 2zm0 2zm0 2zm0 2zm0 2zm0 2zm0 2zm0 2zm0 2zm0 2zm0 2zm0 2zm0 2zm0 2zm0 4zm0 4zm3-59zm0 2zm0 2zm0 2zm0 2zm0 2zm0 2zm0 2zm0 2zm0 2zm0 2zm0 2zm0 2zm0 2zm0 2zm0 2zm0 2zm0 2zm0 2zm0 2zm0 2zm0 4zm0 2zm0 4zm0 4zm0 8zm0 20zm3-85zm0 2zm0 2zm0 2zm0 2zm0 2zm0 2zm0 2zm0 2zm0 2zm0 2zm0 2zm0 2zm0 2zm0 2zm0 2zm0 2zm0 2zm0 2zm0 2zm0 2zm0 2zm0 14zm0 2zm0 14zm0 2zm0 2zm0 4zm0 2zm0 2zm0 4zm0 6zm0 4zm3-95zm0 2zm0 2zm0 2zm0 2zm0 2zm0 2zm0 2zm0 2zm0 2zm0 2zm0 2zm0 2zm0 2zm0 2zm0 2zm0 2zm0 2zm0 2zm0 2zm0 2zm0 4zm0 2zm0 2zm0 2zm0 4zm0 2zm0 6zm3-65zm0 2zm0 2zm0 2zm0 2zm0 2zm0 2zm0 2zm0 2zm0 2zm0 2zm0 2zm0 2zm0 2zm0 2zm0 2zm0 2zm0 2zm0 2zm0 2zm0 2zm0 2zm0 2zm0 2zm0 2zm0 2zm0 2zm0 2zm0 4zm0 2zm0 4zm0 8zm0 2zm0 2zm0 4zm0 2zm0 2zm0 4zm0 6zm0 4zm3-95zm0 2zm0 2zm0 2zm0 2zm0 2zm0 2zm0 2zm0 2zm0 2zm0 2zm0 2zm0 2zm0 2zm0 2zm0 2zm0 2zm0 2zm0 2zm0 2zm0 2zm0 6zm0 2zm0 2zm0 4zm0 2zm0 6zm3-61zm0 2zm0 2zm0 2zm0 2zm0 2zm0 2zm0 2zm0 2zm0 2zm0 2zm0 2zm0 2zm0 2zm0 2zm0 2zm0 2zm0 2zm0 2zm0 2zm0 2zm0 2zm0 2zm0 2zm0 2zm0 2zm0 4zm0 14zm0 2zm0 2zm0 4zm0 2zm0 2zm0 4zm0 6zm0 4zm3-85zm0 2zm0 2zm0 2zm0 2zm0 2zm0 2zm0 2zm0 2zm0 2zm0 2zm0 2zm0 4zm0 2zm0 4zm0 2zm0 2zm0 2zm0 2zm3-39zm0 2zm0 2zm0 2zm0 2zm0 2zm0 2zm0 2zm0 2zm0 2zm0 2zm0 2zm0 2zm0 2zm0 2zm0 2zm0 4zm3-41zm0 2zm0 8zm0 2zm0 2zm0 2zm0 2zm0 8zm0 2zm0 2zm0 2zm0 2zm0 2zm0 2zm0 2zm0 2zm0 2zm3-45zm0 4zm0 2zm0 2zm0 2zm0 2zm0 2zm0 2zm0 2zm0 2zm0 2zm0 2zm0 2zm0 2zm0 2zm0 2zm0 2zm0 2zm0 2zm0 2zm0 2zm0 24zm0 18zm3-83zm0 2zm0 4zm0 2zm0 2zm0 2zm0 2zm0 2zm0 2zm0 2zm0 2zm0 2zm0 2zm0 2zm0 4zm0 8zm0 24zm3-65zm0 2zm0 2zm0 2zm0 2zm0 2zm0 2zm0 2zm0 2zm0 2zm0 2zm0 2zm0 2zm0 2zm0 4zm0 6zm0 6zm3-39zm0 4zm0 2zm0 2zm0 2zm0 4zm0 2zm0 2zm0 2zm0 2zm0 2zm3-27zm0 2zm0 2zm0 2zm0 2zm0 2zm0 2zm0 2zm0 2zm0 2zm0 2zm0 2zm0 2zm0 2zm0 4zm0 8zm0 10zm3-45zm0 2zm0 2zm0 2zm0 2zm0 2zm0 2zm0 2zm0 2zm0 2zm0 2zm0 2zm3-25zm0 2zm0 2zm0 2zm0 4zm0 2zm0 2zm0 2zm0 2zm3-17zm0 2zm0 2zm0 2zm0 2zm0 2zm0 2zm0 2zm0 2zm0 2zm0 2zm0 2zm0 2zm0 4zm0 16zm3-35zm0 6zm0 2zm0 2zm0 2zm0 2zm0 2zm3-21zm0 2zm0 2zm0 2zm0 6zm0 2zm0 4zm0 2zm0 10zm0 6zm0 24zm3-55zm0 4zm0 4zm0 2zm0 2zm0 2zm0 2zm0 8zm3-27zm0 6zm0 2zm0 2zm0 4zm0 4zm0 2zm0 2zm0 2zm0 2zm0 2zm0 4zm0 4zm3-43zm0 2zm0 2zm0 2zm0 4zm0 6zm0 2zm0 2zm0 2zm0 2zm0 2zm0 2zm0 2zm0 2zm0 2zm0 2zm0 2zm0 6zm0 2zm0 6zm6-54zm0 2zm0 2zm0 2zm0 2zm0 4zm0 2zm0 2zm0 2zm0 2zm0 2zm0 4zm0 2zm0 2zm0 6zm0 2zm3-39zm0 4zm0 2zm0 4zm0 4zm0 2zm0 2zm0 2zm0 4zm0 2zm0 2zm3-35zm0 2zm0 2zm0 4zm0 2zm0 2zm0 2zm0 2zm0 2zm0 2zm0 2zm0 2zm0 2zm0 2zm0 6zm0 2zm0 8zm3-37zm0 2zm0 8zm0 2zm0 2zm0 2zm0 2zm0 8zm3-25zm0 2zm0 2zm0 2zm0 2zm0 6zm0 6zm0 2zm0 4zm0 24zm0 2zm0 2zm0 14zm0 22zm3-91zm0 2zm0 2zm0 2zm0 2zm0 2zm0 2zm0 2zm0 2zm0 2zm0 2zm0 2zm0 2zm0 2zm0 2zm0 2zm0 2zm0 2zm0 2zm0 2zm0 14zm3-51zm0 2zm0 2zm0 2zm0 2zm0 2zm0 2zm0 2zm0 2zm0 2zm0 2zm0 2zm0 2zm0 2zm0 2zm0 2zm0 2zm0 2zm0 2zm0 2zm0 4zm0 4zm0 8zm3-55zm0 2zm0 2zm0 2zm0 2zm0 2zm0 2zm0 2zm0 2zm0 2zm0 2zm0 2zm0 2zm0 2zm0 2zm0 2zm0 2zm0 2zm0 2zm0 2zm0 2zm3-39zm0 2zm0 2zm0 2zm0 2zm0 2zm0 4zm0 6zm0 2zm0 2zm0 2zm0 4zm0 2zm0 2zm0 2zm0 6zm0 4zm3-43zm0 4zm0 2zm0 2zm0 2zm0 2zm0 2zm0 2zm0 2zm0 2zm0 2zm0 2zm0 2zm0 2zm0 2zm0 2zm0 2zm0 2zm0 12zm3-43zm0 2zm0 2zm0 2zm0 4zm0 2zm0 2zm0 2zm0 2zm0 2zm0 2zm0 2zm0 2zm0 2zm0 2zm0 4zm0 4zm3-43zm0 4zm0 2zm0 4zm0 2zm0 2zm0 2zm0 2zm0 2zm0 2zm0 2zm0 2zm0 2zm0 2zm0 2zm0 2zm3-45zm0 2zm0 2zm0 12zm0 4zm0 2zm0 4zm0 2zm0 6zm0 2zm0 4zm0 2zm0 34zm9-33zm0 8zm0 4zm3-55zm0 4zm3-5zm0 2zm0 2zm3 73zm3-67zm0 2zm0 2zm0 2zm0 2zm0 2zm0 2zm6 12zm0 2zm0 2zm0 2zm0 4zm0 2zm12-46zm0 2zm0 2zm3-3zm0 4zm0 6zm0 2zm0 2zm0 2zm0 2zm0 2zm6-20zm0 4zm6-4zm0 4z"/>
<path vector-effect="non-scaling-stroke" d="M-169 11zm0 2zm0 2zm0 2zm0 2zm0 2zm3-7zm0 2zm0 2zm0 2zm9-9zm0 2zm0 2zm0 2zm0 2zm0 2zm3-7zm0 4zm0 2zm0 2zm3-3zm0 2zm3-1zm0 2zm3-3zm0 2zm3-7zm0 2zm0 2zm0 2zm0 2zm0 2zm0 4zm0 2zm0 2zm0 2zm0 2zm0 8zm0 32zm3-65zm0 2zm0 2zm0 2zm0 2zm0 2zm3-7zm0 4zm0 2zm0 2zm3-11zm0 2zm0 2zm0 2zm0 2zm0 2zm0 2zm0 4zm0 2zm0 2zm0 2zm0 2zm3-21zm0 4zm0 2zm0 2zm0 2zm0 4zm0 2zm0 2zm0 2zm0 2zm0 8zm9-33zm0 2zm0 2zm0 4zm0 2zm0 2zm0 4zm0 2zm0 2zm0 2zm0 2zm3-21zm0 4zm0 2zm0 2zm6-8zm0 4zm0 2zm0 2zm0 22zm3-33zm0 2zm0 2zm0 4zm0 2zm6-4zm0 4zm0 4zm0 2zm0 2zm0 4zm0 4zm3-27zm0 2zm0 2zm0 2zm0 2zm0 2zm0 2zm0 2zm0 4zm0 2zm0 2zm0 2zm0 2zm0 2zm0 2zm0 2zm0 2zm3-31zm0 2zm0 2zm0 2zm0 2zm0 2zm0 2zm0 2zm0 2zm0 2zm0 2zm0 2zm0 2zm0 2zm0 2zm0 2zm0 2zm3-37zm0 2zm0 2zm0 2zm0 2zm0 2zm0 2zm0 2zm0 2zm0 2zm0 2zm0 2zm0 2zm0 2zm0 2zm0 2zm0 2zm0 2zm0 2zm3-35zm0 2zm0 2zm0 2zm0 2zm0 2zm0 2zm0 2zm0 2zm0 2zm0 2zm0 2zm0 2zm0 2zm0 2zm0 2zm0 2zm0 2zm0 2zm3-37zm0 2zm0 2zm0 2zm0 2zm0 2zm0 2zm0 2zm0 2zm0 2zm0 2zm0 2zm0 2zm0 2zm0 2zm0 2zm0 2zm0 2zm0 2zm0 20zm0 2zm3-55zm0 2zm0 2zm0 2zm0 2zm0 2zm0 2zm0 2zm0 2zm0 2zm0 2zm0 2zm0 2zm0 2zm0 2zm0 2zm0 2zm0 2zm3-37zm0 2zm0 2zm0 2zm0 2zm0 2zm0 2zm0 2zm0 2zm0 2zm0 2zm0 2zm0 2zm0 2zm0 2zm0 2zm0 2zm0 2zm0 2zm3-33zm0 2zm0 2zm0 2zm0 2zm0 2zm0 2zm0 2zm0 2zm0 2zm0 2zm0 2zm0 2zm0 2zm0 2zm0 2zm0 2zm0 2zm3-37zm0 2zm0 2zm0 2zm0 2zm0 2zm0 2zm0 2zm0 2zm0 2zm0 2zm0 2zm0 2zm0 2zm0 2zm0 2zm0 2zm0 2zm0 2zm3-33zm0 2zm0 2zm0 2zm0 2zm0 2zm0 2zm0 2zm0 2zm0 2zm0 2zm0 2zm0 2zm0 2zm0 2zm0 2zm0 2zm0 2zm3-33zm0 2zm0 2zm0 2zm0 2zm0 2zm0 2zm0 2zm0 2zm0 2zm0 2zm0 2zm0 2zm0 2zm0 2zm0 2zm0 2zm3-35zm0 2zm0 2zm0 2zm0 2zm0 2zm0 2zm0 2zm0 2zm0 2zm0 2zm0 2zm0 2zm0 2zm0 2zm0 2zm0 2zm0 2zm0 2zm0 2zm0 2zm0 6zm0 2zm3-49zm0 2zm0 2zm0 2zm0 2zm0 2zm0 2zm0 2zm0 2zm0 2zm0 2zm0 2zm0 2zm0 2zm0 2zm0 2zm0 2zm0 2zm0 2zm0 4zm3-37zm0 2zm0 2zm0 2zm0 2zm0 2zm0 2zm0 2zm0 2zm0 2zm0 2zm0 2zm0 2zm0 2zm0 2zm0 2zm0 2zm0 2zm3-37zm0 2zm0 2zm0 2zm0 2zm0 2zm0 2zm0 2zm0 2zm0 2zm0 2zm0 2zm0 2zm0 2zm0 2zm0 2zm0 2zm0 2zm0 2zm0 2zm0 2zm0 2zm0 4zm0 2zm0 6zm0 6zm0 4zm3-61zm0 2zm0 2zm0 2zm0 2zm0 2zm0 2zm0 2zm0 2zm0 2zm0 2zm0 2zm0 2zm0 2zm0 2zm0 2zm0 2zm0 2zm0 2zm0 2zm0 2zm0 4zm3-47zm0 4zm0 2zm0 2zm0 2zm0 2zm0 2zm0 2zm0 2zm0 2zm0 2zm0 2zm0 2zm0 2zm0 2zm0 2zm0 2zm0 2zm3-33zm0 2zm0 2zm0 2zm0 2zm0 2zm0 2zm0 2zm0 2zm0 2zm0 2zm0 2zm0 2zm0 2zm0 2zm0 2zm0 2zm0 2zm0 2zm0 2zm0 2zm3-43zm0 4zm0 2zm0 2zm0 2zm0 2zm0 2zm0 2zm0 2zm0 2zm0 2zm0 2zm0 2zm0 2zm0 2zm0 2zm0 2zm0 2zm0 4zm3-37zm0 2zm0 2zm0 2zm0 2zm0 2zm0 2zm0 2zm0 2zm0 2zm0 2zm0 2zm0 2zm0 2zm0 2zm0 2zm0 2zm0 2zm0 2zm0 2zm0 2zm3-41zm0 2zm0 2zm0 2zm0 2zm0 2zm0 2zm0 2zm0 2zm0 2zm0 2zm0 2zm0 2zm0 2zm0 2zm0 2zm0 2zm0 2zm0 2zm0 2zm0 2zm0 6zm0 2zm0 2zm0 6zm0 2zm3-59zm0 2zm0 2zm0 2zm0 2zm0 2zm0 2zm0 2zm0 2zm0 2zm0 2zm0 2zm0 2zm0 2zm0 2zm0 2zm0 2zm0 2zm0 2zm0 2zm0 2zm0 2zm0 6zm0 2zm0 14zm3-65zm0 2zm0 2zm0 2zm0 2zm0 2zm0 2zm0 2zm0 2zm0 2zm0 2zm0 2zm0 2zm0 2zm0 2zm0 2zm0 2zm0 2zm0 2zm0 2zm0 2zm0 2zm3-39zm0 2zm0 2zm0 2zm0 2zm0 2zm0 2zm0 2zm0 2zm0 2zm0 2zm0 2zm0 2zm0 2zm0 2zm0 2zm0 2zm0 2zm0 2zm0 2zm0 2zm0 4zm0 2zm0 2zm0 2zm0 12zm3-61zm0 2zm0 2zm0 2zm0 2zm0 2zm0 2zm0 2zm0 2zm0 2zm0 2zm0 2zm0 2zm0 2zm0 2zm0 2zm0 2zm0 2zm0 2zm0 2zm0 4zm0 2zm0 2zm0 2zm0 2zm0 4zm0 4zm3-59zm0 2zm0 2zm0 2zm0 2zm0 2zm0 2zm0 2zm0 2zm0 2zm0 2zm0 2zm0 2zm0 2zm0 2zm0 2zm0 2zm0 2zm0 2zm0 2zm0 2zm0 4zm0 2zm0 2zm0 2zm0 6zm0 6zm3-65zm0 4zm0 2zm0 2zm0 2zm0 2zm0 2zm0 2zm0 2zm0 2zm0 2zm0 2zm0 2zm0 2zm0 2zm0 2zm0 2zm0 2zm0 14zm0 2zm0 2zm0 2zm0 2zm0 2zm0 2zm3-59zm0 2zm0 2zm0 2zm0 2zm0 2zm0 2zm0 2zm0 2zm0 2zm0 2zm0 2zm0 2zm0 2zm0 2zm0 2zm0 2zm0 2zm0 2zm0 2zm0 2zm0 4zm0 2zm0 2zm0 2zm0 4zm0 8zm3-61zm0 2zm0 2zm0 2zm0 2zm0 2zm0 2zm0 2zm0 2zm0 2zm0 2zm0 2zm0 2zm0 2zm0 2zm0 2zm0 2zm0 2zm0 2zm0 2zm0 2zm0 4zm0 2zm0 2zm3-43zm0 4zm0 2zm0 2zm0 2zm0 2zm0 2zm0 2zm0 2zm0 2zm0 2zm0 2zm0 2zm0 4zm0 2zm0 2zm0 2zm0 2zm0 2zm3-37zm0 2zm0 2zm0 2zm0 2zm0 2zm0 2zm0 2zm0 2zm0 2zm0 2zm0 2zm0 2zm0 4zm0 2zm0 2zm0 2zm0 2zm3-41zm0 6zm0 2zm0 2zm0 2zm0 4zm0 4zm0 2zm3-17zm0 2zm0 2zm0 2zm0 2zm0 2zm0 2zm0 2zm0 2zm0 2zm0 2zm0 4zm0 8zm0 2zm0 2zm0 22zm0 2zm0 18zm3-83zm0 2zm0 2zm0 2zm0 2zm0 2zm0 2zm0 2zm0 2zm0 2zm0 2zm0 2zm0 2zm0 4zm0 4zm0 2zm0 4zm0 2zm3-41zm0 2zm0 2zm0 2zm0 2zm0 2zm0 2zm0 2zm0 2zm0 2zm0 2zm0 2zm0 2zm0 2zm0 2zm0 2zm0 8zm3-37zm0 2zm0 2zm0 2zm0 2zm0 2zm0 2zm0 2zm0 2zm0 2zm0 2zm0 2zm0 2zm0 2zm0 2zm0 4zm0 2zm0 8zm0 2zm0 20zm3-65zm0 2zm0 2zm0 2zm0 2zm0 2zm0 2zm0 2zm0 2zm0 2zm0 2zm0 2zm0 2zm0 2zm0 4zm3-29zm0 2zm0 4zm0 2zm0 2zm0 2zm0 4zm0 2zm0 4zm3-23zm0 2zm0 2zm0 2zm0 2zm0 2zm0 2zm0 2zm0 2zm0 2zm0 2zm0 2zm0 2zm0 2zm0 4zm0 8zm0 10zm3-43zm0 2zm0 2zm0 2zm0 6zm0 2zm0 4zm0 2zm3-19zm0 4zm0 2zm0 2zm0 4zm0 4zm0 2zm0 2zm3-21zm0 2zm0 2zm0 2zm0 6zm0 2zm0 4zm0 2zm3-7zm0 4zm0 6zm0 2zm0 4zm0 2zm0 2zm0 12zm3-43zm0 10zm0 4zm0 6zm0 6zm0 2zm0 4zm0 2zm0 2zm0 10zm3-35zm0 2zm0 2zm0 4zm0 2zm0 2zm0 2zm0 2zm0 2zm0 2zm0 6zm0 2zm0 4zm3-43zm0 10zm0 4zm0 6zm0 6zm0 2zm0 4zm0 2zm0 12zm3-63zm0 2zm0 2zm0 4zm0 2zm0 2zm0 2zm0 2zm0 6zm0 6zm0 6zm3-27zm0 2zm0 2zm0 2zm0 2zm0 2zm0 2zm0 2zm0 2zm0 2zm0 2zm0 2zm0 2zm0 2zm0 2zm0 2zm0 4zm3-41zm0 2zm0 2zm0 4zm0 4zm0 2zm0 2zm0 6zm0 6zm0 6zm3-27zm0 2zm0 2zm0 4zm0 2zm0 4zm0 2zm0 2zm0 2zm0 2zm0 4zm0 2zm3-27zm0 2zm0 2zm0 2zm0 2zm0 2zm0 2zm0 2zm0 2zm0 2zm0 2zm0 6zm0 2zm0 2zm0 6zm3-37zm0 4zm0 2zm0 4zm0 4zm0 2zm0 2zm0 2zm0 2zm0 2zm0 2zm0 2zm0 2zm0 2zm0 4zm0 2zm3-37zm0 4zm0 2zm0 2zm0 2zm0 2zm0 2zm0 2zm0 2zm0 2zm0 2zm0 2zm0 2zm0 2zm0 2zm0 2zm0 2zm0 2zm0 2zm0 52zm3-85zm0 4zm0 2zm0 2zm0 2zm0 2zm0 2zm0 2zm0 2zm0 2zm0 2zm0 2zm0 2zm0 2zm0 2zm0 2zm3-45zm0 2zm0 2zm0 4zm0 2zm0 2zm0 2zm0 2zm0 2zm0 2zm0 2zm0 4zm0 2zm0 2zm0 2zm0 2zm0 2zm0 2zm0 2zm0 2zm0 2zm0 18zm3-45zm0 4zm0 2zm0 2zm0 2zm0 4zm0 2zm0 2zm0 2zm0 2zm0 2zm0 2zm0 2zm3-45zm0 2zm0 2zm0 4zm0 2zm0 2zm0 2zm0 2zm0 2zm0 2zm0 2zm0 4zm0 2zm0 2zm0 2zm0 2zm0 2zm0 2zm0 2zm0 2zm0 2zm0 2zm3-39zm0 4zm0 4zm0 2zm0 6zm0 4zm0 2zm0 4zm0 2zm0 2zm0 4zm0 2zm0 2zm0 2zm3-47zm0 2zm0 2zm0 12zm0 4zm0 2zm0 4zm0 2zm0 2zm0 2zm0 2zm0 2zm0 2zm0 2zm0 2zm0 2zm0 10zm12-54zm0 4zm3 39zm0 2zm0 2zm0 8zm0 2zm6-58zm0 2zm0 2zm3 7zm0 2zm0 2zm0 2zm0 2zm0 2zm9 13zm0 2zm0 2zm0 2zm0 4zm0 2zm15-45zm0 4zm12 6zm0 2zm0 2zm0 2zm0 2zm0 2zm12-10zm0 2zm0 2zm0 2zm0 2zm0 2z"/>
<path vector-effect="non-scaling-stroke" d="M-168 11zm0 2zm0 2zm0 2zm0 2zm0 2zm3-7zm0 2zm0 2zm0 2zm9-9zm0 2zm0 2zm0 4zm0 2zm3-7zm0 2zm0 2zm0 2zm0 2zm0 54zm3-57zm0 2zm3-1zm0 2zm3-3zm0 2zm3-7zm0 2zm0 2zm0 2zm0 2zm0 54zm6-62zm0 2zm0 2zm0 2zm0 2zm0 2zm0 4zm0 2zm0 2zm0 2zm0 2zm0 40zm3-65zm0 2zm0 2zm0 2zm0 2zm0 2zm12-10zm0 2zm0 2zm0 2zm0 2zm0 2zm0 2zm0 4zm0 2zm0 2zm0 2zm0 2zm3-21zm0 4zm0 2zm0 2zm3-11zm0 2zm0 2zm0 2zm0 2zm0 2zm3-7zm0 4zm0 2zm0 2zm0 22zm0 32zm3-65zm0 2zm0 2zm0 2zm0 2zm0 2zm6-8zm0 2zm0 4zm0 2zm0 2zm0 2zm0 2zm0 2zm0 2zm0 2zm0 2zm0 2zm0 2zm3-29zm0 2zm0 2zm0 2zm0 2zm0 2zm0 2zm0 2zm0 2zm0 2zm0 2zm0 2zm0 2zm0 2zm0 2zm0 2zm0 2zm0 2zm3-35zm0 2zm0 2zm0 2zm0 2zm0 2zm0 2zm0 2zm0 2zm0 2zm0 2zm0 2zm0 2zm0 2zm0 2zm0 2zm0 2zm0 2zm0 2zm3-37zm0 2zm0 2zm0 2zm0 2zm0 2zm0 2zm0 2zm0 2zm0 2zm0 2zm0 2zm0 2zm0 2zm0 2zm0 2zm0 2zm0 2zm0 2zm3-35zm0 2zm0 2zm0 2zm0 2zm0 2zm0 2zm0 2zm0 2zm0 2zm0 2zm0 2zm0 2zm0 2zm0 2zm0 2zm0 2zm0 2zm0 2zm3-37zm0 2zm0 2zm0 2zm0 2zm0 2zm0 2zm0 2zm0 2zm0 2zm0 2zm0 2zm0 2zm0 2zm0 2zm0 2zm0 2zm0 2zm0 2zm0 8zm3-41zm0 2zm0 2zm0 2zm0 2zm0 2zm0 2zm0 2zm0 2zm0 2zm0 2zm0 2zm0 2zm0 2zm0 2zm0 2zm0 2zm0 2zm3-37zm0 2zm0 2zm0 2zm0 2zm0 2zm0 2zm0 2zm0 2zm0 2zm0 2zm0 2zm0 2zm0 2zm0 2zm0 2zm0 2zm0 2zm0 2zm3-33zm0 2zm0 2zm0 2zm0 2zm0 2zm0 2zm0 2zm0 2zm0 2zm0 2zm0 2zm0 2zm0 2zm0 2zm0 2zm0 2zm0 2zm0 8zm3-45zm0 2zm0 2zm0 2zm0 2zm0 2zm0 2zm0 2zm0 2zm0 2zm0 2zm0 2zm0 2zm0 2zm0 2zm0 2zm0 2zm0 2zm0 2zm0 20zm0 2zm3-57zm0 2zm0 2zm0 2zm0 2zm0 2zm0 2zm0 2zm0 2zm0 2zm0 2zm0 2zm0 2zm0 2zm0 2zm0 2zm0 2zm0 2zm0 2zm3-37zm0 2zm0 2zm0 2zm0 2zm0 2zm0 2zm0 2zm0 2zm0 2zm0 2zm0 2zm0 2zm0 2zm0 2zm0 2zm0 2zm0 2zm0 2zm0 22zm0 2zm0 4zm3-63zm0 2zm0 2zm0 2zm0 2zm0 2zm0 2zm0 2zm0 2zm0 2zm0 2zm0 2zm0 2zm0 2zm0 2zm0 2zm0 2zm0 2zm0 2zm3-37zm0 2zm0 2zm0 2zm0 2zm0 2zm0 2zm0 2zm0 2zm0 2zm0 2zm0 2zm0 2zm0 2zm0 2zm0 2zm0 2zm0 2zm0 2zm0 6zm0 6zm3-45zm0 2zm0 2zm0 2zm0 2zm0 2zm0 2zm0 2zm0 2zm0 2zm0 2zm0 2zm0 2zm0 2zm0 2zm0 2zm0 2zm0 2zm0 6zm0 4zm0 4zm0 4zm3-55zm0 2zm0 2zm0 2zm0 2zm0 2zm0 2zm0 2zm0 2zm0 2zm0 2zm0 2zm0 2zm0 2zm0 2zm0 2zm0 2zm0 2zm0 2zm0 2zm0 4zm0 6zm3-45zm0 2zm0 2zm0 2zm0 2zm0 2zm0 2zm0 2zm0 2zm0 2zm0 2zm0 2zm0 2zm0 2zm0 2zm0 2zm0 2zm0 2zm0 6zm3-43zm0 2zm0 2zm0 2zm0 2zm0 2zm0 2zm0 2zm0 2zm0 2zm0 2zm0 2zm0 2zm0 2zm0 2zm0 2zm0 2zm0 2zm0 2zm0 2zm0 2zm0 2zm0 6zm3-45zm0 2zm0 2zm0 2zm0 2zm0 2zm0 2zm0 2zm0 2zm0 2zm0 2zm0 2zm0 2zm0 2zm0 2zm0 2zm0 2zm0 2zm0 2zm0 2zm0 2zm3-41zm0 2zm0 2zm0 2zm0 2zm0 2zm0 2zm0 2zm0 2zm0 2zm0 2zm0 2zm0 2zm0 2zm0 2zm0 2zm0 2zm0 2zm0 2zm0 2zm0 2zm3-41zm0 2zm0 2zm0 2zm0 2zm0 2zm0 2zm0 2zm0 2zm0 2zm0 2zm0 2zm0 2zm0 2zm0 2zm0 2zm0 2zm0 2zm0 2zm0 2zm0 2zm3-39zm0 2zm0 2zm0 2zm0 2zm0 2zm0 2zm0 2zm0 2zm0 2zm0 2zm0 2zm0 2zm0 2zm0 2zm0 2zm0 2zm0 2zm0 2zm0 2zm0 2zm0 6zm0 2zm3-49zm0 2zm0 2zm0 2zm0 2zm0 2zm0 2zm0 2zm0 2zm0 2zm0 2zm0 2zm0 2zm0 2zm0 2zm0 2zm0 2zm0 2zm0 2zm0 2zm0 2zm0 2zm0 6zm3-47zm0 2zm0 2zm0 2zm0 2zm0 2zm0 2zm0 2zm0 2zm0 2zm0 2zm0 2zm0 2zm0 2zm0 2zm0 2zm0 2zm0 2zm0 2zm0 2zm0 2zm0 2zm0 2zm0 2zm0 2zm0 2zm0 2zm0 4zm0 2zm3-57zm0 2zm0 2zm0 2zm0 2zm0 2zm0 2zm0 2zm0 2zm0 2zm0 2zm0 2zm0 2zm0 2zm0 2zm0 2zm0 2zm0 2zm0 2zm0 2zm0 2zm0 4zm0 2zm0 2zm0 2zm0 2zm0 4zm0 26zm3-83zm0 2zm0 2zm0 2zm0 2zm0 2zm0 2zm0 2zm0 2zm0 2zm0 2zm0 2zm0 2zm0 2zm0 2zm0 2zm0 2zm0 2zm0 2zm0 2zm0 2zm0 2zm0 4zm0 2zm0 2zm0 2zm0 4zm0 6zm0 8zm0 2zm0 2zm0 4zm0 2zm0 2zm0 4zm0 6zm0 4zm3-95zm0 2zm0 2zm0 2zm0 2zm0 2zm0 2zm0 2zm0 2zm0 2zm0 2zm0 2zm0 2zm0 2zm0 2zm0 2zm0 2zm0 2zm0 2zm0 2zm0 2zm0 4zm0 2zm0 2zm0 2zm0 4zm0 2zm0 6zm3-61zm0 2zm0 2zm0 2zm0 2zm0 2zm0 2zm0 2zm0 2zm0 2zm0 2zm0 2zm0 2zm0 2zm0 2zm0 2zm0 2zm0 2zm0 2zm0 2zm0 2zm0 2zm0 2zm0 2zm0 2zm0 2zm0 4zm3-55zm0 2zm0 2zm0 2zm0 2zm0 2zm0 2zm0 2zm0 2zm0 2zm0 2zm0 2zm0 2zm0 2zm0 2zm0 2zm0 2zm0 2zm0 2zm0 2zm0 6zm0 2zm0 2zm0 2zm3-49zm0 2zm0 2zm0 2zm0 2zm0 2zm0 2zm0 2zm0 2zm0 2zm0 2zm0 2zm0 2zm0 2zm0 2zm0 2zm0 2zm0 2zm0 2zm0 2zm0 2zm0 2zm0 2zm0 2zm0 2zm0 20zm0 2zm0 2zm0 4zm0 2zm0 2zm0 4zm0 6zm0 4zm3-81zm0 2zm0 2zm0 2zm0 8zm0 2zm0 2zm0 2zm0 2zm0 2zm0 2zm0 2zm0 2zm0 2zm3-43zm0 2zm0 2zm0 2zm0 2zm0 2zm0 2zm0 2zm0 2zm0 2zm0 2zm0 2zm0 2zm0 2zm0 4zm3-29zm0 2zm0 4zm0 2zm0 2zm0 2zm0 4zm0 2zm0 2zm0 2zm0 2zm0 2zm0 2zm0 4zm0 2zm0 4zm0 2zm3-41zm0 4zm0 2zm0 2zm0 2zm0 2zm0 2zm0 2zm0 2zm0 2zm0 2zm0 2zm0 2zm0 2zm0 2zm0 2zm0 2zm0 2zm0 2zm0 2zm0 2zm0 24zm0 18zm3-83zm0 2zm0 2zm0 2zm0 2zm0 2zm0 2zm0 2zm0 2zm0 2zm0 2zm0 2zm0 2zm0 4zm0 4zm0 2zm0 4zm0 2zm3-41zm0 4zm0 2zm0 2zm0 2zm0 2zm0 2zm0 2zm0 2zm0 2zm0 2zm0 2zm0 2zm0 4zm3-29zm0 2zm0 4zm0 2zm0 2zm0 2zm0 4zm0 2zm0 4zm0 2zm3-29zm0 4zm0 2zm0 4zm0 2zm0 2zm0 2zm0 2zm0 2zm0 2zm0 2zm0 2zm0 2zm0 2zm0 4zm3-29zm0 2zm0 2zm0 2zm0 2zm0 2zm0 2zm0 2zm0 2zm0 2zm0 4zm0 2zm3-25zm0 2zm0 2zm0 2zm0 2zm0 2zm0 2zm0 2zm0 2zm0 2zm0 2zm0 2zm0 2zm0 2zm3-21zm0 2zm0 2zm0 2zm0 2zm0 2zm0 2zm0 2zm0 2zm0 2zm0 2zm3-19zm0 2zm0 2zm0 2zm0 2zm0 2zm0 2zm0 2zm0 2zm0 2zm0 2zm0 12zm0 10zm3-47zm0 4zm0 2zm0 2zm0 2zm0 2zm0 2zm0 2zm0 2zm0 2zm0 2zm0 2zm0 2zm3-17zm0 8zm0 2zm0 2zm0 2zm0 2zm0 2zm0 2zm0 2zm0 2zm0 2zm0 2zm0 2zm0 4zm0 2zm0 6zm3-63zm0 2zm0 2zm0 2zm0 28zm0 4zm0 8zm3-25zm0 8zm0 2zm0 2zm0 2zm0 2zm0 2zm0 2zm0 2zm0 2zm0 2zm0 2zm0 2zm0 4zm3-43zm0 2zm0 2zm0 2zm0 4zm0 2zm0 2zm0 2zm0 4zm0 2zm0 2zm0 2zm0 2zm0 2zm0 2zm0 2zm0 4zm0 2zm0 2zm3-45zm0 2zm0 2zm0 2zm0 2zm0 2zm0 4zm0 2zm0 2zm0 2zm0 6zm3-35zm0 2zm0 2zm0 2zm0 6zm0 2zm0 2zm0 2zm0 4zm0 2zm0 2zm0 2zm0 2zm0 2zm0 2zm0 2zm3-25zm0 2zm0 2zm0 2zm0 2zm0 2zm0 2zm0 2zm0 2zm0 2zm0 6zm0 2zm0 2zm0 4zm0 2zm0 18zm3-55zm0 2zm0 2zm0 2zm0 2zm0 2zm0 2zm0 2zm0 2zm0 2zm0 2zm0 2zm0 2zm0 2zm0 2zm0 2zm0 2zm0 2zm0 2zm3-35zm0 2zm0 2zm0 2zm0 2zm0 2zm0 2zm0 2zm0 2zm0 2zm0 2zm0 2zm0 4zm0 2zm0 2zm0 4zm0 2zm3-33zm0 2zm0 2zm0 2zm0 2zm0 2zm0 2zm0 2zm0 2zm0 2zm0 2zm0 2zm0 2zm0 2zm0 2zm0 2zm0 2zm0 2zm0 2zm0 4zm0 2zm0 2zm0 8zm3-55zm0 2zm0 2zm0 2zm0 2zm0 2zm0 2zm0 2zm0 2zm0 2zm0 2zm0 2zm0 2zm0 2zm0 2zm0 2zm0 2zm0 2zm0 2zm0 2zm0 4zm0 4zm3-55zm0 2zm0 2zm0 2zm0 2zm0 2zm0 6zm0 2zm0 6zm0 4zm0 2zm0 4zm0 2zm0 2zm0 6zm0 2zm0 2zm3-31zm0 4zm0 2zm0 4zm0 2zm0 2zm0 2zm0 2zm0 2zm0 2zm0 2zm0 2zm0 2zm0 2zm0 4zm0 4zm3-39zm0 2zm0 2zm0 2zm0 2zm0 2zm0 2zm0 2zm0 2zm0 2zm0 2zm0 2zm0 2zm0 2zm0 2zm0 2zm0 2zm3-31zm0 2zm0 2zm0 2zm0 4zm0 2zm0 2zm0 2zm0 2zm0 2zm0 2zm0 2zm0 2zm0 2zm0 2zm0 4zm0 4zm3-55zm0 2zm0 2zm0 2zm0 32zm0 4zm0 2zm0 2zm0 2zm3-7zm0 2zm0 12zm0 22zm6-76zm0 4zm0 6zm0 2zm0 2zm0 2zm0 2zm0 2zm3-21zm0 2zm0 2zm3 73zm0 22zm12-98zm0 4zm0 30zm0 2zm0 2zm0 2zm0 2zm0 2zm0 2zm12-46zm0 4zm15-5zm0 2zm0 2zm6 6zm0 2zm0 2zm0 2zm0 2zm0 2zm0 2zm9-11zm0 2zm0 2zm0 2zm0 2zm0 2z"/>
<path vector-effect="non-scaling-stroke" d="M-167 11zm0 2zm0 2zm0 2zm0 2zm0 2zm3-7zm0 2zm0 2zm0 2zm9-9zm0 2zm0 2zm0 2zm0 2zm0 2zm6-2zm0 2zm3-1zm0 2zm3-11zm0 2zm0 2zm0 2zm0 2zm0 2zm3-7zm0 4zm0 2zm0 2zm3-11zm0 2zm0 2zm0 4zm0 2zm3-7zm0 4zm0 2zm0 2zm3-11zm0 2zm0 2zm0 2zm0 2zm0 2zm3-7zm0 2zm0 2zm0 2zm0 2zm0 2zm0 4zm0 2zm0 2zm0 2zm0 2zm0 8zm6-30zm0 2zm0 2zm0 2zm0 2zm3-11zm0 2zm0 2zm0 2zm0 2zm0 2zm0 2zm0 4zm0 2zm0 2zm0 2zm0 2zm3 9zm0 32zm6-62zm0 4zm0 2zm0 2zm6-10zm0 2zm0 2zm0 2zm0 4zm0 2zm0 2zm0 2zm0 4zm0 2zm0 2zm3-19zm0 4zm0 2zm0 2zm0 2zm0 2zm0 2zm0 2zm0 2zm0 2zm0 2zm0 2zm3-29zm0 4zm0 2zm0 2zm0 2zm0 2zm0 2zm0 2zm0 2zm0 2zm0 2zm0 2zm0 2zm0 2zm0 2zm0 2zm3-35zm0 2zm0 2zm0 2zm0 2zm0 2zm0 2zm0 2zm0 2zm0 2zm0 2zm0 2zm0 2zm0 2zm0 2zm0 2zm0 2zm0 2zm0 2zm3-35zm0 2zm0 2zm0 2zm0 2zm0 2zm0 2zm0 2zm0 2zm0 2zm0 2zm0 2zm0 2zm0 2zm0 2zm0 2zm0 2zm0 2zm0 20zm0 2zm3-57zm0 2zm0 2zm0 2zm0 2zm0 2zm0 2zm0 2zm0 2zm0 2zm0 2zm0 2zm0 2zm0 2zm0 2zm0 2zm0 2zm0 2zm0 2zm3-33zm0 2zm0 2zm0 2zm0 2zm0 2zm0 2zm0 2zm0 2zm0 2zm0 2zm0 2zm0 2zm0 2zm0 2zm0 2zm0 2zm0 20zm0 2zm3-57zm0 2zm0 2zm0 2zm0 2zm0 2zm0 2zm0 2zm0 2zm0 2zm0 2zm0 2zm0 2zm0 2zm0 2zm0 2zm0 2zm0 2zm0 2zm3-33zm0 2zm0 2zm0 2zm0 2zm0 2zm0 2zm0 2zm0 2zm0 2zm0 2zm0 2zm0 2zm0 2zm0 2zm0 2zm0 2zm0 20zm0 2zm3-55zm0 2zm0 2zm0 2zm0 2zm0 2zm0 2zm0 2zm0 2zm0 2zm0 2zm0 2zm0 2zm0 2zm0 2zm0 2zm0 2zm0 2zm3-37zm0 2zm0 2zm0 2zm0 2zm0 2zm0 2zm0 2zm0 2zm0 2zm0 2zm0 2zm0 2zm0 2zm0 2zm0 2zm0 2zm0 2zm0 2zm3-33zm0 2zm0 2zm0 2zm0 2zm0 2zm0 2zm0 2zm0 2zm0 2zm0 2zm0 2zm0 2zm0 2zm0 2zm0 2zm0 2zm0 2zm3-35zm0 2zm0 2zm0 2zm0 2zm0 2zm0 2zm0 2zm0 2zm0 2zm0 2zm0 2zm0 2zm0 2zm0 2zm0 2zm0 2zm0 2zm3-33zm0 2zm0 2zm0 2zm0 2zm0 2zm0 2zm0 2zm0 2zm0 2zm0 2zm0 2zm0 2zm0 2zm0 2zm0 2zm0 2zm0 2zm0 6zm3-39zm0 2zm0 2zm0 2zm0 2zm0 2zm0 2zm0 2zm0 2zm0 2zm0 2zm0 2zm0 2zm0 2zm0 2zm0 2zm0 2zm0 12zm3-47zm0 2zm0 2zm0 2zm0 2zm0 2zm0 2zm0 2zm0 2zm0 2zm0 2zm0 2zm0 2zm0 2zm0 2zm0 2zm0 2zm0 2zm0 2zm0 4zm0 8zm3-49zm0 4zm0 2zm0 2zm0 2zm0 2zm0 2zm0 2zm0 2zm0 2zm0 2zm0 2zm0 2zm0 2zm0 2zm0 2zm0 2zm0 2zm0 2zm0 6zm0 4zm0 2zm3-49zm0 2zm0 2zm0 2zm0 2zm0 2zm0 2zm0 2zm0 2zm0 2zm0 2zm0 2zm0 2zm0 2zm0 2zm0 2zm0 2zm0 2zm0 2zm0 2zm0 2zm3-41zm0 4zm0 2zm0 2zm0 2zm0 2zm0 2zm0 2zm0 2zm0 2zm0 2zm0 2zm0 2zm0 2zm0 2zm0 2zm0 2zm0 2zm0 4zm0 2zm0 10zm0 12zm0 6zm3-69zm0 2zm0 2zm0 2zm0 2zm0 2zm0 2zm0 2zm0 2zm0 2zm0 2zm0 2zm0 2zm0 2zm0 2zm0 2zm0 2zm0 2zm0 2zm0 2zm0 2zm3-37zm0 2zm0 2zm0 2zm0 2zm0 2zm0 2zm0 2zm0 2zm0 2zm0 2zm0 2zm0 2zm0 2zm0 2zm0 2zm0 2zm3-35zm0 2zm0 2zm0 2zm0 2zm0 2zm0 2zm0 2zm0 2zm0 2zm0 2zm0 2zm0 2zm0 2zm0 2zm0 2zm0 2zm0 2zm0 2zm0 2zm0 2zm0 2zm3-43zm0 2zm0 2zm0 2zm0 2zm0 2zm0 2zm0 2zm0 2zm0 2zm0 2zm0 2zm0 2zm0 2zm0 2zm0 2zm0 2zm0 2zm0 2zm0 2zm0 2zm0 2zm0 2zm0 4zm0 2zm0 2zm0 2zm0 4zm0 2zm3-57zm0 2zm0 2zm0 2zm0 2zm0 2zm0 2zm0 2zm0 2zm0 2zm0 2zm0 2zm0 2zm0 2zm0 2zm0 2zm0 2zm0 2zm0 2zm0 2zm0 2zm0 4zm0 2zm0 2zm0 2zm3-53zm0 2zm0 2zm0 2zm0 2zm0 2zm0 2zm0 2zm0 2zm0 2zm0 2zm0 2zm0 2zm0 2zm0 2zm0 2zm0 2zm0 2zm0 2zm0 2zm0 2zm0 2zm0 4zm0 2zm0 2zm0 2zm0 2zm0 4zm0 6zm0 8zm0 2zm0 2zm0 4zm0 2zm0 2zm0 4zm0 6zm0 4zm3-95zm0 2zm0 2zm0 2zm0 2zm0 2zm0 2zm0 2zm0 2zm0 2zm0 2zm0 2zm0 2zm0 2zm0 2zm0 2zm0 2zm0 2zm0 2zm0 2zm0 2zm0 16zm0 26zm3-85zm0 2zm0 2zm0 2zm0 2zm0 2zm0 2zm0 2zm0 2zm0 2zm0 2zm0 2zm0 2zm0 2zm0 2zm0 2zm0 2zm0 2zm0 2zm0 2zm0 2zm0 2zm0 2zm0 4zm0 2zm0 2zm0 2zm0 4zm3-55zm0 2zm0 2zm0 2zm0 2zm0 2zm0 2zm0 2zm0 2zm0 2zm0 2zm0 2zm0 2zm0 2zm0 2zm0 2zm0 2zm0 2zm0 2zm0 2zm0 2zm0 4zm0 2zm0 2zm0 2zm0 4zm0 2zm0 6zm0 20zm3-85zm0 4zm0 2zm0 2zm0 2zm0 2zm0 2zm0 2zm0 2zm0 2zm0 2zm0 2zm0 2zm0 2zm0 2zm0 2zm0 2zm0 2zm0 2zm0 2zm0 2zm0 6zm0 2zm0 2zm0 2zm0 4zm0 2zm0 4zm3-61zm0 2zm0 2zm0 2zm0 2zm0 2zm0 2zm0 2zm0 2zm0 2zm0 2zm0 2zm0 2zm0 2zm0 2zm0 2zm0 2zm0 2zm0 4zm0 6zm0 2zm0 2zm0 2zm0 12zm0 20zm3-71zm0 2zm0 2zm0 2zm0 2zm0 2zm0 2zm0 2zm0 2zm0 2zm0 2zm0 2zm0 4zm0 2zm0 2zm0 2zm0 2zm0 2zm0 2zm0 6zm3-45zm0 2zm0 2zm0 2zm0 2zm0 2zm0 2zm0 2zm0 2zm0 2zm0 2zm0 2zm0 2zm0 2zm0 2zm0 2zm0 4zm0 24zm3-65zm0 4zm0 4zm0 2zm0 2zm0 4zm0 2zm0 2zm0 6zm0 2zm0 2zm0 4zm0 2zm0 2zm0 2zm0 2zm3-41zm0 2zm0 4zm0 2zm0 2zm0 2zm0 4zm0 2zm0 4zm0 2zm0 2zm0 2zm0 4zm0 2zm0 2zm0 2zm0 2zm0 2zm0 2zm0 36zm0 8zm3-89zm0 2zm0 2zm0 4zm0 2zm0 2zm0 2zm0 2zm0 2zm0 2zm0 2zm0 2zm0 2zm0 4zm0 4zm0 4zm0 4zm3-41zm0 2zm0 2zm0 2zm0 2zm0 2zm0 2zm0 2zm0 2zm0 2zm0 2zm0 2zm0 2zm0 2zm0 2zm0 2zm0 2zm0 2zm0 2zm0 2zm0 2zm0 2zm3-39zm0 2zm0 2zm0 2zm0 2zm0 2zm0 2zm0 2zm0 2zm0 2zm0 2zm0 2zm0 4zm3-29zm0 2zm0 2zm0 2zm0 2zm0 2zm0 2zm0 2zm0 2zm0 2zm0 2zm0 2zm0 2zm0 2zm0 2zm0 6zm3-29zm0 2zm0 2zm0 2zm0 2zm0 2zm0 2zm0 2zm0 2zm0 2zm0 2zm3-25zm0 2zm0 2zm0 2zm0 2zm0 2zm0 2zm0 2zm0 2zm0 6zm0 18zm0 4zm3-45zm0 6zm0 2zm0 2zm0 2zm0 2zm0 2zm0 2zm0 2zm0 2zm0 2zm0 2zm3-15zm0 2zm0 2zm0 2zm0 2zm0 4zm3-17zm0 4zm0 2zm0 2zm0 4zm0 4zm0 2zm0 2zm0 12zm0 6zm0 4zm3-35zm0 2zm0 2zm0 4zm0 4zm0 10zm0 4zm0 14zm3-53zm0 2zm0 2zm0 2zm0 4zm0 6zm0 2zm0 4zm0 2zm0 2zm0 2zm0 2zm0 2zm0 2zm0 2zm0 2zm0 6zm3-37zm0 6zm0 2zm0 2zm0 4zm0 2zm0 2zm0 2zm0 2zm0 2zm0 2zm0 2zm0 2zm0 2zm0 4zm0 4zm3-49zm3-1zm0 4zm0 2zm0 2zm0 2zm0 2zm0 2zm0 2zm0 2zm0 2zm0 4zm0 2zm0 2zm0 2zm0 4zm0 4zm3-37zm0 2zm0 2zm0 2zm0 2zm0 6zm0 2zm0 2zm0 2zm0 6zm3-35zm0 2zm0 2zm0 2zm0 2zm0 4zm0 2zm0 4zm0 2zm0 2zm0 2zm0 2zm0 2zm0 4zm0 2zm0 2zm0 2zm0 4zm3-33zm0 2zm0 2zm0 2zm0 2zm0 2zm0 4zm0 6zm0 6zm3-27zm0 4zm0 2zm0 2zm0 2zm0 4zm0 2zm0 2zm0 2zm0 2zm0 2zm0 2zm0 2zm0 10zm0 18zm3-55zm0 2zm0 2zm0 2zm0 2zm0 2zm0 2zm0 2zm0 2zm0 2zm0 2zm0 2zm0 2zm0 2zm0 2zm0 2zm0 2zm0 2zm0 2zm0 18zm3-55zm0 2zm0 2zm0 2zm0 2zm0 2zm0 2zm0 2zm0 2zm0 2zm0 2zm0 2zm0 2zm0 2zm0 2zm0 2zm0 2zm0 2zm0 2zm0 2zm0 2zm3-39zm0 2zm0 2zm0 2zm0 2zm0 2zm0 2zm0 2zm0 2zm0 2zm0 2zm0 2zm0 2zm0 2zm0 2zm0 2zm0 2zm0 2zm0 2zm0 2zm0 4zm0 4zm0 8zm3-53zm0 8zm0 2zm0 2zm0 2zm0 2zm0 2zm0 2zm0 4zm0 2zm0 2zm0 6zm0 2zm0 2zm3-37zm0 2zm0 2zm0 2zm0 2zm0 2zm0 2zm0 2zm0 2zm0 2zm0 2zm0 2zm0 2zm0 2zm0 2zm0 2zm0 2zm0 2zm0 2zm0 4zm0 4zm0 8zm3-47zm0 2zm0 4zm0 2zm0 2zm0 2zm0 2zm0 2zm0 2zm0 2zm0 2zm0 2zm0 2zm0 2zm0 2zm0 2zm3-37zm0 2zm0 2zm0 2zm0 2zm0 2zm0 2zm0 4zm0 2zm0 2zm0 2zm0 2zm0 2zm0 2zm0 2zm0 2zm0 2zm3-45zm0 2zm0 2zm0 2zm0 10zm0 2zm0 6zm0 8zm0 8zm0 2zm0 2zm0 2zm9-5zm0 2zm0 6zm0 8zm0 2zm0 18zm3-77zm0 2zm0 2zm3-3zm0 4zm0 72zm0 22zm6-88zm0 2zm0 2zm0 2zm0 2zm0 2zm6 14zm0 2zm0 2zm0 2zm0 2zm0 2zm0 2zm12-46zm0 4zm3-5zm0 2zm0 2zm0 6zm0 2zm0 2zm0 2zm0 2zm0 2zm0 2zm6-22zm0 2zm0 2zm6-4zm0 2zm0 2z"/>
<path vector-effect="non-scaling-stroke" d="M-169 14zm0 2zm0 2zm0 2zm3-9zm0 2zm0 2zm0 2zm0 2zm0 2zm9-7zm0 2zm0 2zm0 2zm0 2zm3-11zm0 2zm0 2zm0 4zm0 2zm3-1zm0 2zm3-3zm0 2zm3-1zm0 2zm3-11zm0 2zm0 2zm0 2zm0 2zm0 2zm0 2zm0 4zm0 2zm0 2zm0 2zm0 2zm3-21zm0 2zm0 2zm0 2zm0 2zm3-11zm0 2zm0 2zm0 4zm0 2zm3-7zm0 2zm0 2zm0 2zm0 2zm0 2zm0 4zm0 2zm0 2zm0 2zm0 2zm0 8zm3-33zm0 2zm0 2zm0 4zm0 2zm0 2zm0 4zm0 2zm0 2zm0 2zm0 2zm9-21zm0 4zm0 2zm0 2zm0 2zm0 4zm0 2zm0 2zm0 2zm0 2zm0 8zm0 32zm3-65zm0 2zm0 2zm0 4zm0 2zm6-10zm0 2zm0 2zm0 4zm0 2zm3-7zm0 4zm0 2zm0 2zm0 22zm0 32zm6-64zm0 2zm0 2zm0 2zm0 4zm0 2zm0 2zm0 2zm0 4zm0 2zm0 2zm3-25zm0 2zm0 2zm0 2zm0 2zm0 2zm0 2zm0 2zm0 2zm0 2zm0 2zm0 2zm0 2zm0 2zm0 2zm0 2zm3-31zm0 2zm0 2zm0 2zm0 2zm0 2zm0 2zm0 2zm0 2zm0 2zm0 2zm0 2zm0 2zm0 2zm0 2zm0 2zm0 2zm0 2zm3-35zm0 2zm0 2zm0 2zm0 2zm0 2zm0 2zm0 2zm0 2zm0 2zm0 2zm0 2zm0 2zm0 2zm0 2zm0 2zm0 2zm0 2zm0 2zm3-37zm0 2zm0 2zm0 2zm0 2zm0 2zm0 2zm0 2zm0 2zm0 2zm0 2zm0 2zm0 2zm0 2zm0 2zm0 2zm0 2zm0 2zm0 2zm0 20zm0 2zm3-57zm0 2zm0 2zm0 2zm0 2zm0 2zm0 2zm0 2zm0 2zm0 2zm0 2zm0 2zm0 2zm0 2zm0 2zm0 2zm0 2zm0 2zm0 2zm3-33zm0 2zm0 2zm0 2zm0 2zm0 2zm0 2zm0 2zm0 2zm0 2zm0 2zm0 2zm0 2zm0 2zm0 2zm0 2zm0 2zm3-35zm0 2zm0 2zm0 2zm0 2zm0 2zm0 2zm0 2zm0 2zm0 2zm0 2zm0 2zm0 2zm0 2zm0 2zm0 2zm0 2zm0 2zm0 2zm3-35zm0 2zm0 2zm0 2zm0 2zm0 2zm0 2zm0 2zm0 2zm0 2zm0 2zm0 2zm0 2zm0 2zm0 2zm0 2zm0 2zm0 2zm3-35zm0 2zm0 2zm0 2zm0 2zm0 2zm0 2zm0 2zm0 2zm0 2zm0 2zm0 2zm0 2zm0 2zm0 2zm0 2zm0 2zm0 2zm0 2zm3-33zm0 2zm0 2zm0 2zm0 2zm0 2zm0 2zm0 2zm0 2zm0 2zm0 2zm0 2zm0 2zm0 2zm0 2zm0 2zm0 2zm3-33zm0 2zm0 2zm0 2zm0 2zm0 2zm0 2zm0 2zm0 2zm0 2zm0 2zm0 2zm0 2zm0 2zm0 2zm0 2zm0 2zm0 2zm3-37zm0 2zm0 2zm0 2zm0 2zm0 2zm0 2zm0 2zm0 2zm0 2zm0 2zm0 2zm0 2zm0 2zm0 2zm0 2zm0 2zm0 2zm0 2zm0 2zm0 4zm0 2zm0 2zm0 2zm0 2zm3-49zm0 2zm0 2zm0 2zm0 2zm0 2zm0 2zm0 2zm0 2zm0 2zm0 2zm0 2zm0 2zm0 2zm0 2zm0 2zm0 2zm0 2zm0 2zm0 2zm3-37zm0 2zm0 2zm0 2zm0 2zm0 2zm0 2zm0 2zm0 2zm0 2zm0 2zm0 2zm0 2zm0 2zm0 2zm0 2zm0 2zm0 2zm3-35zm0 2zm0 2zm0 2zm0 2zm0 2zm0 2zm0 2zm0 2zm0 2zm0 2zm0 2zm0 2zm0 2zm0 2zm0 2zm0 2zm0 2zm0 2zm0 2zm0 4zm0 14zm3-57zm0 2zm0 2zm0 2zm0 2zm0 2zm0 2zm0 2zm0 2zm0 2zm0 2zm0 2zm0 2zm0 2zm0 2zm0 2zm0 2zm0 2zm0 2zm0 4zm0 2zm0 2zm0 4zm0 2zm3-47zm0 2zm0 2zm0 2zm0 2zm0 2zm0 2zm0 2zm0 2zm0 2zm0 2zm0 2zm0 2zm0 2zm0 2zm0 2zm0 2zm0 2zm3-33zm0 2zm0 2zm0 2zm0 2zm0 2zm0 2zm0 2zm0 2zm0 2zm0 2zm0 2zm0 2zm0 2zm0 2zm0 2zm0 2zm0 2zm0 2zm0 2zm3-39zm0 2zm0 2zm0 2zm0 2zm0 2zm0 2zm0 2zm0 2zm0 2zm0 2zm0 2zm0 2zm0 2zm0 2zm0 2zm0 2zm0 2zm0 2zm3-35zm0 2zm0 2zm0 2zm0 2zm0 2zm0 2zm0 2zm0 2zm0 2zm0 2zm0 2zm0 2zm0 2zm0 2zm0 2zm0 2zm0 2zm0 2zm0 2zm3-39zm0 2zm0 2zm0 2zm0 2zm0 2zm0 2zm0 2zm0 2zm0 2zm0 2zm0 2zm0 2zm0 2zm0 2zm0 2zm0 2zm0 2zm0 2zm0 2zm0 2zm0 12zm0 4zm3-59zm0 2zm0 2zm0 2zm0 2zm0 2zm0 2zm0 2zm0 2zm0 2zm0 2zm0 2zm0 2zm0 2zm0 2zm0 2zm0 2zm0 2zm0 2zm0 2zm0 2zm0 2zm0 6zm0 2zm0 2zm0 2zm0 4zm0 2zm0 4zm3-63zm0 2zm0 2zm0 2zm0 2zm0 2zm0 2zm0 2zm0 2zm0 2zm0 2zm0 2zm0 2zm0 2zm0 2zm0 2zm0 2zm0 2zm0 2zm0 2zm0 2zm0 2zm3-41zm0 2zm0 2zm0 2zm0 2zm0 2zm0 2zm0 2zm0 2zm0 2zm0 2zm0 2zm0 2zm0 2zm0 2zm0 2zm0 2zm0 2zm0 2zm0 2zm0 2zm0 2zm0 2zm0 2zm0 2zm0 2zm0 2zm0 10zm3-61zm0 2zm0 2zm0 2zm0 2zm0 2zm0 2zm0 2zm0 2zm0 2zm0 2zm0 2zm0 2zm0 2zm0 2zm0 2zm0 2zm0 2zm0 2zm0 2zm0 6zm0 2zm0 2zm0 2zm0 12zm3-65zm0 2zm0 2zm0 2zm0 2zm0 2zm0 2zm0 2zm0 2zm0 2zm0 2zm0 2zm0 2zm0 2zm0 2zm0 2zm0 2zm0 2zm0 2zm0 2zm0 2zm0 2zm0 2zm0 2zm0 2zm0 2zm0 2zm0 2zm0 4zm0 2zm3-57zm0 2zm0 2zm0 2zm0 2zm0 2zm0 2zm0 2zm0 2zm0 2zm0 2zm0 2zm0 2zm0 2zm0 2zm0 2zm0 2zm0 2zm0 14zm0 2zm0 2zm0 4zm0 6zm3-61zm0 2zm0 2zm0 2zm0 2zm0 2zm0 2zm0 2zm0 2zm0 2zm0 2zm0 2zm0 2zm0 2zm0 2zm0 2zm0 2zm0 2zm0 2zm0 2zm0 2zm0 2zm0 2zm0 2zm0 2zm0 2zm0 4zm0 6zm3-61zm0 2zm0 2zm0 2zm0 2zm0 2zm0 2zm0 2zm0 2zm0 2zm0 2zm0 2zm0 2zm0 2zm0 2zm0 2zm0 2zm0 2zm0 2zm0 2zm0 2zm0 4zm0 2zm0 4zm3-41zm0 2zm0 2zm0 2zm0 2zm0 2zm0 2zm0 2zm0 2zm0 2zm0 2zm0 2zm0 2zm0 2zm0 2zm0 2zm0 2zm0 2zm0 2zm3-39zm0 4zm0 2zm0 2zm0 2zm0 2zm0 2zm0 2zm0 2zm0 2zm0 2zm0 2zm0 2zm0 4zm0 2zm0 4zm0 2zm3-39zm0 2zm0 4zm0 2zm0 2zm0 2zm0 2zm0 2zm3-15zm0 4zm0 2zm0 2zm0 2zm0 4zm0 2zm0 2zm0 2zm0 2zm0 2zm0 2zm0 4zm0 2zm0 2zm0 4zm0 2zm0 2zm0 20zm0 16zm0 8zm3-89zm0 2zm0 2zm0 2zm0 2zm0 2zm0 2zm0 2zm0 2zm0 2zm0 2zm0 2zm0 2zm0 2zm0 2zm0 2zm0 4zm0 2zm0 2zm0 4zm3-41zm0 2zm0 2zm0 2zm0 2zm0 2zm0 2zm0 2zm0 2zm0 2zm0 2zm0 2zm0 2zm0 2zm0 2zm0 4zm0 2zm0 8zm3-47zm0 4zm0 2zm0 2zm0 2zm0 2zm0 2zm0 2zm0 2zm0 2zm0 2zm0 2zm0 2zm0 2zm0 2zm0 4zm0 8zm0 10zm0 18zm0 22zm3-87zm0 2zm0 2zm0 2zm0 2zm0 2zm0 2zm0 2zm0 2zm0 2zm0 2zm0 2zm0 2zm0 2zm0 2zm3-29zm0 2zm0 2zm0 4zm0 2zm0 2zm0 2zm0 2zm0 2zm0 2zm3-19zm0 2zm0 2zm0 2zm0 2zm0 2zm0 2zm0 2zm0 2zm0 2zm0 2zm0 2zm0 2zm0 8zm0 2zm0 8zm0 2zm0 20zm3-59zm0 4zm0 2zm0 2zm0 4zm0 4zm0 2zm0 2zm3-21zm0 2zm0 2zm0 2zm0 6zm0 2zm0 4zm0 2zm3-19zm0 4zm0 2zm0 2zm0 4zm0 4zm0 2zm0 2zm0 40zm0 22zm3-61zm0 6zm0 2zm0 6zm0 12zm3-53zm0 2zm0 2zm0 2zm0 10zm0 2zm0 2zm0 2zm0 2zm0 2zm0 2zm0 2zm0 2zm0 2zm0 2zm0 2zm0 2zm0 4zm0 6zm0 16zm0 22zm3-67zm0 4zm0 2zm0 8zm0 2zm0 2zm0 2zm0 2zm0 4zm0 6zm3-53zm0 2zm0 2zm0 2zm0 10zm0 2zm0 2zm0 2zm0 2zm0 2zm0 2zm0 2zm0 4zm0 2zm0 2zm0 2zm3-51zm0 2zm0 2zm0 2zm0 6zm0 2zm0 2zm0 2zm0 4zm0 2zm0 2zm0 2zm0 2zm0 2zm0 2zm0 2zm3-27zm0 2zm0 2zm0 2zm0 2zm0 2zm0 2zm0 2zm0 2zm0 2zm0 2zm0 6zm0 2zm0 8zm3-45zm0 2zm0 2zm0 2zm0 6zm0 2zm0 4zm0 4zm0 4zm0 2zm0 4zm0 2zm0 2zm0 10zm0 18zm3-55zm0 2zm0 2zm0 2zm0 2zm0 2zm0 4zm0 6zm0 6zm3-27zm0 2zm0 2zm0 2zm0 2zm0 2zm0 2zm0 2zm0 2zm0 2zm0 2zm0 2zm0 2zm0 2zm0 2zm0 2zm0 2zm3-31zm0 2zm0 2zm0 2zm0 2zm0 2zm0 2zm0 2zm0 2zm0 2zm0 2zm0 2zm0 4zm0 2zm0 2zm0 2zm0 2zm0 2zm3-33zm0 2zm0 2zm0 2zm0 2zm0 2zm0 2zm0 2zm0 2zm0 2zm0 2zm0 2zm0 2zm0 2zm0 2zm0 2zm0 2zm0 2zm3-35zm0 2zm0 2zm0 2zm0 2zm0 2zm0 2zm0 2zm0 2zm0 2zm0 2zm0 4zm0 2zm0 2zm0 2zm0 2zm0 2zm0 2zm3-47zm0 2zm0 2zm0 2zm0 6zm0 2zm0 2zm0 2zm0 2zm0 2zm0 2zm0 2zm0 2zm0 2zm0 2zm0 2zm0 2zm0 2zm0 2zm0 2zm0 2zm0 2zm3-27zm0 2zm0 2zm0 2zm0 2zm0 8zm0 2zm0 2zm0 2zm0 2zm0 2zm0 14zm0 2zm0 16zm0 22zm3-99zm0 2zm0 2zm0 2zm0 2zm0 4zm0 4zm0 2zm0 4zm0 2zm0 2zm0 2zm0 2zm0 2zm0 2zm0 2zm0 2zm0 2zm0 2zm0 2zm0 2zm3-37zm0 2zm0 2zm0 2zm0 16zm0 2zm0 2zm0 2zm0 2zm0 2zm0 2zm0 2zm0 2zm0 4zm0 4zm0 44zm3-99zm0 2zm0 2zm0 2zm0 10zm0 2zm0 6zm0 8zm0 2zm0 4zm0 2zm0 2zm0 2zm0 2zm0 2zm0 6zm9 23zm0 22zm3-99zm0 2zm0 2zm3 37zm0 2zm0 6zm0 6zm0 2zm0 2zm0 18zm6-76zm0 4zm3 5zm0 2zm0 2zm0 2zm0 2zm0 2zm0 2zm9 13zm0 2zm0 2zm0 2zm0 2zm0 2zm0 2zm15-47zm0 2zm0 2zm12 6zm0 2zm0 2zm0 2zm0 2zm0 2zm0 2zm12-12zm0 2zm0 2zm0 2zm0 2zm0 2zm0 2z"/>
<path vector-effect="non-scaling-stroke" d="M-102 20zm0 2zm0 4zm0 2zm0 6zm0 2zm0 2zm3-25zm0 2zm0 2zm0 2zm0 2zm0 2zm0 2zm0 2zm0 2zm0 2zm0 2zm0 2zm0 2zm0 2zm0 2zm0 2zm3-31zm0 2zm0 2zm0 2zm0 2zm0 2zm0 2zm0 2zm0 2zm0 2zm0 2zm0 2zm0 2zm0 2zm0 2zm0 2zm0 2zm3-33zm0 2zm0 2zm0 2zm0 2zm0 2zm0 2zm0 2zm0 2zm0 2zm0 2zm0 2zm0 2zm0 2zm0 2zm0 2zm0 2zm0 2zm3-35zm0 2zm0 2zm0 2zm0 2zm0 2zm0 2zm0 2zm0 2zm0 2zm0 2zm0 2zm0 2zm0 2zm0 2zm0 2zm0 2zm0 2zm3-33zm0 2zm0 2zm0 2zm0 2zm0 2zm0 2zm0 2zm0 2zm0 2zm0 2zm0 2zm0 2zm0 2zm0 2zm0 2zm0 2zm0 2zm3-33zm0 2zm0 2zm0 2zm0 2zm0 2zm0 2zm0 2zm0 2zm0 2zm0 2zm0 2zm0 2zm0 2zm0 2zm0 2zm0 2zm3-33zm0 2zm0 2zm0 2zm0 2zm0 2zm0 2zm0 2zm0 2zm0 2zm0 2zm0 2zm0 2zm0 2zm0 2zm0 2zm0 2zm0 2zm3-33zm0 2zm0 2zm0 2zm0 2zm0 2zm0 2zm0 2zm0 2zm0 2zm0 2zm0 2zm0 2zm0 2zm0 2zm0 2zm0 2zm3-33zm0 2zm0 2zm0 2zm0 2zm0 2zm0 2zm0 2zm0 2zm0 2zm0 2zm0 2zm0 2zm0 2zm0 2zm0 2zm0 2zm0 2zm3-35zm0 2zm0 2zm0 2zm0 2zm0 2zm0 2zm0 2zm0 2zm0 2zm0 2zm0 2zm0 2zm0 2zm0 2zm0 2zm0 2zm0 2zm3-33zm0 2zm0 2zm0 2zm0 2zm0 2zm0 2zm0 2zm0 2zm0 2zm0 2zm0 2zm0 2zm0 2zm0 2zm0 2zm0 2zm0 2zm3-33zm0 2zm0 2zm0 2zm0 2zm0 2zm0 2zm0 2zm0 2zm0 2zm0 2zm0 2zm0 2zm0 2zm0 2zm0 2zm0 2zm3-33zm0 2zm0 2zm0 2zm0 2zm0 2zm0 2zm0 2zm0 2zm0 2zm0 2zm0 2zm0 2zm0 2zm0 2zm0 2zm0 2zm0 2zm0 6zm3-39zm0 2zm0 2zm0 2zm0 2zm0 2zm0 2zm0 2zm0 2zm0 2zm0 2zm0 2zm0 2zm0 2zm0 2zm0 2zm0 2zm0 12zm3-45zm0 2zm0 2zm0 2zm0 2zm0 2zm0 2zm0 2zm0 2zm0 2zm0 2zm0 2zm0 2zm0 2zm0 2zm0 2zm0 2zm0 2zm3-33zm0 2zm0 2zm0 2zm0 2zm0 2zm0 2zm0 2zm0 2zm0 2zm0 2zm0 2zm0 2zm0 2zm0 2zm0 2zm0 2zm3-33zm0 2zm0 2zm0 2zm0 2zm0 2zm0 2zm0 2zm0 2zm0 2zm0 2zm0 2zm0 2zm0 2zm0 2zm0 2zm0 2zm0 2zm0 2zm0 2zm0 2zm3-39zm0 2zm0 2zm0 2zm0 2zm0 2zm0 2zm0 2zm0 2zm0 2zm0 2zm0 2zm0 2zm0 2zm0 2zm0 2zm0 2zm0 4zm3-37zm0 2zm0 2zm0 2zm0 2zm0 2zm0 2zm0 2zm0 2zm0 2zm0 2zm0 2zm0 2zm0 2zm0 2zm0 2zm0 2zm0 2zm3-37zm0 4zm0 2zm0 2zm0 2zm0 2zm0 2zm0 2zm0 2zm0 2zm0 2zm0 2zm0 2zm0 2zm0 2zm0 2zm0 2zm0 2zm0 2zm0 2zm0 2zm3-39zm0 2zm0 2zm0 2zm0 2zm0 2zm0 2zm0 2zm0 2zm0 2zm0 2zm0 2zm0 2zm0 2zm0 2zm0 2zm0 2zm0 2zm0 2zm0 2zm3-39zm0 2zm0 2zm0 2zm0 2zm0 2zm0 2zm0 2zm0 2zm0 2zm0 2zm0 2zm0 2zm0 2zm0 2zm0 2zm0 2zm0 2zm0 2zm0 2zm0 2zm3-39zm0 2zm0 2zm0 2zm0 2zm0 2zm0 2zm0 2zm0 2zm0 2zm0 2zm0 2zm0 2zm0 2zm0 2zm0 2zm0 2zm0 2zm0 2zm0 2zm0 2zm0 4zm0 2zm3-45zm0 2zm0 2zm0 2zm0 2zm0 2zm0 2zm0 2zm0 2zm0 2zm0 2zm0 2zm0 2zm0 2zm0 2zm0 2zm0 2zm0 2zm0 2zm0 2zm0 6zm0 2zm0 2zm0 2zm0 4zm0 36zm3-91zm0 2zm0 2zm0 2zm0 2zm0 2zm0 2zm0 2zm0 2zm0 2zm0 2zm0 2zm0 2zm0 2zm0 2zm0 2zm0 2zm0 2zm0 2zm0 2zm0 8zm0 2zm0 2zm0 12zm3-61zm0 2zm0 2zm0 2zm0 2zm0 2zm0 2zm0 2zm0 2zm0 2zm0 2zm0 2zm0 2zm0 2zm0 2zm0 2zm0 2zm0 2zm0 2zm0 10zm0 2zm0 6zm3-55zm0 2zm0 2zm0 2zm0 2zm0 2zm0 2zm0 2zm0 2zm0 2zm0 2zm0 2zm0 2zm0 2zm0 2zm0 2zm0 2zm0 2zm0 2zm0 2zm0 6zm0 2zm0 2zm0 2zm3-49zm0 2zm0 2zm0 2zm0 2zm0 2zm0 2zm0 2zm0 2zm0 2zm0 2zm0 2zm0 2zm0 2zm0 2zm0 2zm0 2zm0 4zm0 2zm0 6zm0 2zm0 2zm3-49zm0 2zm0 2zm0 2zm0 2zm0 2zm0 2zm0 2zm0 2zm0 2zm0 2zm0 2zm0 2zm0 2zm0 2zm0 2zm0 2zm0 2zm0 2zm0 2zm0 4zm0 2zm0 2zm3-17zm0 4zm0 2zm0 2zm0 2zm0 2zm0 2zm0 2zm3-39zm0 4zm0 2zm0 2zm0 2zm0 4zm0 2zm0 4zm0 2zm0 2zm3-19zm0 2zm0 2zm0 2zm0 2zm0 2zm0 2zm0 2zm0 2zm0 2zm0 4zm3-27zm0 4zm0 2zm0 2zm0 2zm0 4zm0 2zm0 2zm0 2zm0 2zm0 2zm0 2zm0 4zm0 2zm0 2zm0 2zm0 2zm0 2zm0 2zm0 36zm0 8zm3-87zm0 2zm0 2zm0 2zm0 2zm0 2zm0 2zm0 2zm0 2zm0 2zm0 6zm0 4zm0 8zm0 4zm3-39zm0 4zm0 2zm0 2zm0 2zm0 4zm0 2zm0 2zm0 2zm0 2zm0 2zm3-17zm0 2zm0 4zm0 2zm0 2zm3-15zm0 6zm0 2zm0 2zm0 2zm0 2zm0 2zm0 2zm0 2zm0 4zm0 16zm3-39zm0 4zm0 2zm3-11zm0 6zm0 2zm0 2zm0 2zm0 4zm0 2zm0 4zm3-13zm0 8zm0 4zm0 2zm0 2zm3-15zm0 6zm0 2zm0 4zm3-17zm0 4zm0 2zm0 4zm0 2zm0 2zm0 2zm0 2zm0 2zm3-5zm0 4zm0 2zm0 8zm0 4zm0 4zm6-22zm0 14zm0 4zm3-39zm0 2zm0 2zm0 2zm0 10zm0 2zm0 2zm0 4zm0 2zm0 2zm0 2zm0 4zm0 2zm0 2zm3-31zm0 4zm0 2zm0 2zm0 8zm3-25zm0 4zm0 2zm0 2zm0 6zm0 6zm0 6zm3-17zm0 4zm0 2zm0 2zm0 2zm0 4zm0 2zm0 2zm0 2zm3-29zm0 2zm0 2zm0 2zm0 2zm0 2zm0 2zm0 2zm0 2zm0 2zm0 2zm0 6zm0 2zm0 8zm3-35zm0 6zm0 2zm0 2zm0 2zm0 2zm0 2zm0 2zm0 2zm0 2zm0 2zm0 2zm0 2zm3-25zm0 2zm0 2zm0 6zm0 4zm0 2zm0 2zm0 2zm0 2zm0 2zm0 2zm0 2zm0 2zm0 2zm0 10zm3-45zm0 2zm0 2zm0 2zm0 2zm0 2zm0 2zm0 2zm0 2zm0 2zm0 2zm0 2zm0 2zm0 2zm0 2zm0 2zm0 2zm0 2zm0 2zm3-37zm0 22zm0 2zm0 2zm3 3zm0 4zm0 2zm0 2zm3-27zm0 2zm0 2zm0 4zm0 4zm0 2zm0 2zm0 2zm0 2zm0 2zm0 2zm0 2zm3-27zm0 6zm0 4zm0 4zm0 2zm0 2zm0 2zm0 2zm0 2zm0 2zm0 2zm3-13zm0 8zm0 2zm60-32z"/>
<path vector-effect="non-scaling-stroke" d="M-101 18zm0 4zm0 6zm0 4zm0 2zm0 2zm3-19zm0 2zm0 2zm0 2zm0 2zm0 2zm0 2zm0 2zm0 2zm0 2zm0 2zm0 2zm0 2zm0 2zm3-31zm0 2zm0 2zm0 2zm0 2zm0 2zm0 2zm0 2zm0 2zm0 2zm0 2zm0 2zm0 2zm0 2zm0 2zm0 2zm0 2zm3-33zm0 2zm0 2zm0 2zm0 2zm0 2zm0 2zm0 2zm0 2zm0 2zm0 2zm0 2zm0 2zm0 2zm0 2zm0 2zm0 2zm0 2zm3-33zm0 2zm0 2zm0 2zm0 2zm0 2zm0 2zm0 2zm0 2zm0 2zm0 2zm0 2zm0 2zm0 2zm0 2zm0 2zm0 2zm3-33zm0 2zm0 2zm0 2zm0 2zm0 2zm0 2zm0 2zm0 2zm0 2zm0 2zm0 2zm0 2zm0 2zm0 2zm0 2zm0 2zm0 2zm3-35zm0 2zm0 2zm0 2zm0 2zm0 2zm0 2zm0 2zm0 2zm0 2zm0 2zm0 2zm0 2zm0 2zm0 2zm0 2zm0 2zm0 2zm3-33zm0 2zm0 2zm0 2zm0 2zm0 2zm0 2zm0 2zm0 2zm0 2zm0 2zm0 2zm0 2zm0 2zm0 2zm0 2zm0 2zm0 2zm3-33zm0 2zm0 2zm0 2zm0 2zm0 2zm0 2zm0 2zm0 2zm0 2zm0 2zm0 2zm0 2zm0 2zm0 2zm0 2zm0 2zm3-33zm0 2zm0 2zm0 2zm0 2zm0 2zm0 2zm0 2zm0 2zm0 2zm0 2zm0 2zm0 2zm0 2zm0 2zm0 2zm0 2zm0 2zm3-33zm0 2zm0 2zm0 2zm0 2zm0 2zm0 2zm0 2zm0 2zm0 2zm0 2zm0 2zm0 2zm0 2zm0 2zm0 2zm0 2zm3-33zm0 2zm0 2zm0 2zm0 2zm0 2zm0 2zm0 2zm0 2zm0 2zm0 2zm0 2zm0 2zm0 2zm0 2zm0 2zm0 2zm0 2zm3-33zm0 2zm0 2zm0 2zm0 2zm0 2zm0 2zm0 2zm0 2zm0 2zm0 2zm0 2zm0 2zm0 2zm0 2zm0 2zm0 2zm3-33zm0 2zm0 2zm0 2zm0 2zm0 2zm0 2zm0 2zm0 2zm0 2zm0 2zm0 2zm0 2zm0 2zm0 2zm0 2zm0 2zm0 2zm3-37zm0 4zm0 2zm0 2zm0 2zm0 2zm0 2zm0 2zm0 2zm0 2zm0 2zm0 2zm0 2zm0 2zm0 2zm0 2zm0 2zm0 2zm0 2zm0 4zm0 6zm3-45zm0 2zm0 2zm0 2zm0 2zm0 2zm0 2zm0 2zm0 2zm0 2zm0 2zm0 2zm0 2zm0 2zm0 2zm0 2zm0 2zm0 2zm3-35zm0 2zm0 2zm0 2zm0 2zm0 2zm0 2zm0 2zm0 2zm0 2zm0 2zm0 2zm0 2zm0 2zm0 2zm0 2zm0 2zm0 2zm3-33zm0 2zm0 2zm0 2zm0 2zm0 2zm0 2zm0 2zm0 2zm0 2zm0 2zm0 2zm0 2zm0 2zm0 2zm0 2zm0 2zm0 2zm0 2zm0 2zm0 2zm0 6zm0 10zm3-59zm0 2zm0 2zm0 2zm0 2zm0 2zm0 2zm0 2zm0 2zm0 2zm0 2zm0 2zm0 2zm0 2zm0 2zm0 2zm0 2zm0 2zm0 2zm3-33zm0 2zm0 2zm0 2zm0 2zm0 2zm0 2zm0 2zm0 2zm0 2zm0 2zm0 2zm0 2zm0 2zm0 2zm0 2zm0 2zm0 2zm3-37zm0 2zm0 2zm0 2zm0 2zm0 2zm0 2zm0 2zm0 2zm0 2zm0 2zm0 2zm0 2zm0 2zm0 2zm0 2zm0 2zm0 2zm0 2zm0 2zm0 2zm0 2zm3-39zm0 2zm0 2zm0 2zm0 2zm0 2zm0 2zm0 2zm0 2zm0 2zm0 2zm0 2zm0 2zm0 2zm0 2zm0 2zm0 2zm0 2zm0 2zm0 2zm0 8zm0 2zm3-47zm0 2zm0 2zm0 2zm0 2zm0 2zm0 2zm0 2zm0 2zm0 2zm0 2zm0 2zm0 2zm0 2zm0 2zm0 2zm0 2zm0 2zm0 2zm0 2zm0 6zm0 2zm0 2zm0 2zm3-51zm0 2zm0 2zm0 2zm0 2zm0 2zm0 2zm0 2zm0 2zm0 2zm0 2zm0 2zm0 2zm0 2zm0 2zm0 2zm0 2zm0 2zm0 2zm0 2zm0 8zm3-45zm0 2zm0 2zm0 2zm0 2zm0 2zm0 2zm0 2zm0 2zm0 2zm0 2zm0 2zm0 2zm0 2zm0 2zm0 2zm0 2zm0 2zm0 56zm3-91zm0 2zm0 2zm0 2zm0 2zm0 2zm0 2zm0 2zm0 2zm0 2zm0 2zm0 2zm0 2zm0 2zm0 2zm0 2zm0 2zm0 2zm0 2zm0 2zm0 8zm0 2zm0 2zm3-49zm0 2zm0 2zm0 2zm0 2zm0 2zm0 2zm0 2zm0 2zm0 2zm0 2zm0 2zm0 2zm0 2zm0 2zm0 2zm0 2zm0 2zm0 2zm0 2zm0 6zm0 2zm0 2zm0 6zm0 36zm3-91zm0 2zm0 2zm0 2zm0 2zm0 2zm0 2zm0 2zm0 2zm0 2zm0 2zm0 2zm0 2zm0 2zm0 2zm0 2zm0 2zm0 2zm0 2zm0 2zm0 10zm0 14zm3-61zm0 2zm0 2zm0 2zm0 2zm0 2zm0 2zm0 2zm0 2zm0 2zm0 2zm0 2zm0 2zm0 2zm0 2zm0 2zm0 2zm0 4zm0 2zm0 6zm0 2zm0 2zm0 42zm3-79zm0 2zm0 2zm0 4zm0 2zm0 4zm0 2zm0 2zm0 6zm0 2zm0 6zm0 6zm3-37zm0 2zm0 2zm0 2zm0 2zm0 2zm0 2zm0 2zm0 2zm0 4zm0 4zm0 2zm3-25zm0 18zm0 4zm0 2zm0 2zm0 2zm0 2zm3-31zm0 2zm0 2zm0 2zm0 2zm0 2zm0 6zm0 4zm0 4zm0 2zm0 2zm0 4zm0 24zm0 18zm3-83zm0 6zm0 2zm0 2zm0 2zm0 4zm0 2zm0 4zm0 2zm0 2zm0 2zm0 12zm3-41zm0 2zm0 2zm0 2zm0 2zm0 2zm0 2zm0 2zm0 2zm0 2zm0 2zm0 2zm0 2zm0 2zm0 4zm3-23zm0 2zm0 2zm0 2zm0 4zm0 2zm0 2zm0 2zm0 2zm0 2zm3-25zm0 2zm0 2zm0 2zm0 2zm0 2zm0 2zm0 2zm0 2zm0 2zm0 2zm0 2zm0 2zm0 4zm3-23zm0 4zm0 2zm0 4zm0 2zm0 2zm0 2zm0 2zm3-23zm0 8zm0 2zm0 4zm3-9zm0 2zm0 2zm0 2zm0 4zm0 2zm0 4zm9-5zm0 4zm0 4zm3-9zm0 18zm3-17zm0 6zm0 2zm0 2zm0 4zm0 2zm0 2zm0 2zm0 6zm6-44zm0 2zm0 2zm0 2zm0 6zm0 4zm0 2zm0 6zm3-21zm0 4zm0 4zm0 4zm0 6zm0 2zm3-25zm0 4zm0 2zm0 2zm0 6zm0 2zm0 2zm0 2zm0 6zm6-26zm0 4zm0 2zm0 20zm0 42zm3-65zm0 4zm0 2zm0 4zm0 2zm0 2zm0 2zm0 2zm0 2zm0 2zm0 2zm0 2zm0 6zm3-35zm0 2zm0 2zm0 2zm0 2zm0 2zm0 2zm0 2zm0 2zm0 2zm0 2zm0 2zm0 2zm0 2zm0 2zm0 2zm0 2zm0 2zm0 2zm3-33zm0 2zm0 4zm0 4zm0 2zm0 2zm0 2zm0 2zm0 2zm0 2zm0 2zm0 2zm0 4zm0 2zm0 2zm3-13zm0 2zm3-19zm0 2zm0 6zm0 4zm0 4zm0 2zm0 2zm0 2zm0 4zm0 2zm0 2zm3-25zm0 6zm0 4zm0 2zm0 2zm0 2zm0 2zm0 2zm0 2zm0 2zm3-29zm0 2zm0 6zm0 8zm0 2zm0 2zm0 2zm0 2zm0 4zm24-34zm0 4zm0 2zm21-5zm0 2z"/>
<path vector-effect="non-scaling-stroke" d="M-100 12zm0 8zm0 2zm0 2zm0 4zm0 2zm0 2zm0 2zm0 2zm0 2zm0 2zm3-27zm0 2zm0 2zm0 2zm0 2zm0 2zm0 2zm0 2zm0 2zm0 2zm0 2zm0 2zm0 2zm0 2zm0 2zm3-29zm0 2zm0 2zm0 2zm0 2zm0 2zm0 2zm0 2zm0 2zm0 2zm0 2zm0 2zm0 2zm0 2zm0 2zm0 2zm0 2zm3-33zm0 2zm0 2zm0 2zm0 2zm0 2zm0 2zm0 2zm0 2zm0 2zm0 2zm0 2zm0 2zm0 2zm0 2zm0 2zm0 2zm0 2zm3-33zm0 2zm0 2zm0 2zm0 2zm0 2zm0 2zm0 2zm0 2zm0 2zm0 2zm0 2zm0 2zm0 2zm0 2zm0 2zm0 2zm3-33zm0 2zm0 2zm0 2zm0 2zm0 2zm0 2zm0 2zm0 2zm0 2zm0 2zm0 2zm0 2zm0 2zm0 2zm0 2zm0 2zm0 2zm3-33zm0 2zm0 2zm0 2zm0 2zm0 2zm0 2zm0 2zm0 2zm0 2zm0 2zm0 2zm0 2zm0 2zm0 2zm0 2zm0 2zm3-33zm0 2zm0 2zm0 2zm0 2zm0 2zm0 2zm0 2zm0 2zm0 2zm0 2zm0 2zm0 2zm0 2zm0 2zm0 2zm0 2zm0 2zm3-35zm0 2zm0 2zm0 2zm0 2zm0 2zm0 2zm0 2zm0 2zm0 2zm0 2zm0 2zm0 2zm0 2zm0 2zm0 2zm0 2zm0 2zm3-33zm0 2zm0 2zm0 2zm0 2zm0 2zm0 2zm0 2zm0 2zm0 2zm0 2zm0 2zm0 2zm0 2zm0 2zm0 2zm0 2zm0 2zm3-33zm0 2zm0 2zm0 2zm0 2zm0 2zm0 2zm0 2zm0 2zm0 2zm0 2zm0 2zm0 2zm0 2zm0 2zm0 2zm0 2zm3-33zm0 2zm0 2zm0 2zm0 2zm0 2zm0 2zm0 2zm0 2zm0 2zm0 2zm0 2zm0 2zm0 2zm0 2zm0 2zm0 2zm0 2zm3-33zm0 2zm0 2zm0 2zm0 2zm0 2zm0 2zm0 2zm0 2zm0 2zm0 2zm0 2zm0 2zm0 2zm0 2zm0 2zm0 2zm3-33zm0 2zm0 2zm0 2zm0 2zm0 2zm0 2zm0 2zm0 2zm0 2zm0 2zm0 2zm0 2zm0 2zm0 2zm0 2zm0 2zm0 2zm3-37zm0 2zm0 2zm0 2zm0 2zm0 2zm0 2zm0 2zm0 2zm0 2zm0 2zm0 2zm0 2zm0 2zm0 2zm0 2zm0 2zm0 2zm0 2zm0 6zm0 6zm3-45zm0 2zm0 2zm0 2zm0 2zm0 2zm0 2zm0 2zm0 2zm0 2zm0 2zm0 2zm0 2zm0 2zm0 2zm0 2zm0 2zm0 2zm0 2zm3-35zm0 2zm0 2zm0 2zm0 2zm0 2zm0 2zm0 2zm0 2zm0 2zm0 2zm0 2zm0 2zm0 2zm0 2zm0 2zm0 2zm3-33zm0 2zm0 2zm0 2zm0 2zm0 2zm0 2zm0 2zm0 2zm0 2zm0 2zm0 2zm0 2zm0 2zm0 2zm0 2zm0 2zm0 2zm0 2zm0 2zm3-37zm0 2zm0 2zm0 2zm0 2zm0 2zm0 2zm0 2zm0 2zm0 2zm0 2zm0 2zm0 2zm0 2zm0 2zm0 2zm0 2zm3-33zm0 2zm0 2zm0 2zm0 2zm0 2zm0 2zm0 2zm0 2zm0 2zm0 2zm0 2zm0 2zm0 2zm0 2zm0 2zm0 2zm0 2zm0 2zm0 2zm3-37zm0 2zm0 2zm0 2zm0 2zm0 2zm0 2zm0 2zm0 2zm0 2zm0 2zm0 2zm0 2zm0 2zm0 2zm0 2zm0 2zm0 4zm3-37zm0 2zm0 2zm0 2zm0 2zm0 2zm0 2zm0 2zm0 2zm0 2zm0 2zm0 2zm0 2zm0 2zm0 2zm0 2zm0 2zm0 2zm0 2zm0 2zm0 10zm3-51zm0 2zm0 2zm0 2zm0 2zm0 2zm0 2zm0 2zm0 2zm0 2zm0 2zm0 2zm0 2zm0 2zm0 2zm0 2zm0 2zm0 2zm0 2zm0 2zm0 2zm3-37zm0 2zm0 2zm0 2zm0 2zm0 2zm0 2zm0 2zm0 2zm0 2zm0 2zm0 2zm0 2zm0 2zm0 2zm0 2zm0 2zm0 2zm0 2zm0 2zm0 6zm0 2zm0 2zm3-47zm0 2zm0 2zm0 2zm0 2zm0 2zm0 2zm0 2zm0 2zm0 2zm0 2zm0 2zm0 2zm0 2zm0 2zm0 2zm0 2zm0 2zm0 2zm0 2zm0 6zm0 2zm0 2zm0 2zm3-51zm0 2zm0 2zm0 2zm0 2zm0 2zm0 2zm0 2zm0 2zm0 2zm0 2zm0 2zm0 2zm0 2zm0 2zm0 2zm0 2zm0 2zm0 2zm0 2zm0 6zm0 2zm0 2zm0 2zm3-49zm0 2zm0 2zm0 2zm0 2zm0 2zm0 2zm0 2zm0 2zm0 2zm0 2zm0 2zm0 2zm0 2zm0 2zm0 2zm0 2zm0 16zm0 6zm0 2zm3-57zm0 2zm0 2zm0 2zm0 2zm0 2zm0 2zm0 2zm0 2zm0 2zm0 2zm0 2zm0 2zm0 2zm0 2zm0 2zm0 2zm0 2zm0 2zm0 2zm0 6zm0 2zm0 2zm0 2zm0 12zm3-61zm0 2zm0 2zm0 2zm0 2zm0 2zm0 2zm0 2zm0 2zm0 2zm0 2zm0 2zm0 2zm0 2zm0 2zm0 2zm0 2zm0 2zm0 2zm3-27zm0 4zm0 2zm0 4zm0 2zm0 2zm0 2zm0 2zm0 2zm0 6zm0 2zm0 4zm0 2zm3-33zm0 2zm0 2zm0 2zm0 2zm0 2zm0 2zm0 2zm0 2zm0 2zm0 4zm0 4zm0 4zm0 4zm3-29zm3-3zm0 2zm0 2zm0 2zm0 2zm0 2zm0 2zm0 2zm0 2zm0 4zm0 36zm0 18zm3-83zm0 2zm0 4zm0 2zm0 2zm0 2zm0 4zm0 2zm0 2zm0 2zm0 2zm0 16zm3-41zm0 2zm0 2zm0 2zm0 2zm0 2zm0 2zm0 2zm0 2zm0 2zm0 2zm0 2zm0 2zm0 2zm0 4zm3-29zm0 2zm0 4zm0 2zm0 2zm0 2zm0 2zm0 2zm0 2zm0 2zm0 2zm0 2zm3-25zm0 2zm0 2zm0 2zm0 2zm0 2zm0 2zm0 2zm0 2zm0 2zm0 2zm0 2zm0 2zm0 2zm0 4zm3-29zm0 6zm0 2zm0 4zm0 4zm3-15zm0 4zm0 2zm0 2zm0 2zm0 2zm0 2zm0 2zm0 4zm0 2zm0 2zm12 4zm3-3zm0 6zm0 2zm0 6zm3-15zm0 6zm0 6zm0 6zm0 2zm3-19zm0 8zm3-37zm0 4zm0 2zm0 2zm0 6zm0 6zm0 6zm3-21zm0 4zm0 2zm0 2zm0 2zm0 2zm0 2zm0 4zm0 2zm0 2zm6-18zm0 12zm0 6zm3-27zm0 2zm0 2zm0 2zm0 2zm0 2zm0 4zm0 4zm0 2zm0 6zm3-21zm0 4zm0 4zm0 2zm0 2zm0 2zm0 4zm0 2zm0 2zm0 2zm3-21zm0 4zm0 2zm0 4zm0 2zm0 6zm0 2zm0 6zm0 2zm3-27zm0 4zm0 2zm0 2zm0 2zm0 4zm0 2zm0 2zm0 2zm0 4zm0 2zm3-35zm0 4zm0 2zm0 2zm0 6zm0 6zm0 4zm0 2zm3-17zm0 4zm0 2zm0 2zm0 2zm0 4zm0 2zm0 4zm0 6zm3-25zm0 2zm0 6zm0 4zm0 4zm0 2zm0 2zm0 2zm0 2zm0 2zm3-9zm0 2zm0 8zm3-11zm0 6zm0 2zm24-32zm36 0z"/>
<path vector-effect="non-scaling-stroke" d="M-102 19zm0 2zm0 2zm0 6zm0 6zm3-23zm0 4zm0 2zm0 2zm0 2zm0 2zm0 2zm0 2zm0 2zm0 2zm0 2zm0 2zm0 2zm0 2zm0 2zm0 2zm3-33zm0 2zm0 2zm0 2zm0 2zm0 2zm0 2zm0 2zm0 2zm0 2zm0 2zm0 2zm0 2zm0 2zm0 2zm0 2zm0 2zm0 2zm3-33zm0 2zm0 2zm0 2zm0 2zm0 2zm0 2zm0 2zm0 2zm0 2zm0 2zm0 2zm0 2zm0 2zm0 2zm0 2zm0 2zm3-33zm0 2zm0 2zm0 2zm0 2zm0 2zm0 2zm0 2zm0 2zm0 2zm0 2zm0 2zm0 2zm0 2zm0 2zm0 2zm0 2zm0 2zm3-35zm0 2zm0 2zm0 2zm0 2zm0 2zm0 2zm0 2zm0 2zm0 2zm0 2zm0 2zm0 2zm0 2zm0 2zm0 2zm0 2zm0 2zm3-33zm0 2zm0 2zm0 2zm0 2zm0 2zm0 2zm0 2zm0 2zm0 2zm0 2zm0 2zm0 2zm0 2zm0 2zm0 2zm0 2zm0 2zm3-35zm0 2zm0 2zm0 2zm0 2zm0 2zm0 2zm0 2zm0 2zm0 2zm0 2zm0 2zm0 2zm0 2zm0 2zm0 2zm0 2zm0 2zm3-33zm0 2zm0 2zm0 2zm0 2zm0 2zm0 2zm0 2zm0 2zm0 2zm0 2zm0 2zm0 2zm0 2zm0 2zm0 2zm0 2zm0 2zm3-33zm0 2zm0 2zm0 2zm0 2zm0 2zm0 2zm0 2zm0 2zm0 2zm0 2zm0 2zm0 2zm0 2zm0 2zm0 2zm0 2zm3-33zm0 2zm0 2zm0 2zm0 2zm0 2zm0 2zm0 2zm0 2zm0 2zm0 2zm0 2zm0 2zm0 2zm0 2zm0 2zm0 2zm0 2zm3-35zm0 2zm0 2zm0 2zm0 2zm0 2zm0 2zm0 2zm0 2zm0 2zm0 2zm0 2zm0 2zm0 2zm0 2zm0 2zm0 2zm0 2zm3-33zm0 2zm0 2zm0 2zm0 2zm0 2zm0 2zm0 2zm0 2zm0 2zm0 2zm0 2zm0 2zm0 2zm0 2zm0 2zm0 2zm0 2zm3-33zm0 2zm0 2zm0 2zm0 2zm0 2zm0 2zm0 2zm0 2zm0 2zm0 2zm0 2zm0 2zm0 2zm0 2zm0 2zm0 2zm0 12zm3-45zm0 2zm0 2zm0 2zm0 2zm0 2zm0 2zm0 2zm0 2zm0 2zm0 2zm0 2zm0 2zm0 2zm0 2zm0 2zm0 2zm0 2zm3-37zm0 2zm0 2zm0 2zm0 2zm0 2zm0 2zm0 2zm0 2zm0 2zm0 2zm0 2zm0 2zm0 2zm0 2zm0 2zm0 2zm0 2zm0 2zm0 6zm3-39zm0 2zm0 2zm0 2zm0 2zm0 2zm0 2zm0 2zm0 2zm0 2zm0 2zm0 2zm0 2zm0 2zm0 2zm0 2zm0 2zm0 2zm3-33zm0 2zm0 2zm0 2zm0 2zm0 2zm0 2zm0 2zm0 2zm0 2zm0 2zm0 2zm0 2zm0 2zm0 2zm0 2zm0 2zm0 2zm0 4zm3-39zm0 2zm0 2zm0 2zm0 2zm0 2zm0 2zm0 2zm0 2zm0 2zm0 2zm0 2zm0 2zm0 2zm0 2zm0 2zm0 2zm0 2zm0 2zm0 2zm3-37zm0 2zm0 2zm0 2zm0 2zm0 2zm0 2zm0 2zm0 2zm0 2zm0 2zm0 2zm0 2zm0 2zm0 2zm0 2zm0 2zm3-33zm0 2zm0 2zm0 2zm0 2zm0 2zm0 2zm0 2zm0 2zm0 2zm0 2zm0 2zm0 2zm0 2zm0 2zm0 2zm0 2zm0 2zm0 2zm0 2zm3-37zm0 2zm0 2zm0 2zm0 2zm0 2zm0 2zm0 2zm0 2zm0 2zm0 2zm0 2zm0 2zm0 2zm0 2zm0 2zm0 2zm0 2zm0 2zm0 2zm3-39zm0 2zm0 2zm0 2zm0 2zm0 2zm0 2zm0 2zm0 2zm0 2zm0 2zm0 2zm0 2zm0 2zm0 2zm0 2zm0 2zm0 2zm0 2zm0 2zm0 2zm3-39zm0 2zm0 2zm0 2zm0 2zm0 2zm0 2zm0 2zm0 2zm0 2zm0 2zm0 2zm0 2zm0 2zm0 2zm0 2zm0 2zm0 2zm0 2zm0 2zm0 6zm0 2zm0 2zm0 2zm3-51zm0 2zm0 2zm0 2zm0 2zm0 2zm0 2zm0 2zm0 2zm0 2zm0 2zm0 2zm0 2zm0 2zm0 2zm0 2zm0 2zm0 2zm0 2zm0 2zm0 6zm0 2zm0 2zm0 2zm0 6zm3-55zm0 2zm0 2zm0 2zm0 2zm0 2zm0 2zm0 2zm0 2zm0 2zm0 2zm0 2zm0 2zm0 2zm0 2zm0 2zm0 2zm0 2zm0 2zm0 2zm0 6zm0 2zm0 2zm0 6zm0 36zm3-91zm0 2zm0 2zm0 2zm0 2zm0 2zm0 2zm0 2zm0 2zm0 2zm0 2zm0 2zm0 2zm0 2zm0 2zm0 2zm0 2zm0 2zm0 4zm0 8zm3-45zm0 2zm0 2zm0 2zm0 2zm0 2zm0 2zm0 2zm0 2zm0 2zm0 2zm0 2zm0 2zm0 2zm0 2zm0 2zm0 2zm0 2zm0 2zm0 2zm0 6zm0 2zm0 2zm3-49zm0 2zm0 2zm0 2zm0 2zm0 2zm0 2zm0 2zm0 2zm0 2zm0 2zm0 2zm0 2zm0 2zm0 2zm0 2zm0 2zm0 2zm0 4zm0 6zm0 2zm0 2zm0 2zm3-49zm0 2zm0 2zm0 2zm0 2zm0 2zm0 2zm0 2zm0 2zm0 2zm0 2zm0 2zm0 2zm0 2zm0 2zm0 2zm0 2zm0 2zm0 2zm0 2zm0 2zm0 4zm0 46zm3-59zm0 2zm0 2zm0 2zm0 2zm0 2zm0 2zm0 2zm3-37zm0 4zm0 2zm0 2zm0 2zm0 2zm0 2zm0 2zm0 2zm0 2zm3-19zm0 2zm0 2zm0 2zm0 4zm0 2zm0 2zm0 2zm0 2zm0 16zm3-33zm0 2zm0 2zm0 2zm0 2zm0 2zm0 2zm0 2zm0 2zm0 2zm0 4zm0 4zm0 2zm0 2zm0 2zm0 2zm0 24zm0 18zm3-83zm0 2zm0 4zm0 4zm0 2zm0 2zm0 2zm0 2zm0 2zm0 2zm0 18zm3-33zm0 2zm0 2zm0 2zm0 2zm0 2zm0 2zm0 2zm0 2zm0 2zm3-19zm0 2zm0 2zm0 2zm0 4zm0 2zm3-13zm0 2zm0 2zm0 2zm0 4zm0 2zm0 2zm0 2zm0 2zm0 2zm3-21zm0 6zm3-3zm0 2zm0 2zm0 2zm0 2zm0 2zm3-7zm0 6zm0 2zm0 4zm3-13zm0 8zm0 4zm0 2zm0 2zm3-21zm0 2zm0 2zm0 2zm0 2zm0 2zm0 2zm0 2zm0 2zm0 2zm0 2zm3-7zm0 2zm0 6zm0 2zm0 4zm0 2zm0 2zm0 2zm0 6zm6-26zm0 8zm0 8zm3-27zm0 10zm0 4zm0 2zm0 2zm0 2zm0 8zm3-35zm0 2zm0 2zm0 2zm0 6zm0 6zm0 6zm3-17zm0 4zm0 4zm0 2zm0 6zm0 2zm3-17zm0 2zm0 2zm0 4zm0 8zm0 2zm0 8zm3-37zm0 4zm0 2zm0 4zm0 4zm0 2zm0 2zm0 2zm0 2zm0 2zm0 2zm0 2zm0 2zm3-29zm0 2zm0 2zm0 2zm0 2zm0 2zm0 2zm0 2zm0 2zm0 2zm0 2zm0 6zm0 2zm0 8zm3-31zm0 4zm0 4zm0 2zm0 2zm0 2zm0 4zm0 2zm0 2zm0 2zm0 4zm0 2zm0 2zm0 2zm3-39zm0 2zm0 2zm0 2zm0 2zm0 2zm0 2zm0 2zm0 2zm0 2zm0 2zm0 2zm0 2zm0 2zm0 2zm0 2zm0 2zm0 2zm0 2zm3-15zm0 6zm3-5zm0 2zm0 2zm0 2zm0 2zm0 2zm0 2zm0 2zm3-27zm0 4zm0 2zm0 2zm0 2zm0 4zm0 2zm0 2zm0 2zm0 2zm0 2zm0 2zm0 2zm3-25zm0 6zm0 4zm0 2zm0 2zm0 2zm0 2zm0 2zm0 2zm0 2zm3-1zm60-34zm0 4zm0 2z"/>
<path vector-effect="non-scaling-stroke" d="M-101 17zm0 6zm0 2zm0 2zm0 2zm0 2zm0 2zm0 2zm3-17zm0 2zm0 2zm0 2zm0 2zm0 2zm0 2zm0 2zm0 2zm0 2zm0 2zm0 2zm0 2zm0 2zm3-33zm0 2zm0 2zm0 2zm0 2zm0 2zm0 2zm0 2zm0 2zm0 2zm0 2zm0 2zm0 2zm0 2zm0 2zm0 2zm0 2zm0 2zm3-33zm0 2zm0 2zm0 2zm0 2zm0 2zm0 2zm0 2zm0 2zm0 2zm0 2zm0 2zm0 2zm0 2zm0 2zm0 2zm0 2zm3-33zm0 2zm0 2zm0 2zm0 2zm0 2zm0 2zm0 2zm0 2zm0 2zm0 2zm0 2zm0 2zm0 2zm0 2zm0 2zm0 2zm0 2zm3-33zm0 2zm0 2zm0 2zm0 2zm0 2zm0 2zm0 2zm0 2zm0 2zm0 2zm0 2zm0 2zm0 2zm0 2zm0 2zm0 2zm3-33zm0 2zm0 2zm0 2zm0 2zm0 2zm0 2zm0 2zm0 2zm0 2zm0 2zm0 2zm0 2zm0 2zm0 2zm0 2zm0 2zm0 2zm3-33zm0 2zm0 2zm0 2zm0 2zm0 2zm0 2zm0 2zm0 2zm0 2zm0 2zm0 2zm0 2zm0 2zm0 2zm0 2zm0 2zm3-33zm0 2zm0 2zm0 2zm0 2zm0 2zm0 2zm0 2zm0 2zm0 2zm0 2zm0 2zm0 2zm0 2zm0 2zm0 2zm0 2zm0 2zm3-35zm0 2zm0 2zm0 2zm0 2zm0 2zm0 2zm0 2zm0 2zm0 2zm0 2zm0 2zm0 2zm0 2zm0 2zm0 2zm0 2zm0 2zm3-33zm0 2zm0 2zm0 2zm0 2zm0 2zm0 2zm0 2zm0 2zm0 2zm0 2zm0 2zm0 2zm0 2zm0 2zm0 2zm0 2zm0 2zm3-33zm0 2zm0 2zm0 2zm0 2zm0 2zm0 2zm0 2zm0 2zm0 2zm0 2zm0 2zm0 2zm0 2zm0 2zm0 2zm0 2zm3-33zm0 2zm0 2zm0 2zm0 2zm0 2zm0 2zm0 2zm0 2zm0 2zm0 2zm0 2zm0 2zm0 2zm0 2zm0 2zm0 2zm0 2zm3-33zm0 2zm0 2zm0 2zm0 2zm0 2zm0 2zm0 2zm0 2zm0 2zm0 2zm0 2zm0 2zm0 2zm0 2zm0 2zm0 2zm3-33zm0 2zm0 2zm0 2zm0 2zm0 2zm0 2zm0 2zm0 2zm0 2zm0 2zm0 2zm0 2zm0 2zm0 2zm0 2zm0 2zm0 2zm3-33zm0 2zm0 2zm0 2zm0 2zm0 2zm0 2zm0 2zm0 2zm0 2zm0 2zm0 2zm0 2zm0 2zm0 2zm0 2zm0 2zm3-33zm0 2zm0 2zm0 2zm0 2zm0 2zm0 2zm0 2zm0 2zm0 2zm0 2zm0 2zm0 2zm0 2zm0 2zm0 2zm0 2zm0 2zm0 2zm3-35zm0 2zm0 2zm0 2zm0 2zm0 2zm0 2zm0 2zm0 2zm0 2zm0 2zm0 2zm0 2zm0 2zm0 2zm0 2zm0 2zm0 28zm0 6zm3-67zm0 2zm0 2zm0 2zm0 2zm0 2zm0 2zm0 2zm0 2zm0 2zm0 2zm0 2zm0 2zm0 2zm0 2zm0 2zm0 2zm0 2zm0 4zm3-37zm0 2zm0 2zm0 2zm0 2zm0 2zm0 2zm0 2zm0 2zm0 2zm0 2zm0 2zm0 2zm0 2zm0 2zm0 2zm0 2zm3-33zm0 2zm0 2zm0 2zm0 2zm0 2zm0 2zm0 2zm0 2zm0 2zm0 2zm0 2zm0 2zm0 2zm0 2zm0 2zm0 2zm0 2zm0 2zm0 2zm0 2zm3-39zm0 2zm0 2zm0 2zm0 2zm0 2zm0 2zm0 2zm0 2zm0 2zm0 2zm0 2zm0 2zm0 2zm0 2zm0 2zm0 2zm0 2zm0 2zm0 2zm0 6zm0 2zm0 2zm3-49zm0 2zm0 2zm0 2zm0 2zm0 2zm0 2zm0 2zm0 2zm0 2zm0 2zm0 2zm0 2zm0 2zm0 2zm0 2zm0 2zm0 2zm0 2zm0 2zm0 2zm0 4zm0 2zm0 2zm0 2zm3-49zm0 2zm0 2zm0 2zm0 2zm0 2zm0 2zm0 2zm0 2zm0 2zm0 2zm0 2zm0 2zm0 2zm0 2zm0 2zm0 2zm0 4zm0 2zm0 10zm0 42zm3-91zm0 2zm0 2zm0 2zm0 2zm0 2zm0 2zm0 2zm0 2zm0 2zm0 2zm0 2zm0 2zm0 2zm0 2zm0 2zm0 2zm0 2zm0 4zm3-37zm0 2zm0 2zm0 2zm0 2zm0 2zm0 2zm0 2zm0 2zm0 2zm0 2zm0 2zm0 2zm0 2zm0 2zm0 2zm0 2zm0 2zm0 2zm0 8zm0 2zm0 2zm0 6zm3-55zm0 2zm0 2zm0 2zm0 2zm0 2zm0 2zm0 2zm0 2zm0 2zm0 2zm0 2zm0 2zm0 2zm0 2zm0 2zm0 2zm0 2zm0 2zm0 2zm0 6zm0 2zm0 4zm3-49zm0 2zm0 2zm0 2zm0 2zm0 2zm0 2zm0 2zm0 2zm0 2zm0 2zm0 2zm0 2zm0 2zm0 2zm0 2zm0 2zm0 2zm0 2zm0 2zm0 8zm0 2zm0 6zm3-55zm0 2zm0 2zm0 2zm0 2zm0 2zm0 2zm0 2zm0 2zm0 2zm0 2zm0 2zm0 2zm0 2zm0 2zm0 2zm0 2zm0 2zm0 4zm0 6zm0 2zm0 4zm3-37zm0 2zm0 2zm0 2zm0 2zm0 2zm0 2zm0 2zm0 2zm0 4zm0 4zm0 4zm0 4zm0 4zm3-35zm0 2zm0 2zm0 2zm0 2zm0 2zm0 2zm0 2zm0 2zm0 2zm0 12zm3-31zm0 2zm0 4zm0 10zm0 4zm0 4zm0 2zm0 2zm0 2zm0 2zm3-39zm0 4zm0 2zm0 2zm0 2zm0 4zm0 2zm0 4zm0 2zm0 8zm0 2zm0 2zm0 4zm0 4zm0 36zm0 8zm3-81zm0 2zm0 2zm0 2zm0 2zm0 2zm0 2zm0 2zm0 2zm0 2zm0 4zm3-29zm0 2zm0 2zm0 2zm0 2zm0 2zm0 2zm0 2zm0 2zm0 2zm0 2zm0 2zm0 2zm0 2zm0 2zm3-21zm0 2zm0 2zm0 2zm0 2zm0 2zm0 2zm0 2zm0 2zm0 2zm3-25zm0 2zm0 2zm0 2zm0 2zm0 2zm0 2zm0 2zm0 2zm0 2zm0 2zm0 2zm0 2zm0 2zm3-21zm0 2zm0 2zm0 2zm0 2zm0 2zm0 2zm0 2zm0 2zm0 2zm0 2zm3-25zm0 12zm3-5zm0 2zm0 2zm0 4zm0 2zm0 2zm0 2zm0 2zm0 2zm12-8zm0 6zm0 10zm0 4zm3-21zm0 8zm0 2zm0 8zm0 8zm6-36zm0 4zm0 2zm0 2zm0 6zm3-23zm0 4zm0 2zm0 2zm0 6zm0 6zm0 6zm3-21zm0 4zm0 4zm0 2zm0 2zm0 2zm0 4zm0 2zm3-25zm3 3zm0 6zm0 18zm3-27zm0 2zm0 2zm0 2zm0 2zm0 2zm0 2zm0 2zm0 4zm0 2zm0 2zm0 4zm0 2zm0 2zm0 4zm0 2zm0 18zm3-55zm0 2zm0 2zm0 2zm0 2zm0 2zm0 2zm0 2zm0 2zm0 2zm0 2zm0 2zm0 2zm0 2zm0 2zm0 2zm0 2zm0 2zm0 2zm0 2zm3-37zm0 2zm0 2zm0 2zm0 2zm0 2zm0 2zm0 2zm0 2zm0 2zm0 2zm0 2zm0 4zm0 2zm0 2zm0 2zm0 2zm0 2zm3-11zm3-15zm0 2zm0 2zm0 4zm0 4zm0 2zm0 2zm0 2zm0 2zm0 2zm0 2zm0 2zm0 18zm3-45zm0 6zm0 4zm0 4zm0 2zm0 2zm0 2zm0 2zm0 2zm0 2zm0 2zm3-27zm0 2zm0 6zm0 4zm0 4zm0 2zm0 2zm0 2zm0 2zm0 2zm24-34zm21-1zm0 2zm0 2zm0 2z"/>
<path vector-effect="non-scaling-stroke" d="M-100 13zm0 2zm0 2zm0 4zm0 2zm0 2zm0 2zm0 2zm0 2zm0 2zm0 2zm0 2zm0 2zm3-21zm0 2zm0 2zm0 2zm0 2zm0 2zm0 2zm0 2zm0 2zm0 2zm0 2zm0 2zm0 2zm3-31zm0 2zm0 2zm0 2zm0 2zm0 2zm0 2zm0 2zm0 2zm0 2zm0 2zm0 2zm0 2zm0 2zm0 2zm0 2zm0 2zm0 2zm3-33zm0 2zm0 2zm0 2zm0 2zm0 2zm0 2zm0 2zm0 2zm0 2zm0 2zm0 2zm0 2zm0 2zm0 2zm0 2zm0 2zm3-33zm0 2zm0 2zm0 2zm0 2zm0 2zm0 2zm0 2zm0 2zm0 2zm0 2zm0 2zm0 2zm0 2zm0 2zm0 2zm0 2zm0 2zm3-33zm0 2zm0 2zm0 2zm0 2zm0 2zm0 2zm0 2zm0 2zm0 2zm0 2zm0 2zm0 2zm0 2zm0 2zm0 2zm0 2zm3-33zm0 2zm0 2zm0 2zm0 2zm0 2zm0 2zm0 2zm0 2zm0 2zm0 2zm0 2zm0 2zm0 2zm0 2zm0 2zm0 2zm0 2zm3-33zm0 2zm0 2zm0 2zm0 2zm0 2zm0 2zm0 2zm0 2zm0 2zm0 2zm0 2zm0 2zm0 2zm0 2zm0 2zm0 2zm3-33zm0 2zm0 2zm0 2zm0 2zm0 2zm0 2zm0 2zm0 2zm0 2zm0 2zm0 2zm0 2zm0 2zm0 2zm0 2zm0 2zm0 2zm3-33zm0 2zm0 2zm0 2zm0 2zm0 2zm0 2zm0 2zm0 2zm0 2zm0 2zm0 2zm0 2zm0 2zm0 2zm0 2zm0 2zm3-33zm0 2zm0 2zm0 2zm0 2zm0 2zm0 2zm0 2zm0 2zm0 2zm0 2zm0 2zm0 2zm0 2zm0 2zm0 2zm0 2zm0 2zm3-33zm0 2zm0 2zm0 2zm0 2zm0 2zm0 2zm0 2zm0 2zm0 2zm0 2zm0 2zm0 2zm0 2zm0 2zm0 2zm0 2zm0 2zm0 4zm0 6zm3-45zm0 2zm0 2zm0 2zm0 2zm0 2zm0 2zm0 2zm0 2zm0 2zm0 2zm0 2zm0 2zm0 2zm0 2zm0 2zm0 2zm0 2zm3-33zm0 2zm0 2zm0 2zm0 2zm0 2zm0 2zm0 2zm0 2zm0 2zm0 2zm0 2zm0 2zm0 2zm0 2zm0 2zm0 2zm3-33zm0 2zm0 2zm0 2zm0 2zm0 2zm0 2zm0 2zm0 2zm0 2zm0 2zm0 2zm0 2zm0 2zm0 2zm0 2zm0 2zm0 2zm3-33zm0 2zm0 2zm0 2zm0 2zm0 2zm0 2zm0 2zm0 2zm0 2zm0 2zm0 2zm0 2zm0 2zm0 2zm0 2zm0 2zm3-33zm0 2zm0 2zm0 2zm0 2zm0 2zm0 2zm0 2zm0 2zm0 2zm0 2zm0 2zm0 2zm0 2zm0 2zm0 2zm0 2zm0 2zm3-33zm0 2zm0 2zm0 2zm0 2zm0 2zm0 2zm0 2zm0 2zm0 2zm0 2zm0 2zm0 2zm0 2zm0 2zm0 2zm0 2zm0 2zm0 2zm3-37zm0 2zm0 2zm0 2zm0 2zm0 2zm0 2zm0 2zm0 2zm0 2zm0 2zm0 2zm0 2zm0 2zm0 2zm0 2zm0 2zm0 2zm3-33zm0 2zm0 2zm0 2zm0 2zm0 2zm0 2zm0 2zm0 2zm0 2zm0 2zm0 2zm0 2zm0 2zm0 2zm0 2zm0 2zm0 2zm0 2zm0 2zm3-39zm0 2zm0 2zm0 2zm0 2zm0 2zm0 2zm0 2zm0 2zm0 2zm0 2zm0 2zm0 2zm0 2zm0 2zm0 2zm0 2zm0 2zm0 2zm3-35zm0 2zm0 2zm0 2zm0 2zm0 2zm0 2zm0 2zm0 2zm0 2zm0 2zm0 2zm0 2zm0 2zm0 2zm0 2zm0 2zm0 2zm0 2zm0 10zm0 2zm3-49zm0 2zm0 2zm0 2zm0 2zm0 2zm0 2zm0 2zm0 2zm0 2zm0 2zm0 2zm0 2zm0 2zm0 2zm0 2zm0 2zm0 2zm0 2zm0 2zm0 2zm3-39zm0 2zm0 2zm0 2zm0 2zm0 2zm0 2zm0 2zm0 2zm0 2zm0 2zm0 2zm0 2zm0 2zm0 2zm0 2zm0 2zm0 2zm0 2zm0 2zm0 6zm0 2zm0 2zm3-49zm0 2zm0 2zm0 2zm0 2zm0 2zm0 2zm0 2zm0 2zm0 2zm0 2zm0 2zm0 2zm0 2zm0 2zm0 2zm0 2zm0 2zm0 4zm0 8zm0 2zm3-47zm0 2zm0 2zm0 2zm0 2zm0 2zm0 2zm0 2zm0 2zm0 2zm0 2zm0 2zm0 2zm0 2zm0 2zm0 2zm0 2zm0 2zm0 2zm0 2zm0 6zm0 2zm0 2zm0 6zm3-55zm0 2zm0 2zm0 2zm0 2zm0 2zm0 2zm0 2zm0 2zm0 2zm0 2zm0 2zm0 2zm0 2zm0 2zm0 2zm0 2zm0 2zm0 16zm0 6zm3-55zm0 2zm0 2zm0 2zm0 2zm0 2zm0 2zm0 2zm0 2zm0 2zm0 2zm0 2zm0 2zm0 2zm0 2zm0 2zm0 2zm0 2zm0 2zm0 2zm0 6zm0 2zm0 2zm0 2zm0 4zm3-55zm0 2zm0 2zm0 2zm0 2zm0 2zm0 2zm0 2zm0 2zm0 2zm0 2zm0 2zm0 2zm0 2zm0 2zm0 2zm0 2zm0 2zm0 4zm3-27zm0 2zm0 2zm0 2zm0 2zm0 2zm0 2zm0 2zm0 2zm0 2zm0 4zm0 4zm0 2zm0 2zm0 2zm0 2zm3-35zm0 2zm0 2zm0 2zm0 4zm0 2zm0 2zm0 2zm0 2zm0 2zm0 6zm0 8zm3-31zm0 2zm0 4zm3-9zm0 2zm0 2zm0 2zm0 4zm0 2zm0 4zm0 2zm0 2zm0 6zm0 8zm0 4zm0 36zm0 8zm3-87zm0 2zm0 2zm0 2zm0 2zm0 2zm0 2zm0 2zm0 2zm0 2zm0 6zm3-25zm0 2zm0 2zm0 2zm0 2zm0 2zm0 2zm0 2zm0 2zm0 2zm0 2zm0 2zm0 2zm0 2zm0 2zm3-27zm0 2zm0 2zm0 2zm0 2zm0 2zm0 2zm0 2zm0 2zm0 2zm0 2zm0 2zm0 2zm0 4zm3-29zm0 2zm0 2zm0 2zm0 2zm0 2zm0 2zm0 2zm0 2zm0 2zm0 2zm0 2zm0 2zm0 2zm3-17zm0 2zm0 4zm0 2zm3-17zm0 4zm0 2zm0 2zm0 2zm0 2zm0 2zm0 2zm0 2zm0 2zm0 2zm12 12zm0 18zm3-35zm0 10zm0 2zm0 4zm0 2zm0 2zm0 28zm3-31zm0 2zm0 6zm0 4zm3-29zm0 10zm0 2zm0 4zm0 2zm3-29zm0 4zm0 4zm0 2zm0 6zm0 2zm3-27zm0 2zm0 2zm0 2zm0 2zm0 2zm0 4zm0 2zm0 2zm0 2zm0 6zm6-26zm0 4zm0 2zm0 20zm3-21zm0 4zm0 4zm0 2zm0 2zm0 2zm0 2zm0 2zm0 2zm0 2zm3-27zm0 4zm0 2zm0 2zm0 6zm0 4zm0 2zm0 6zm0 4zm0 6zm3-27zm0 4zm0 2zm0 2zm0 2zm0 4zm0 2zm0 2zm0 2zm0 4zm0 2zm3-25zm0 2zm0 2zm0 2zm0 2zm0 8zm0 2zm0 2zm0 4zm0 2zm3-29zm0 2zm0 4zm0 2zm0 2zm0 2zm0 4zm0 2zm0 2zm3-15zm0 6zm0 8zm0 2zm0 6zm0 2zm3-29zm0 2zm0 6zm0 4zm0 2zm0 2zm0 4zm0 2zm0 2zm0 2zm0 2zm3-13zm0 4zm0 4zm0 6zm3-1zm0 2zm24-36zm0 4zm0 2zm36-6zm0 4zm0 2z"/>
</g>
<path d="M713.4 964L1264.8 918.2" fill="none" stroke="#a1c9f4" stroke-width="1.9"/>
<rect x="686.6" y="565.2" width="604.8" height="481.1" fill="none" stroke="#d1d1d1" stroke-width="1.25"/>
<text class="tk" transform="translate(747.4 1060.6) scale(.85 1)" text-anchor="middle">-15</text>
<text class="tk" transform="translate(834.7 1060.6) scale(.85 1)" text-anchor="middle">-10</text>
<text class="tk" transform="translate(922 1060.6) scale(.85 1)" text-anchor="middle">-5</text>
<text class="tk" transform="translate(1009.3 1060.6) scale(.85 1)" text-anchor="middle">0</text>
<text class="tk" transform="translate(1096.6 1060.6) scale(.85 1)" text-anchor="middle">5</text>
<text class="tk" transform="translate(1183.9 1060.6) scale(.85 1)" text-anchor="middle">10</text>
<text class="tk" transform="translate(1271.2 1060.6) scale(.85 1)" text-anchor="middle">15</text>
<text class="tk" transform="translate(679.1 1036.3) scale(.85 1)" text-anchor="end">0</text>
<text class="tk" transform="translate(679.1 981.6) scale(.85 1)" text-anchor="end">20</text>
<text class="tk" transform="translate(679.1 926.9) scale(.85 1)" text-anchor="end">40</text>
<text class="tk" transform="translate(679.1 872.3) scale(.85 1)" text-anchor="end">60</text>
<text class="tk" transform="translate(679.1 817.6) scale(.85 1)" text-anchor="end">80</text>
<text class="tk" transform="translate(679.1 762.9) scale(.85 1)" text-anchor="end">100</text>
<text class="tk" transform="translate(679.1 708.2) scale(.85 1)" text-anchor="end">120</text>
<text class="tk" transform="translate(679.1 653.5) scale(.85 1)" text-anchor="end">140</text>
<text class="tk" transform="translate(679.1 598.9) scale(.85 1)" text-anchor="end">160</text>
<text class="lb" x="988.5" y="1072.5" text-anchor="middle">기온(℃)</text>
<text class="lb" transform="translate(661.4 807.2) rotate(-90)" text-anchor="middle">미세먼지</text>
<text class="tt" x="988.5" y="555.5" text-anchor="middle">기온과 미세먼지의 관계</text>
</svg>
</body></html>
